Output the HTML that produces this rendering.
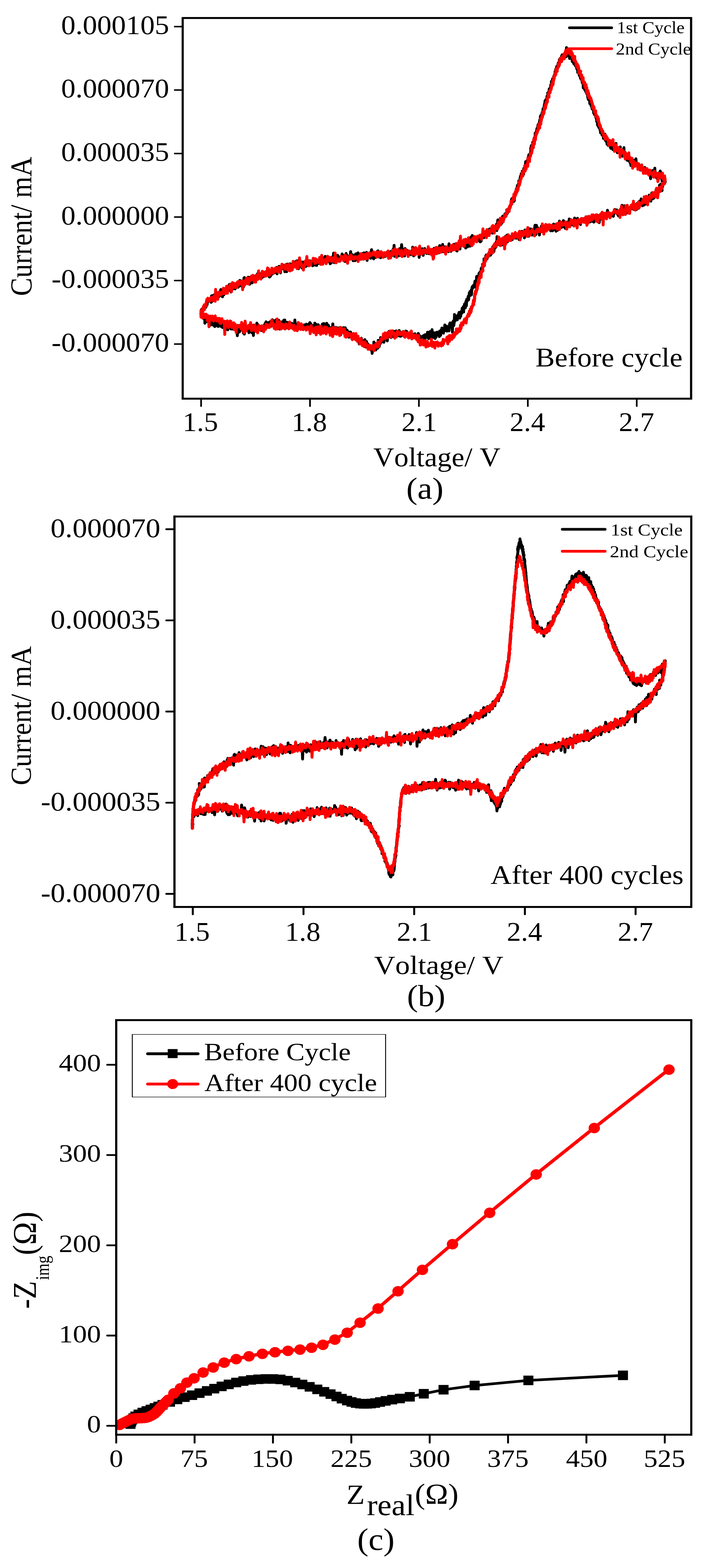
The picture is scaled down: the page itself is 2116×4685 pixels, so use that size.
<!DOCTYPE html>
<html><head><meta charset="utf-8"><title>Figure</title>
<style>
html,body{margin:0;padding:0;background:#fff;}
svg{display:block;}
text{font-family:"Liberation Serif","DejaVu Serif",serif;font-kerning:none;fill:#000;}
</style></head>
<body>
<svg width="2116" height="4685" viewBox="0 0 2116 4685">
<rect width="2116" height="4685" fill="#fff"/>
<polyline points="601.2,946.7 600.7,937.4 600.9,935.1 601.9,925.0 602.3,934.1 602.3,931.3 603.7,929.0 603.2,931.1 604.5,930.2 604.8,922.3 605.9,921.7 606.4,922.1 606.5,926.2 607.3,924.3 608.9,914.2 609.3,913.7 610.0,921.6 610.8,924.7 611.4,915.3 611.6,910.6 612.9,919.0 613.9,910.1 614.9,914.7 615.2,918.2 617.3,911.9 617.7,907.6 619.1,910.3 619.3,901.2 621.1,902.8 621.9,899.3 623.5,900.5 624.1,897.7 625.7,898.5 626.8,896.2 627.4,898.1 628.5,897.0 629.7,897.4 631.0,903.3 632.2,884.0 633.1,900.9 634.3,890.3 635.6,883.1 636.9,888.9 637.9,889.7 639.3,895.1 640.6,880.5 641.9,887.9 642.9,886.4 644.5,873.9 645.8,876.3 646.9,887.1 648.1,886.9 649.5,888.7 650.6,884.3 651.9,882.6 653.4,880.0 654.5,886.4 655.8,872.1 657.1,876.0 658.4,878.7 659.8,865.0 661.1,883.4 662.2,868.8 663.6,872.8 664.9,886.9 666.4,866.4 667.7,867.7 668.9,880.9 670.2,862.6 671.4,866.3 673.0,871.9 674.4,870.9 675.7,871.1 676.9,869.0 678.4,874.9 679.7,872.0 681.0,868.6 682.5,859.4 683.7,858.5 685.1,849.9 686.3,866.7 688.0,849.2 689.5,866.7 690.5,872.5 692.1,852.4 693.4,854.3 694.7,855.1 696.2,863.2 697.4,851.3 698.9,855.6 700.2,852.3 701.6,853.5 702.8,863.3 704.3,859.2 705.8,853.9 707.1,854.6 708.3,858.0 709.9,843.1 711.3,858.5 712.6,853.4 714.1,855.7 715.3,849.8 716.8,837.7 718.2,843.8 719.5,853.0 720.9,847.2 722.4,846.1 723.9,857.9 725.0,860.1 726.3,844.4 727.9,857.1 729.2,830.1 730.6,829.2 732.0,848.3 733.5,840.1 734.8,845.2 736.1,844.2 737.6,839.6 738.9,844.2 740.4,840.1 741.8,828.2 743.2,839.5 744.5,838.7 746.1,849.3 747.3,828.8 748.8,836.0 750.4,832.4 751.6,833.9 753.1,845.4 754.4,836.3 755.8,830.0 757.3,833.7 758.5,837.3 760.1,824.9 761.4,829.3 762.9,841.0 764.3,835.8 765.7,829.2 767.0,825.8 768.5,827.4 769.8,817.5 771.3,833.8 772.8,829.2 774.1,827.3 775.5,817.1 777.0,820.5 778.4,828.3 779.8,826.1 781.1,820.5 782.5,826.8 783.9,829.2 785.3,817.8 786.9,818.3 788.3,815.5 789.7,813.0 791.0,825.8 792.5,823.3 794.0,821.7 795.3,811.0 796.8,811.4 798.1,817.5 799.6,814.7 801.1,817.8 802.5,811.8 803.9,820.5 805.3,827.8 806.7,825.6 808.1,825.5 809.5,814.6 811.0,819.9 812.4,810.7 813.9,819.0 815.2,809.7 816.7,808.5 818.0,807.0 819.5,815.6 821.0,812.3 822.5,811.2 823.8,801.8 825.3,810.0 826.7,798.9 828.1,818.2 829.6,806.8 831.0,808.6 832.4,806.1 833.9,795.7 835.3,796.7 836.7,805.4 838.2,815.3 839.7,797.2 841.1,799.5 842.6,803.6 843.9,792.1 845.5,791.6 846.9,799.9 848.3,802.0 849.7,799.3 851.2,812.0 852.6,800.1 854.1,803.3 855.6,811.3 857.0,811.7 858.5,788.9 859.9,796.8 861.4,806.9 862.9,789.3 864.3,792.1 865.8,789.2 867.2,788.4 868.6,789.6 870.2,798.2 871.6,805.3 873.0,806.7 874.6,796.1 876.0,782.3 877.5,795.0 878.9,792.7 880.4,797.1 881.8,793.5 883.3,781.9 884.8,796.6 886.3,779.4 887.7,788.4 889.2,794.9 890.7,794.9 892.2,802.9 893.6,775.8 895.1,793.9 896.6,795.9 898.0,788.7 899.5,795.0 901.0,782.8 902.4,800.7 903.9,793.3 905.3,782.7 906.9,784.5 908.3,787.4 909.8,783.9 911.2,795.2 912.7,788.9 914.1,796.4 915.6,795.1 917.1,787.2 918.6,785.2 920.1,779.7 921.5,780.4 923.0,780.1 924.4,787.6 925.9,778.9 927.4,785.2 928.8,785.6 930.3,789.5 931.8,782.5 933.3,793.3 934.8,794.1 936.2,777.6 937.7,781.3 939.2,779.8 940.6,780.2 942.1,792.2 943.6,786.2 945.1,789.8 946.5,793.1 948.0,777.8 949.5,779.2 951.0,780.5 952.5,787.0 953.9,779.2 955.4,784.0 956.9,787.3 958.4,787.1 959.9,782.0 961.3,773.4 962.8,767.9 964.3,785.9 965.8,781.2 967.3,771.5 968.8,774.3 970.3,774.4 971.8,765.9 973.2,778.8 974.7,771.6 976.2,774.7 977.7,781.6 979.2,775.7 980.7,779.9 982.2,778.8 983.7,776.0 985.1,775.9 986.6,788.1 988.1,774.1 989.6,786.1 991.1,768.7 992.6,779.7 994.1,775.7 995.6,769.4 997.1,756.2 998.6,784.9 1000.1,766.0 1001.6,767.2 1003.0,774.4 1004.5,773.8 1006.0,775.1 1007.5,771.3 1009.0,762.7 1010.5,778.6 1012.0,766.4 1013.5,773.9 1015.0,776.1 1016.5,780.1 1018.0,770.4 1019.5,769.6 1020.9,770.0 1022.4,758.8 1023.9,766.1 1025.4,764.2 1026.9,763.1 1028.4,771.9 1029.9,768.5 1031.4,781.3 1032.9,780.4 1034.4,757.3 1035.9,770.8 1037.4,763.0 1038.9,773.4 1040.3,770.6 1041.8,775.7 1043.3,771.3 1044.8,774.2 1046.3,766.9 1047.8,751.7 1049.3,760.5 1050.8,762.6 1052.3,765.0 1053.8,761.3 1055.3,779.1 1056.8,766.7 1058.3,776.5 1059.8,765.3 1061.2,778.7 1062.7,759.1 1064.2,771.2 1065.7,757.9 1067.2,769.8 1068.7,777.5 1070.2,755.4 1071.7,760.5 1073.2,767.9 1074.7,764.8 1076.2,774.8 1077.7,773.7 1079.2,766.0 1080.7,774.3 1082.1,767.5 1083.7,757.4 1085.1,761.8 1086.6,774.3 1088.1,755.4 1089.6,761.5 1091.1,768.6 1092.6,771.2 1094.1,769.8 1095.6,754.0 1097.1,778.1 1098.6,762.6 1100.1,763.6 1101.6,763.4 1103.1,761.7 1104.6,756.5 1106.0,760.7 1107.5,771.8 1109.0,753.3 1110.5,745.9 1112.0,765.9 1113.5,764.4 1115.0,766.9 1116.5,773.5 1118.0,756.7 1119.5,762.7 1121.0,764.7 1122.5,769.5 1123.9,768.0 1125.4,755.1 1126.9,751.3 1128.4,758.7 1129.9,749.4 1131.4,767.8 1132.9,757.4 1134.4,757.5 1135.9,753.7 1137.4,770.0 1138.9,761.5 1140.4,756.6 1141.9,763.4 1143.4,758.5 1144.9,763.0 1146.3,767.8 1147.8,756.9 1149.3,762.0 1150.8,761.7 1152.3,766.0 1153.8,762.2 1155.3,758.3 1156.8,753.6 1158.3,759.9 1159.8,750.6 1161.3,762.1 1162.8,757.9 1164.3,761.2 1165.8,753.8 1167.3,751.8 1168.8,750.9 1170.3,764.6 1171.8,755.5 1173.3,755.3 1174.8,744.6 1176.3,756.3 1177.8,733.1 1179.3,765.8 1180.8,754.8 1182.3,756.5 1183.8,746.6 1185.3,748.8 1186.8,760.3 1188.3,754.7 1189.8,758.9 1191.3,764.6 1192.7,760.4 1194.2,742.9 1195.7,749.0 1197.2,747.9 1198.7,749.4 1200.2,731.1 1201.7,741.4 1203.2,750.3 1204.7,751.2 1206.2,758.7 1207.7,752.9 1209.2,764.7 1210.7,742.5 1212.2,745.4 1213.7,756.5 1215.2,752.8 1216.7,747.9 1218.2,759.8 1219.7,761.9 1221.2,763.3 1222.7,751.6 1224.2,754.2 1225.7,755.7 1227.2,754.4 1228.7,760.9 1230.2,750.5 1231.7,756.3 1233.2,738.6 1234.7,758.7 1236.2,764.7 1237.7,753.2 1239.2,760.4 1240.7,742.0 1242.2,750.9 1243.7,742.6 1245.2,755.2 1246.7,756.5 1248.2,743.5 1249.7,747.0 1251.2,748.7 1252.7,769.1 1254.2,752.0 1255.7,753.2 1257.2,754.8 1258.7,754.3 1260.2,750.5 1261.7,743.0 1263.2,747.4 1264.7,763.0 1266.2,753.5 1267.7,749.2 1269.2,742.4 1270.7,751.1 1272.2,751.6 1273.7,746.9 1275.2,757.3 1276.7,747.1 1278.2,749.9 1279.7,756.6 1281.2,752.3 1282.7,758.3 1284.2,749.0 1285.6,747.5 1287.1,753.5 1288.6,751.7 1290.1,758.1 1291.6,752.7 1293.1,749.6 1294.6,752.7 1296.1,754.0 1297.6,741.8 1299.1,748.3 1300.6,746.8 1302.1,757.1 1303.5,745.5 1305.0,755.8 1306.5,739.8 1308.0,747.9 1309.5,755.3 1311.0,746.1 1312.5,755.5 1314.0,733.7 1315.5,747.4 1317.0,748.1 1318.4,745.9 1320.0,736.3 1321.4,750.8 1322.9,730.2 1324.4,752.2 1325.9,747.5 1327.4,752.0 1328.8,743.3 1330.3,737.2 1331.8,740.9 1333.2,741.0 1334.7,747.9 1336.1,741.4 1337.6,746.0 1339.0,746.1 1340.5,752.1 1341.9,728.6 1343.3,738.9 1344.8,745.9 1346.2,745.5 1347.7,751.0 1349.1,738.2 1350.5,738.8 1351.9,739.9 1353.4,734.7 1354.8,733.7 1356.3,730.0 1357.6,734.5 1359.1,745.9 1360.5,729.6 1361.9,742.1 1363.4,748.2 1364.6,736.0 1366.1,750.0 1367.5,732.7 1369.1,744.4 1370.4,732.4 1371.9,724.0 1373.3,734.1 1374.7,744.0 1376.1,726.8 1377.6,733.6 1378.9,723.1 1380.4,723.4 1381.8,732.0 1383.2,727.2 1384.5,731.7 1386.0,736.0 1387.4,719.0 1389.0,721.8 1390.2,726.2 1391.7,741.1 1393.2,722.8 1394.5,721.2 1396.0,726.9 1397.3,737.7 1398.8,719.0 1400.2,720.4 1401.5,722.2 1403.0,726.5 1404.3,735.7 1405.8,712.0 1407.3,708.7 1408.6,720.5 1410.0,722.5 1411.4,703.4 1412.9,713.8 1414.3,723.9 1415.7,713.4 1417.1,719.7 1418.5,717.1 1420.0,719.8 1421.4,717.8 1422.9,716.1 1424.2,722.2 1425.6,709.5 1427.1,713.6 1428.2,719.8 1429.7,707.9 1431.2,708.6 1432.5,705.4 1433.8,703.6 1435.3,722.8 1436.7,711.8 1437.9,720.6 1439.5,712.3 1440.5,707.3 1441.9,704.2 1443.2,707.2 1444.6,704.4 1445.8,710.1 1447.3,697.6 1448.8,703.7 1450.0,705.0 1451.2,699.6 1452.6,698.9 1454.0,703.3 1455.1,702.6 1456.6,697.4 1458.2,697.2 1459.1,692.9 1460.4,699.4 1461.6,694.1 1463.2,683.9 1464.1,691.2 1465.5,696.3 1467.1,693.3 1467.9,685.0 1469.2,694.4 1470.4,692.7 1471.4,691.8 1472.4,696.7 1474.2,684.0 1475.2,688.9 1476.1,682.6 1477.8,689.3 1478.3,689.3 1479.4,684.2 1480.3,684.7 1481.8,674.2 1482.9,681.8 1483.8,669.9 1484.9,688.8 1485.8,681.6 1486.8,664.7 1487.9,657.0 1489.5,679.0 1490.2,665.4 1491.3,672.3 1492.7,660.6 1493.6,667.2 1494.4,662.0 1495.5,667.9 1496.0,661.5 1497.0,670.4 1498.7,656.8 1499.5,666.8 1500.2,658.6 1501.3,660.3 1501.7,647.8 1502.5,645.8 1503.3,659.3 1503.6,646.2 1504.5,649.6 1505.8,648.5 1506.2,644.2 1507.3,648.6 1508.9,639.2 1509.1,639.1 1509.6,648.2 1510.8,638.4 1511.4,644.7 1511.9,643.0 1512.3,645.8 1513.9,639.3 1514.3,627.0 1514.8,631.3 1515.2,631.2 1516.4,637.6 1516.9,632.1 1517.5,626.8 1518.8,629.8 1519.0,624.8 1520.2,627.7 1521.0,624.5 1521.1,627.6 1521.9,622.7 1522.6,624.3 1523.1,618.4 1524.1,620.3 1524.3,615.0 1524.9,617.3 1525.3,614.0 1526.5,611.1 1527.3,608.4 1528.1,607.7 1528.2,609.6 1528.7,596.0 1528.8,610.3 1530.2,593.0 1531.0,601.2 1531.5,599.2 1531.9,602.5 1533.3,598.9 1533.0,596.3 1533.2,595.5 1534.0,597.8 1535.0,602.4 1535.4,592.5 1537.0,580.7 1536.5,586.3 1537.3,588.5 1537.3,599.4 1537.6,580.7 1539.1,581.0 1539.6,583.5 1538.9,581.1 1540.5,572.8 1541.1,580.9 1542.1,570.0 1541.9,573.0 1542.1,578.2 1542.7,565.9 1543.7,568.5 1543.3,575.3 1544.5,566.0 1544.8,561.4 1545.0,561.9 1545.2,566.1 1546.1,555.1 1547.2,557.4 1547.4,552.7 1548.1,552.4 1547.2,560.7 1548.7,553.8 1548.7,551.0 1549.8,553.0 1549.9,547.0 1551.2,543.6 1550.4,551.6 1551.2,549.1 1550.2,540.8 1553.1,545.5 1552.0,547.1 1552.5,541.8 1553.6,540.4 1554.8,532.0 1554.1,535.0 1555.4,526.5 1554.8,537.2 1556.4,530.6 1556.5,535.3 1557.3,525.3 1557.6,530.7 1557.7,519.0 1558.2,522.5 1559.2,525.1 1559.8,523.0 1560.5,519.8 1560.8,511.5 1561.1,523.0 1561.8,518.8 1562.1,519.5 1562.8,518.1 1563.7,510.1 1564.4,512.1 1564.8,520.9 1565.2,503.9 1566.2,508.1 1566.0,502.4 1567.5,511.4 1568.1,502.9 1568.1,496.1 1568.9,496.7 1570.2,491.7 1570.8,486.4 1570.9,483.1 1571.8,490.7 1571.1,487.5 1573.2,491.9 1574.2,486.1 1573.7,489.4 1573.5,494.9 1575.2,480.5 1576.3,479.0 1576.1,487.1 1577.5,491.6 1577.7,476.4 1577.9,471.6 1578.8,476.1 1579.5,474.2 1579.5,477.9 1579.2,468.7 1579.5,470.6 1579.8,469.0 1580.5,462.5 1582.3,461.1 1582.5,467.7 1581.9,466.7 1583.5,459.9 1582.8,467.8 1583.9,463.8 1584.2,460.5 1584.2,459.7 1584.8,457.2 1584.9,457.2 1585.6,456.3 1586.5,451.7 1586.0,442.0 1587.1,447.9 1586.6,443.9 1588.4,441.0 1587.4,446.5 1587.7,435.8 1588.6,444.5 1588.9,437.3 1589.3,433.6 1590.0,433.5 1589.5,444.6 1591.4,439.8 1590.7,431.5 1591.3,435.3 1591.5,436.7 1592.2,424.8 1593.3,425.6 1593.1,429.0 1593.8,425.5 1595.4,421.0 1595.1,427.6 1595.2,421.7 1594.7,421.4 1596.2,426.4 1596.7,417.3 1596.7,424.6 1596.3,413.7 1597.5,410.4 1597.6,410.1 1599.1,411.7 1599.1,409.4 1599.5,406.8 1599.4,397.8 1599.9,398.0 1601.2,399.9 1601.6,402.6 1602.4,404.1 1602.3,396.8 1602.6,394.7 1603.4,392.0 1603.1,392.0 1603.9,391.9 1604.2,386.1 1605.4,382.7 1604.7,390.9 1605.5,388.4 1606.3,382.1 1607.0,381.9 1607.2,378.1 1607.9,373.8 1608.0,380.8 1608.1,374.0 1609.1,370.7 1610.2,371.4 1610.0,379.2 1610.5,372.8 1611.1,370.5 1611.6,368.5 1611.9,370.3 1611.6,368.3 1613.3,358.6 1614.2,361.5 1613.4,358.3 1613.9,360.5 1614.8,357.9 1615.0,348.5 1614.6,360.0 1617.1,354.9 1616.1,345.3 1617.7,355.6 1617.3,350.0 1617.6,350.0 1617.7,346.8 1618.7,345.9 1619.3,341.7 1620.4,335.6 1620.2,338.4 1620.5,340.2 1621.1,338.2 1621.1,339.2 1622.3,334.8 1623.0,324.6 1622.9,335.3 1623.5,327.6 1623.8,323.9 1623.9,326.7 1625.4,321.0 1624.6,326.5 1625.9,319.9 1626.4,330.1 1625.9,319.7 1627.3,317.1 1626.6,315.2 1628.2,307.7 1627.4,311.5 1629.3,310.5 1629.2,310.8 1628.7,301.7 1629.4,309.4 1630.0,313.1 1630.6,304.7 1631.0,297.9 1631.6,305.3 1632.3,298.9 1632.1,298.9 1633.0,303.2 1633.6,298.7 1635.5,291.5 1634.6,287.8 1634.5,302.9 1635.5,294.0 1636.6,284.3 1636.8,290.0 1636.6,290.7 1637.7,287.0 1636.9,277.5 1638.3,291.1 1639.0,284.7 1638.8,280.1 1640.3,282.2 1640.0,277.1 1640.5,275.2 1640.4,278.8 1641.4,265.7 1641.9,276.4 1642.5,272.5 1642.3,272.6 1643.2,271.7 1643.6,272.9 1644.3,271.0 1644.3,267.3 1644.7,260.8 1646.8,263.7 1646.6,257.5 1645.7,254.2 1647.3,258.4 1646.7,256.6 1647.6,258.4 1648.0,243.7 1648.3,253.2 1648.8,252.0 1649.1,248.4 1650.0,252.4 1650.7,241.5 1651.3,244.9 1649.6,240.6 1652.3,240.6 1651.6,235.3 1651.4,237.2 1652.6,239.0 1654.3,235.4 1654.4,234.8 1654.7,228.9 1654.1,237.0 1655.8,226.3 1656.3,227.8 1656.7,228.7 1656.9,224.1 1656.6,226.5 1656.9,222.8 1657.4,227.6 1658.2,221.4 1658.7,219.4 1659.1,212.9 1659.3,216.8 1659.3,217.7 1660.4,213.8 1660.7,206.7 1662.0,206.9 1662.8,206.9 1662.9,206.6 1663.6,199.1 1664.0,211.8 1664.4,201.9 1664.5,201.4 1665.1,197.6 1666.1,198.0 1666.1,205.4 1667.7,191.3 1667.8,191.8 1668.5,188.1 1669.0,188.9 1669.4,197.2 1670.2,185.9 1671.3,185.3 1672.0,177.5 1672.4,183.1 1673.0,184.6 1674.0,179.8 1674.2,178.9 1675.4,183.6 1675.8,180.9 1676.8,176.4 1678.2,171.7 1678.8,166.6 1679.1,182.0 1680.1,163.7 1681.3,174.1 1681.7,168.4 1683.0,164.2 1684.5,171.8 1684.9,161.8 1686.1,171.7 1686.7,170.6 1688.1,165.1 1688.7,168.0 1689.7,154.3 1691.2,170.0 1691.8,161.9 1693.0,142.2 1694.0,163.9 1695.2,167.3 1696.2,152.4 1697.4,153.2 1697.7,157.5 1699.1,146.1 1699.5,158.5 1700.7,163.7 1702.1,158.2 1702.1,167.7 1702.3,174.9 1704.3,155.2 1705.4,157.1 1705.7,164.1 1706.3,172.3 1707.2,172.2 1708.3,166.8 1708.8,167.0 1709.1,170.3 1710.3,183.9 1711.4,171.8 1712.1,175.0 1713.0,183.9 1714.0,179.2 1715.1,177.0 1714.6,190.0 1716.1,186.0 1716.5,182.5 1717.2,185.3 1717.2,192.7 1718.9,188.1 1718.3,192.3 1719.6,196.5 1721.4,198.3 1720.9,186.9 1722.1,194.4 1722.0,196.4 1722.5,199.8 1723.8,204.1 1724.4,207.2 1724.5,201.5 1724.9,200.0 1725.6,207.1 1726.4,205.1 1726.6,216.5 1728.1,212.0 1727.9,212.1 1728.5,217.5 1728.9,211.8 1729.2,214.6 1730.6,216.7 1730.6,221.6 1731.7,225.8 1732.0,225.0 1733.9,226.3 1733.5,223.5 1734.7,227.5 1733.3,226.3 1734.9,233.6 1735.7,227.4 1735.4,231.2 1736.6,233.9 1736.7,237.6 1738.3,232.5 1738.0,236.1 1738.6,234.9 1740.3,234.1 1739.7,245.9 1739.8,244.6 1741.1,237.6 1741.0,241.3 1741.3,249.2 1742.6,245.6 1743.3,262.5 1742.9,256.3 1744.6,250.3 1743.9,252.2 1745.1,257.6 1746.2,253.6 1746.5,258.1 1746.2,260.1 1747.1,263.9 1747.4,259.1 1747.4,268.1 1749.2,266.4 1750.6,273.9 1749.5,268.7 1749.7,266.9 1750.7,268.3 1751.7,267.2 1752.4,273.4 1752.3,274.5 1753.7,279.9 1753.3,277.9 1754.3,275.4 1755.9,284.7 1755.4,280.0 1755.9,284.3 1756.6,290.7 1756.7,291.3 1757.4,284.3 1757.4,288.3 1757.8,295.8 1758.3,295.7 1759.8,295.3 1759.3,298.1 1760.7,286.7 1762.2,295.9 1762.0,292.5 1761.8,297.3 1762.8,309.8 1763.9,304.7 1763.4,309.1 1764.8,308.8 1763.9,308.1 1764.7,306.8 1766.3,315.1 1765.7,312.2 1767.5,305.0 1767.1,313.6 1768.0,317.4 1768.3,312.6 1768.4,319.0 1769.8,325.8 1769.9,319.8 1770.9,322.0 1770.3,323.4 1770.3,320.9 1772.0,324.4 1772.5,323.6 1773.0,328.0 1773.9,327.2 1774.3,336.0 1773.8,332.9 1774.5,338.4 1775.3,330.9 1776.2,337.5 1776.6,341.4 1777.4,343.3 1776.6,339.2 1778.7,342.8 1778.7,345.1 1779.4,344.6 1780.5,345.7 1780.6,351.0 1780.6,345.4 1781.1,344.2 1782.5,351.1 1782.4,355.7 1783.2,346.6 1783.3,363.0 1784.7,359.3 1785.7,362.7 1784.6,358.3 1785.2,363.0 1785.6,372.1 1785.8,373.7 1787.8,370.1 1788.1,367.8 1787.0,370.0 1787.7,377.3 1789.1,370.3 1789.2,370.8 1790.2,375.5 1789.9,381.3 1791.5,374.4 1790.5,381.8 1791.9,383.3 1792.0,383.7 1792.8,383.8 1793.7,389.9 1793.7,389.7 1794.3,382.2 1794.8,397.0 1796.4,393.3 1795.5,394.1 1796.7,392.4 1797.8,394.0 1797.5,385.0 1798.0,396.8 1799.5,402.0 1799.2,403.4 1799.7,398.6 1801.5,391.9 1802.0,399.0 1803.2,404.3 1803.3,413.4 1804.7,400.5 1804.9,409.9 1805.5,414.1 1807.2,415.6 1808.1,413.3 1808.1,400.7 1809.1,419.5 1810.2,418.3 1811.2,421.8 1811.9,415.0 1812.7,418.7 1814.3,430.9 1814.8,423.2 1815.2,424.8 1816.3,421.8 1817.4,434.4 1818.9,418.2 1819.9,425.9 1820.4,432.7 1822.0,430.7 1822.9,437.5 1824.1,435.5 1825.2,443.0 1826.2,432.9 1827.5,434.3 1829.1,437.8 1830.1,424.9 1831.6,447.0 1833.0,432.2 1834.2,446.6 1835.7,449.4 1837.1,447.3 1838.6,442.6 1839.8,437.7 1841.1,428.4 1842.5,447.3 1843.6,442.7 1845.1,456.4 1846.3,443.9 1847.7,450.8 1849.0,444.9 1850.1,451.2 1851.1,447.0 1852.7,449.1 1853.7,439.1 1854.6,447.5 1855.9,452.0 1857.5,462.0 1858.2,456.7 1859.3,448.4 1860.6,466.8 1861.8,460.2 1862.6,465.9 1863.4,454.5 1864.7,441.0 1865.6,457.5 1867.4,456.9 1868.2,465.9 1869.1,455.9 1869.7,460.9 1871.2,459.0 1872.8,469.3 1873.6,463.8 1874.5,479.0 1874.9,476.5 1876.8,477.8 1877.8,472.3 1879.3,476.1 1880.1,481.1 1881.4,471.3 1882.7,485.5 1883.5,478.1 1884.5,487.6 1885.8,494.9 1887.2,491.4 1888.7,475.4 1889.7,491.0 1890.6,482.1 1892.3,482.3 1893.0,493.2 1894.4,479.2 1895.5,489.3 1896.9,484.0 1897.8,496.8 1899.2,492.5 1900.6,474.4 1901.6,485.9 1902.9,486.4 1904.1,489.3 1905.1,490.4 1906.6,496.9 1907.6,495.3 1909.0,490.0 1910.2,500.9 1911.5,504.9 1913.0,499.7 1914.0,508.3 1915.5,504.1 1916.7,498.3 1917.9,500.2 1919.2,503.6 1920.5,507.9 1921.8,506.2 1923.0,512.3 1924.4,514.3 1925.7,500.6 1927.0,500.3 1928.3,508.1 1929.6,512.6 1930.9,516.4 1932.5,515.3 1933.7,515.8 1934.9,506.2 1936.3,515.6 1937.6,509.5 1939.2,517.3 1940.2,521.2 1941.8,511.3 1943.0,514.8 1944.4,533.7 1945.7,512.6 1947.3,514.8 1948.7,511.4 1950.0,509.6 1951.3,526.7 1952.6,515.8 1954.1,516.7 1955.6,515.9 1957.0,502.6 1958.5,527.4 1960.0,518.8 1961.5,522.6 1963.0,532.6 1964.6,522.6 1966.1,524.8 1967.6,525.5 1969.1,533.4 1970.5,515.7 1971.9,521.5 1973.3,510.9 1974.8,526.5 1976.2,531.2 1977.2,524.5 1978.7,541.4 1979.8,535.4 1981.6,542.6 1982.9,532.0 1984.2,543.3 1985.2,530.1 1985.4,536.7 1987.2,536.3 1987.5,535.2 1988.0,543.8 1988.3,544.0 1987.8,538.0 1987.1,544.8 1987.0,543.7 1986.1,545.5 1985.1,549.0 1984.9,545.1 1983.6,550.0 1982.6,552.0 1982.4,548.7 1981.0,550.5 1980.2,559.0 1978.8,556.0 1978.7,569.4 1978.5,569.7 1977.0,555.4 1976.1,562.3 1974.7,550.3 1974.3,559.1 1972.5,558.7 1971.7,560.5 1971.0,553.5 1970.5,568.7 1969.1,569.1 1967.7,564.4 1966.3,569.9 1965.8,577.0 1964.1,582.2 1963.0,565.4 1962.4,584.2 1961.3,565.1 1959.8,571.5 1959.0,575.2 1958.1,588.1 1956.8,583.3 1955.9,584.2 1954.9,591.3 1953.9,584.0 1952.8,580.7 1951.4,593.7 1950.1,584.0 1948.8,578.3 1948.2,576.2 1946.5,589.2 1945.3,601.1 1943.9,594.8 1943.2,591.2 1941.8,599.6 1940.3,582.9 1938.9,596.3 1937.9,590.8 1936.7,604.2 1935.5,590.5 1934.1,602.1 1933.0,599.0 1931.9,598.6 1930.7,603.9 1929.4,599.3 1928.0,610.4 1927.0,600.4 1925.4,588.2 1924.2,612.9 1922.6,613.0 1921.4,608.3 1920.2,615.0 1918.8,611.1 1917.4,601.7 1916.2,594.3 1914.9,601.7 1913.5,607.5 1912.4,613.6 1910.9,601.3 1909.7,605.4 1908.3,622.4 1906.9,608.1 1905.6,608.5 1904.3,607.6 1902.8,625.7 1901.6,620.6 1900.2,621.9 1899.0,627.7 1897.6,623.5 1896.0,626.7 1894.8,620.6 1893.3,624.5 1891.9,623.4 1890.6,624.4 1889.0,612.1 1887.7,619.1 1886.3,618.6 1884.9,617.1 1883.4,621.7 1882.0,634.8 1880.6,629.3 1879.1,624.0 1877.7,626.1 1876.3,633.8 1874.8,616.3 1873.4,627.7 1871.9,636.8 1870.5,638.2 1869.0,632.5 1867.5,630.5 1866.1,614.8 1864.6,622.7 1863.2,627.7 1861.7,631.0 1860.4,631.6 1858.9,613.6 1857.4,626.0 1856.0,631.9 1854.5,625.2 1853.0,629.4 1851.5,634.8 1850.2,633.9 1848.7,645.2 1847.3,637.7 1845.9,640.8 1844.5,631.6 1843.0,626.9 1841.6,629.7 1840.2,631.6 1838.7,635.1 1837.2,625.6 1835.9,631.1 1834.5,635.1 1833.1,646.5 1831.5,641.3 1830.2,637.1 1828.7,644.6 1827.3,640.3 1825.8,641.1 1824.4,647.2 1822.9,642.7 1821.5,641.8 1820.1,646.1 1818.7,637.9 1817.2,642.4 1815.7,628.2 1814.3,640.0 1812.8,653.7 1811.4,641.2 1809.9,644.0 1808.5,641.4 1807.0,637.7 1805.6,648.3 1804.1,645.2 1802.6,653.1 1801.2,640.0 1799.7,646.6 1798.3,644.3 1796.8,642.9 1795.3,654.6 1793.9,642.6 1792.4,642.9 1790.9,665.3 1789.5,647.9 1788.0,647.3 1786.5,652.2 1785.0,642.4 1783.6,652.0 1782.1,641.8 1780.6,646.9 1779.2,646.5 1777.6,659.9 1776.2,655.3 1774.7,663.8 1773.2,662.9 1771.8,647.1 1770.3,655.6 1768.8,649.4 1767.3,648.3 1765.8,661.0 1764.4,662.9 1762.9,654.3 1761.4,656.0 1759.9,656.0 1758.5,656.5 1757.0,657.0 1755.5,648.0 1754.1,659.4 1752.6,650.8 1751.1,647.7 1749.6,655.2 1748.2,658.3 1746.7,662.5 1745.2,659.6 1743.7,659.4 1742.3,653.2 1740.9,660.7 1739.4,659.8 1737.9,660.7 1736.5,653.9 1735.0,670.9 1733.6,664.8 1732.1,664.6 1730.6,661.0 1729.2,658.7 1727.7,667.3 1726.2,652.3 1724.7,658.5 1723.3,660.0 1721.8,666.2 1720.3,660.6 1718.9,672.7 1717.4,651.4 1715.9,674.3 1714.5,666.2 1713.1,670.7 1711.6,661.2 1710.1,672.1 1708.7,663.1 1707.2,667.4 1705.8,655.9 1704.2,670.1 1702.8,667.5 1701.3,654.2 1699.9,666.7 1698.4,665.5 1697.0,673.6 1695.5,663.7 1694.0,670.0 1692.6,677.8 1691.1,663.4 1689.7,682.5 1688.3,671.7 1686.7,668.8 1685.2,661.4 1683.8,659.0 1682.3,677.9 1680.9,668.6 1679.4,667.8 1678.0,679.7 1676.5,677.4 1675.1,673.9 1673.6,663.4 1672.1,660.5 1670.6,680.6 1669.2,674.1 1667.7,673.0 1666.3,688.2 1664.8,672.6 1663.3,678.3 1661.9,690.9 1660.4,680.7 1659.0,673.1 1657.5,671.5 1656.0,685.9 1654.6,669.5 1653.1,684.0 1651.7,689.7 1650.2,678.3 1648.7,684.9 1647.3,680.2 1645.8,689.7 1644.4,682.2 1642.9,675.9 1641.4,683.5 1640.0,682.4 1638.5,677.5 1637.0,680.4 1635.5,674.1 1634.1,677.0 1632.7,687.4 1631.2,670.8 1629.7,685.6 1628.2,684.1 1626.8,680.3 1625.3,694.3 1623.9,689.8 1622.4,681.3 1620.9,687.1 1619.4,692.3 1618.0,675.7 1616.6,688.2 1615.1,685.4 1613.6,690.1 1612.2,702.2 1610.7,683.7 1609.3,686.2 1607.8,680.7 1606.3,690.7 1604.9,693.8 1603.4,673.2 1602.0,700.3 1600.5,701.6 1599.1,672.9 1597.7,681.1 1596.2,695.1 1594.7,692.9 1593.3,700.7 1591.9,691.2 1590.5,702.3 1588.9,684.6 1587.5,697.2 1586.0,691.8 1584.6,692.0 1583.2,683.5 1581.8,693.3 1580.3,705.8 1578.8,692.5 1577.4,695.7 1575.9,698.6 1574.5,691.6 1573.1,700.4 1571.7,702.8 1570.1,697.8 1568.8,687.2 1567.4,710.7 1565.8,701.1 1564.4,701.0 1563.0,700.1 1561.5,698.0 1560.2,691.1 1558.7,702.5 1557.2,704.3 1555.8,710.4 1554.4,715.2 1552.9,699.5 1551.4,715.9 1550.1,705.9 1548.6,709.7 1547.1,699.2 1545.7,708.9 1544.2,700.5 1542.7,711.9 1541.3,699.1 1539.8,708.3 1538.4,705.5 1536.9,711.1 1535.4,710.8 1534.0,710.5 1532.5,706.4 1531.0,716.1 1529.5,714.5 1528.1,705.6 1526.6,716.4 1525.2,707.3 1523.7,712.7 1522.2,711.9 1520.8,712.3 1519.4,718.8 1518.0,701.5 1516.6,722.9 1515.2,702.7 1513.7,723.6 1512.4,719.5 1510.9,706.1 1509.5,719.2 1508.2,715.1 1506.8,709.9 1505.5,726.7 1503.9,726.6 1502.6,722.3 1501.2,731.7 1499.6,722.1 1498.1,719.9 1497.0,731.3 1495.7,718.3 1494.3,729.3 1493.1,732.1 1491.9,727.0 1490.5,727.0 1489.6,730.3 1488.2,729.6 1487.0,724.3 1485.4,706.9 1484.7,727.4 1483.2,722.4 1482.3,738.5 1481.3,730.7 1480.9,736.0 1479.3,740.1 1477.9,742.8 1477.4,732.4 1476.1,751.5 1475.5,745.4 1474.2,744.9 1472.9,737.3 1471.9,755.0 1471.0,748.5 1470.4,752.2 1469.3,745.6 1468.6,758.9 1467.6,757.7 1466.6,750.3 1465.7,762.8 1464.6,747.6 1464.0,759.1 1463.6,759.1 1462.5,760.5 1461.7,754.4 1461.3,757.4 1459.5,765.5 1459.2,767.2 1458.4,762.8 1457.4,763.0 1456.2,763.0 1455.6,773.5 1455.2,767.5 1454.3,766.8 1453.3,761.6 1453.4,763.5 1452.2,768.0 1451.5,765.1 1451.7,774.0 1450.4,775.8 1449.7,774.0 1450.2,778.0 1448.9,780.8 1448.0,774.7 1446.6,787.1 1446.6,773.2 1446.4,795.2 1446.5,781.7 1445.0,789.6 1444.5,789.3 1444.3,793.9 1443.6,790.4 1443.0,797.4 1442.1,789.8 1442.2,801.1 1441.7,798.1 1440.9,802.3 1440.3,806.5 1440.5,798.4 1438.4,802.4 1437.8,803.1 1438.5,807.3 1437.2,809.8 1437.6,813.7 1435.9,812.9 1434.5,812.6 1435.1,817.1 1434.1,820.7 1434.9,821.8 1433.3,828.3 1432.8,817.3 1432.8,822.6 1431.7,816.7 1431.2,821.1 1429.7,828.5 1429.9,832.8 1429.1,826.0 1428.2,831.8 1427.4,831.4 1427.2,834.7 1425.7,834.7 1425.3,832.7 1424.7,825.7 1424.1,830.6 1423.9,840.8 1422.7,839.9 1422.3,851.5 1421.8,843.2 1420.4,848.7 1419.6,840.1 1419.4,840.4 1418.6,849.3 1418.8,857.6 1417.8,852.9 1416.4,850.8 1416.0,855.6 1414.5,857.9 1413.8,858.5 1414.1,857.8 1413.4,854.2 1412.6,855.1 1413.1,859.4 1411.8,862.5 1410.7,858.5 1409.6,873.0 1409.1,880.8 1408.7,866.2 1407.7,873.3 1407.0,882.0 1407.5,873.8 1406.4,875.0 1405.0,879.9 1404.7,871.0 1404.3,875.8 1404.1,876.3 1403.3,884.3 1402.5,875.2 1402.5,885.2 1400.5,883.2 1401.9,885.4 1401.2,885.6 1400.6,895.7 1399.2,887.1 1398.8,887.1 1398.5,894.9 1397.7,892.5 1397.2,898.6 1397.0,897.5 1395.8,899.3 1395.7,900.8 1394.6,894.5 1394.8,894.4 1394.0,913.6 1392.4,900.8 1392.2,909.7 1391.9,903.6 1391.0,909.7 1390.4,910.2 1391.1,919.5 1390.0,913.1 1388.5,908.2 1388.0,910.1 1387.1,919.5 1386.4,923.5 1385.3,930.3 1385.9,932.2 1384.7,916.6 1384.4,924.2 1383.0,920.1 1383.4,928.7 1382.2,932.6 1381.4,921.0 1379.3,935.5 1380.0,936.2 1378.2,932.6 1376.5,932.2 1377.3,944.9 1376.3,937.0 1375.0,946.4 1374.2,950.6 1373.5,946.9 1372.5,946.3 1371.9,933.5 1370.8,937.8 1370.3,944.1 1370.5,948.3 1368.0,949.5 1367.5,942.8 1366.6,956.1 1365.8,954.8 1364.7,944.2 1363.6,948.8 1362.7,954.8 1361.5,947.7 1360.1,957.8 1359.6,959.7 1358.4,939.6 1357.4,964.3 1356.3,972.8 1354.9,959.1 1354.2,967.0 1353.0,962.4 1352.2,992.3 1350.7,974.9 1349.2,968.2 1348.3,965.5 1347.5,975.1 1346.0,970.9 1345.3,964.7 1344.0,967.0 1342.9,973.2 1341.9,988.7 1340.5,982.9 1339.6,985.7 1338.7,984.0 1337.2,987.7 1335.8,989.5 1334.8,974.5 1334.0,986.1 1332.9,987.3 1331.2,987.5 1330.4,988.1 1329.4,971.0 1328.0,988.8 1326.8,980.2 1325.3,995.6 1324.3,987.3 1322.8,989.8 1322.2,992.1 1320.7,980.0 1319.4,993.0 1318.1,986.5 1316.9,1001.9 1315.5,992.7 1314.3,989.3 1313.0,1005.8 1311.6,995.9 1310.3,991.8 1308.9,998.0 1307.6,997.7 1306.2,1001.0 1304.8,992.8 1303.3,1007.2 1301.8,1002.4 1300.4,1011.5 1298.8,1004.5 1297.4,994.2 1295.8,1008.3 1294.3,999.5 1292.8,1002.2 1291.3,985.0 1289.7,993.4 1288.2,1011.5 1286.7,1009.9 1285.2,990.7 1283.7,1005.1 1282.2,1005.5 1280.7,1012.0 1279.2,996.4 1277.8,992.4 1276.3,1006.7 1274.9,1000.5 1273.3,1001.4 1271.9,999.8 1270.5,1014.7 1269.0,1000.8 1267.4,1013.7 1266.0,1011.7 1264.5,1003.4 1263.1,1014.8 1261.6,1017.1 1260.2,1011.1 1258.7,1007.3 1257.2,1014.2 1255.8,1004.0 1254.4,1012.5 1252.9,1019.4 1251.5,999.6 1250.1,996.1 1248.7,1012.8 1247.3,1001.4 1245.9,1003.6 1244.7,1007.0 1243.0,1001.2 1241.5,1005.4 1240.4,997.3 1238.8,999.5 1237.6,1001.8 1236.0,1005.4 1234.9,998.2 1233.5,1002.7 1231.9,1004.0 1230.5,1003.0 1229.1,998.5 1227.6,1008.0 1226.2,993.7 1224.7,1005.9 1223.2,1005.4 1221.8,1004.6 1220.3,994.9 1218.8,1004.9 1217.3,1001.5 1215.8,990.5 1214.3,995.9 1212.8,989.0 1211.3,1000.4 1209.8,1007.2 1208.3,1004.0 1206.7,990.8 1205.2,990.7 1203.7,996.2 1202.2,996.4 1200.7,1002.4 1199.2,995.1 1197.7,1004.9 1196.2,993.6 1194.7,1004.3 1193.2,987.4 1191.7,993.5 1190.2,997.5 1188.7,1002.9 1187.2,1000.9 1185.7,991.5 1184.1,988.6 1182.6,997.5 1181.0,997.2 1179.5,995.3 1178.0,998.1 1176.4,989.4 1174.9,1002.2 1173.3,1005.8 1171.8,993.3 1170.2,993.9 1168.8,1008.4 1167.3,1007.7 1165.8,995.4 1164.4,996.6 1162.9,989.8 1161.5,1005.4 1160.1,1003.8 1158.7,1003.1 1157.5,1018.6 1156.0,1002.6 1154.9,1003.5 1153.5,1006.5 1152.6,1004.2 1151.4,1013.3 1150.1,1006.0 1149.3,1008.7 1147.3,1022.6 1146.8,1006.5 1146.2,1004.0 1144.6,1013.1 1143.3,1009.8 1142.7,1010.9 1141.7,1017.0 1140.9,1021.7 1139.8,1009.5 1138.3,1018.2 1137.6,1008.6 1136.5,1027.0 1135.0,1016.8 1134.3,1027.8 1133.4,1035.8 1132.4,1034.0 1131.2,1029.6 1130.2,1017.1 1129.2,1040.3 1127.1,1028.6 1126.5,1036.8 1125.7,1030.6 1124.7,1033.3 1123.4,1045.6 1122.3,1026.4 1120.9,1029.7 1119.7,1036.4 1118.6,1046.0 1117.4,1022.0 1116.2,1047.6 1114.9,1036.0 1113.6,1043.2 1112.2,1055.9 1110.9,1041.0 1109.3,1044.3 1108.0,1045.4 1106.7,1033.5 1105.2,1035.7 1103.8,1032.8 1102.6,1034.5 1101.2,1030.3 1099.9,1028.1 1098.2,1026.7 1096.9,1035.1 1095.5,1020.5 1094.5,1029.3 1092.9,1037.0 1091.5,1018.0 1090.4,1014.8 1089.1,1030.1 1087.9,1019.6 1086.5,1019.3 1085.2,1027.5 1084.2,1024.5 1082.8,1017.3 1081.3,1018.8 1079.9,1010.5 1078.6,1015.5 1077.7,1018.1 1076.4,1021.5 1075.0,1021.0 1073.8,1027.8 1072.0,1015.1 1071.3,1021.4 1069.6,1015.9 1068.5,1006.8 1067.0,1014.7 1065.7,1014.1 1064.5,1015.5 1063.4,1013.5 1062.1,1010.4 1060.7,1002.9 1059.2,1006.0 1058.1,1009.1 1056.8,1010.8 1055.6,1011.1 1054.4,1007.4 1052.8,1008.5 1051.9,1013.0 1050.3,1004.1 1048.9,998.5 1047.7,991.9 1046.3,1000.7 1045.1,1003.7 1043.8,996.4 1042.6,1007.6 1041.4,991.5 1040.2,993.9 1038.8,995.2 1037.4,986.5 1036.3,1000.3 1034.8,988.0 1033.1,984.3 1031.9,979.3 1030.7,996.7 1029.6,998.4 1028.2,982.4 1026.7,979.0 1025.5,985.0 1024.1,987.5 1022.7,983.5 1021.3,990.0 1019.9,979.2 1018.5,1000.1 1017.0,988.3 1015.6,992.4 1014.2,982.6 1012.7,991.6 1011.3,996.1 1009.7,979.7 1008.3,985.3 1006.8,991.0 1005.3,986.9 1003.8,978.1 1002.2,980.5 1000.7,987.5 999.2,985.6 997.7,978.6 996.2,985.2 994.7,967.7 993.2,983.1 991.7,989.0 990.2,988.7 988.7,979.2 987.2,983.7 985.7,983.3 984.2,980.8 982.7,975.9 981.2,971.5 979.7,976.8 978.2,972.3 976.7,966.0 975.2,988.3 973.7,969.9 972.2,975.1 970.7,974.9 969.2,967.1 967.8,981.0 966.2,966.8 964.8,990.3 963.3,968.5 961.8,972.4 960.3,976.5 958.8,976.6 957.3,977.4 955.8,984.9 954.3,986.6 952.8,993.7 951.3,970.3 949.9,985.7 948.3,983.1 946.9,976.3 945.4,969.2 943.9,994.5 942.4,986.1 940.9,965.4 939.4,987.9 937.9,980.4 936.5,978.6 935.0,982.2 933.5,972.3 932.0,975.4 930.5,982.6 929.0,967.8 927.6,966.2 926.1,963.7 924.6,980.3 923.1,967.6 921.6,972.3 920.1,971.1 918.6,978.4 917.1,976.7 915.6,968.5 914.1,983.6 912.6,976.8 911.1,976.1 909.7,970.7 908.2,971.2 906.7,971.7 905.2,973.5 903.7,976.2 902.2,976.2 900.7,971.4 899.2,972.2 897.7,977.8 896.2,981.1 894.7,981.4 893.2,972.6 891.7,964.0 890.2,973.7 888.7,973.6 887.2,972.9 885.7,975.8 884.2,968.7 882.7,972.8 881.2,956.1 879.7,984.0 878.2,971.9 876.7,969.3 875.2,974.9 873.7,969.5 872.2,966.0 870.7,976.6 869.2,971.1 867.8,965.9 866.3,975.1 864.8,973.2 863.3,972.6 861.8,967.8 860.3,977.0 858.8,963.3 857.3,975.1 855.8,979.5 854.3,962.7 852.8,970.4 851.3,956.3 849.9,968.7 848.4,956.6 846.9,959.0 845.4,969.3 843.9,975.2 842.4,971.0 840.9,965.9 839.4,961.8 837.9,967.1 836.4,983.3 834.8,976.3 833.4,957.2 831.9,961.3 830.4,956.2 828.9,969.7 827.4,963.7 825.9,955.0 824.4,964.2 822.9,961.9 821.4,957.9 819.9,962.6 818.4,971.0 817.0,958.6 815.5,962.5 814.0,955.2 812.6,962.2 811.1,974.6 809.6,969.2 808.3,960.8 806.7,961.9 805.4,975.1 803.9,966.0 802.6,963.9 801.0,975.7 799.6,965.7 798.3,964.2 796.8,972.4 795.2,961.4 794.0,967.9 792.4,966.2 791.0,973.0 789.6,971.9 788.1,985.7 786.7,978.4 785.2,974.4 783.8,978.6 782.4,973.6 780.9,987.5 779.5,979.8 778.0,979.3 776.5,986.1 775.1,980.6 773.7,972.3 772.1,979.3 770.7,970.0 769.2,991.9 767.7,965.5 766.2,977.7 764.7,982.3 763.3,972.7 761.8,976.4 760.3,986.6 758.8,971.5 757.4,1002.4 755.9,978.7 754.4,978.0 752.9,994.2 751.4,986.2 749.9,983.7 748.4,979.5 746.9,982.6 745.5,980.3 744.0,994.1 742.5,983.1 741.0,976.9 739.5,978.6 738.0,984.9 736.5,974.8 734.9,977.2 733.4,971.5 731.9,966.9 730.4,998.3 728.9,981.4 727.4,995.2 725.9,987.1 724.4,985.3 722.9,975.8 721.4,983.2 719.8,984.7 718.3,977.5 716.8,988.6 715.4,992.2 713.9,987.1 712.4,985.4 710.9,972.3 709.4,1003.0 707.9,989.2 706.5,976.0 705.0,976.2 703.5,979.4 702.1,977.1 700.6,984.0 699.2,977.6 697.7,984.1 696.3,979.9 694.8,980.8 693.5,974.1 692.1,983.0 690.6,983.1 689.2,975.2 687.8,969.0 686.4,980.0 685.0,966.8 683.4,973.0 682.1,980.9 680.7,985.6 679.4,974.6 677.8,978.1 676.5,983.9 675.1,967.4 673.7,971.0 672.2,975.3 670.8,981.7 669.5,964.1 668.0,963.3 666.5,977.6 665.1,978.7 663.7,965.7 662.3,970.0 660.8,975.7 659.5,967.1 657.9,955.1 656.5,969.2 655.1,973.8 653.6,958.2 652.1,975.4 650.7,963.9 649.2,953.3 647.7,966.7 646.2,954.4 644.8,973.8 643.3,967.3 641.9,975.8 640.4,951.6 639.1,963.5 637.6,972.1 636.3,969.9 634.8,965.6 633.4,963.3 632.1,964.6 630.8,966.6 629.3,971.3 627.9,946.6 626.8,951.0 625.4,953.3 624.0,957.9 622.8,958.5 621.5,952.8 620.1,953.9 618.9,958.7 617.6,960.8 616.2,946.8 615.2,949.5 613.7,950.7 612.4,965.8 611.3,944.3 610.0,949.7 608.9,947.1 607.5,943.2 606.6,950.9 605.2,943.5 604.0,939.9 602.7,942.4 601.5,942.7 600.3,936.0" fill="none" stroke="#000" stroke-width="8.5" stroke-linejoin="round" stroke-linecap="round"/>
<polyline points="600.5,941.8 601.3,935.9 601.8,938.0 600.3,928.8 602.8,937.1 602.5,926.3 603.2,931.2 603.0,929.3 604.8,924.9 605.0,939.7 605.9,923.0 605.5,926.5 607.2,928.1 608.0,916.0 608.7,926.8 609.0,918.6 608.8,923.0 610.4,912.0 611.1,910.1 611.8,920.7 613.2,915.7 613.7,912.6 615.1,914.2 615.8,912.5 616.6,901.7 618.2,894.4 618.7,896.2 620.3,894.4 621.0,890.7 622.0,898.9 622.9,898.5 624.4,900.4 625.4,900.9 626.7,896.2 627.7,896.0 628.6,897.0 629.7,889.4 630.8,890.2 632.1,893.9 633.3,888.5 634.3,888.2 635.4,890.2 636.7,898.5 637.8,891.2 639.4,886.1 640.8,883.6 642.0,885.8 643.1,900.2 644.3,864.4 645.4,887.5 646.8,884.7 648.4,888.0 649.2,874.1 650.8,894.6 652.1,886.6 653.1,878.9 654.7,879.5 655.8,873.0 657.1,877.3 658.4,875.2 659.8,881.7 661.2,877.1 662.4,873.4 663.7,877.8 664.9,876.3 666.0,873.4 667.5,861.0 668.9,877.4 670.3,862.1 671.6,862.4 673.1,867.8 674.3,871.3 675.7,876.6 677.0,855.3 678.3,875.7 679.7,876.2 681.0,861.5 682.4,862.6 684.0,859.5 685.2,858.6 686.4,853.1 687.7,850.1 689.3,859.5 690.6,861.9 691.9,871.8 693.3,852.2 694.8,844.3 696.2,858.6 697.4,853.9 699.1,858.8 700.3,853.1 701.7,846.8 703.0,850.0 704.3,859.4 705.8,855.2 707.1,846.3 708.4,858.1 709.9,841.9 711.2,847.4 712.6,851.8 713.9,840.7 715.3,841.2 716.7,848.8 718.3,847.6 719.7,845.9 721.0,843.2 722.3,839.0 723.6,840.6 725.1,865.7 726.5,840.5 728.0,854.3 729.3,839.6 730.7,852.2 732.1,850.7 733.5,844.9 734.7,837.0 736.3,831.5 737.7,846.7 739.0,831.0 740.5,830.5 741.8,848.8 743.1,847.9 744.6,837.7 746.0,835.3 747.4,831.9 748.8,838.2 750.2,832.0 751.7,824.6 753.0,829.1 754.4,835.4 755.8,822.4 757.3,826.0 758.4,832.9 760.0,843.0 761.4,832.3 762.8,830.8 764.2,843.1 765.6,822.3 767.1,824.0 768.4,834.2 769.9,835.2 771.3,830.5 772.7,809.2 774.1,831.4 775.5,830.4 776.9,825.7 778.2,829.4 779.8,833.9 781.3,824.2 782.6,817.0 784.0,810.4 785.4,822.8 786.8,817.0 788.2,817.6 789.8,813.2 791.1,822.2 792.5,824.9 794.0,822.3 795.3,811.3 796.7,824.4 798.2,820.1 799.5,800.6 801.1,821.0 802.4,802.7 803.8,808.3 805.3,822.7 806.6,819.5 808.1,810.3 809.6,808.2 811.0,816.0 812.4,801.1 813.9,815.5 815.3,810.3 816.7,816.8 818.1,810.5 819.5,803.5 821.0,811.8 822.3,807.6 823.8,799.9 825.3,801.2 826.8,801.8 828.2,808.5 829.6,812.9 831.0,807.1 832.5,798.7 833.9,803.8 835.3,809.8 836.7,812.9 838.2,798.8 839.5,806.6 841.1,801.7 842.5,789.3 844.0,794.7 845.5,799.3 847.0,799.2 848.3,799.6 849.7,797.8 851.2,804.0 852.6,794.7 854.1,790.0 855.6,803.9 857.0,795.9 858.5,805.1 859.9,793.7 861.4,807.9 862.9,790.3 864.3,790.2 865.8,802.7 867.2,809.7 868.7,791.9 870.1,807.6 871.6,807.0 873.1,801.7 874.6,794.5 876.0,780.8 877.5,784.7 878.9,789.5 880.4,798.1 881.8,793.1 883.3,789.6 884.8,794.3 886.3,782.2 887.7,802.8 889.2,786.3 890.7,801.1 892.1,793.2 893.6,786.7 895.1,770.2 896.5,780.3 898.0,792.1 899.5,783.7 901.0,789.5 902.4,797.7 903.9,792.0 905.4,792.6 906.8,807.0 908.3,793.4 909.8,795.9 911.3,786.3 912.7,779.6 914.2,789.0 915.6,779.2 917.1,766.3 918.6,790.5 920.0,788.4 921.5,778.6 923.0,794.3 924.5,784.7 926.0,781.7 927.4,787.4 928.9,792.2 930.3,781.0 931.8,780.3 933.2,780.2 934.7,777.8 936.2,771.4 937.7,777.6 939.2,776.3 940.7,786.8 942.1,772.8 943.6,786.2 945.1,777.7 946.5,775.4 948.0,779.5 949.5,780.7 951.0,781.0 952.5,784.0 954.0,781.2 955.4,769.0 956.9,774.6 958.4,790.2 959.9,778.1 961.4,762.7 962.9,779.6 964.3,789.9 965.8,786.0 967.3,778.3 968.8,779.2 970.2,781.9 971.8,776.2 973.2,773.8 974.7,788.0 976.2,774.0 977.7,783.4 979.2,765.6 980.7,770.8 982.2,768.1 983.7,778.6 985.2,771.3 986.7,771.0 988.2,769.0 989.6,776.1 991.1,781.5 992.6,770.7 994.1,778.7 995.6,774.3 997.1,770.0 998.6,776.4 1000.1,783.0 1001.6,756.0 1003.1,778.3 1004.6,785.4 1006.0,772.0 1007.5,778.2 1009.0,779.5 1010.5,776.2 1012.0,774.2 1013.5,781.3 1015.0,779.8 1016.5,773.3 1018.0,776.4 1019.5,765.6 1021.0,770.5 1022.5,772.3 1023.9,770.9 1025.4,766.5 1026.9,779.5 1028.4,773.1 1029.9,775.6 1031.4,761.6 1032.9,766.8 1034.4,765.4 1035.9,768.7 1037.4,781.2 1038.9,786.9 1040.3,770.9 1041.9,771.9 1043.3,767.9 1044.8,765.4 1046.3,774.9 1047.8,766.0 1049.3,761.5 1050.8,772.8 1052.3,767.2 1053.8,770.4 1055.3,770.2 1056.8,774.5 1058.3,772.0 1059.8,773.9 1061.3,766.9 1062.8,766.7 1064.2,769.9 1065.7,768.8 1067.2,770.4 1068.7,769.4 1070.2,781.5 1071.7,765.3 1073.2,769.7 1074.7,767.2 1076.2,775.3 1077.7,760.9 1079.2,757.5 1080.7,773.9 1082.2,770.7 1083.7,766.7 1085.2,760.1 1086.6,773.7 1088.1,767.9 1089.6,760.8 1091.1,761.3 1092.6,760.0 1094.1,773.8 1095.6,762.9 1097.1,757.0 1098.6,759.8 1100.1,771.2 1101.6,767.6 1103.1,758.5 1104.6,755.2 1106.1,759.0 1107.6,764.7 1109.0,759.8 1110.5,758.6 1112.0,762.4 1113.5,758.2 1115.0,754.5 1116.5,752.2 1118.0,755.3 1119.5,756.6 1121.0,763.0 1122.5,761.7 1124.0,755.3 1125.4,768.3 1126.9,752.4 1128.5,767.1 1129.9,752.4 1131.4,758.0 1132.9,765.7 1134.4,765.8 1135.9,754.0 1137.4,760.1 1138.9,751.8 1140.4,758.0 1141.9,762.1 1143.4,755.3 1144.9,769.0 1146.4,762.2 1147.8,763.3 1149.4,754.7 1150.9,757.5 1152.3,760.3 1153.8,764.1 1155.3,762.9 1156.8,755.2 1158.3,752.1 1159.8,749.7 1161.3,772.2 1162.8,765.3 1164.3,767.3 1165.8,756.3 1167.3,771.0 1168.8,760.7 1170.3,758.7 1171.8,753.4 1173.3,747.3 1174.8,761.4 1176.3,757.2 1177.8,756.6 1179.3,747.4 1180.8,742.8 1182.3,748.8 1183.8,762.3 1185.3,769.2 1186.8,751.7 1188.3,753.8 1189.8,745.3 1191.3,749.0 1192.8,758.0 1194.3,750.5 1195.8,756.4 1197.3,764.0 1198.8,754.3 1200.3,747.6 1201.8,766.7 1203.3,759.4 1204.8,756.6 1206.3,757.3 1207.8,753.6 1209.3,759.7 1210.8,745.5 1212.3,754.7 1213.8,746.7 1215.2,754.2 1216.7,759.0 1218.2,753.4 1219.7,766.4 1221.2,754.2 1222.7,749.6 1224.2,756.4 1225.7,755.8 1227.2,756.4 1228.7,754.3 1230.2,753.3 1231.7,760.2 1233.2,742.7 1234.7,758.8 1236.2,749.7 1237.7,752.7 1239.2,747.4 1240.7,761.9 1242.2,739.2 1243.7,744.8 1245.2,750.2 1246.7,757.6 1248.2,743.9 1249.7,756.3 1251.2,760.1 1252.7,746.5 1254.2,735.1 1255.7,757.6 1257.2,751.2 1258.7,751.6 1260.2,759.5 1261.7,757.2 1263.2,748.1 1264.7,752.9 1266.2,745.8 1267.7,754.8 1269.2,751.1 1270.7,755.0 1272.2,747.1 1273.7,752.8 1275.2,753.5 1276.7,755.0 1278.2,751.6 1279.7,737.1 1281.2,754.2 1282.7,742.6 1284.2,757.5 1285.7,750.3 1287.2,750.3 1288.7,745.8 1290.1,762.0 1291.6,744.7 1293.1,759.3 1294.6,774.2 1296.1,771.1 1297.6,758.8 1299.1,748.7 1300.6,742.9 1302.1,744.1 1303.6,738.9 1305.1,758.2 1306.6,751.0 1308.1,741.0 1309.5,753.5 1311.1,748.8 1312.5,755.0 1314.0,750.3 1315.5,740.2 1317.0,748.5 1318.5,753.4 1320.0,747.7 1321.5,747.4 1322.9,738.0 1324.4,741.9 1325.9,746.3 1327.4,751.1 1328.9,741.4 1330.3,742.6 1331.8,759.4 1333.2,738.0 1334.7,742.6 1336.2,737.3 1337.6,743.5 1339.0,748.7 1340.5,748.4 1341.9,745.1 1343.4,750.5 1344.8,741.5 1346.2,745.5 1347.6,733.8 1349.2,747.1 1350.5,735.4 1352.0,747.9 1353.4,731.6 1354.8,740.3 1356.2,739.7 1357.7,739.1 1359.1,735.6 1360.4,746.7 1362.0,738.3 1363.3,727.3 1364.8,731.1 1366.2,742.5 1367.6,727.6 1369.1,745.6 1370.5,730.2 1372.0,719.8 1373.2,737.8 1374.7,725.1 1376.1,705.5 1377.6,730.3 1378.9,720.9 1380.3,730.4 1381.8,733.3 1383.4,733.6 1384.6,726.1 1386.0,716.3 1387.5,735.4 1389.0,726.7 1390.3,725.9 1391.6,714.6 1393.2,719.8 1394.6,725.0 1396.0,722.1 1397.3,724.1 1398.8,715.7 1400.1,710.3 1401.6,723.6 1402.8,719.8 1404.4,727.7 1405.8,729.0 1407.1,718.3 1408.6,716.4 1410.1,734.3 1411.5,724.0 1412.9,711.3 1414.3,729.5 1415.7,718.2 1417.2,714.8 1418.4,706.4 1419.9,712.3 1421.3,718.1 1422.8,716.3 1424.2,722.8 1425.7,719.3 1427.0,705.5 1428.3,710.1 1429.8,708.6 1431.1,705.5 1432.4,704.9 1433.9,702.9 1435.3,702.2 1436.5,707.3 1438.0,709.6 1439.2,714.8 1440.6,700.3 1442.0,701.7 1443.4,683.7 1444.6,702.7 1445.9,704.5 1447.4,698.9 1448.7,702.1 1450.1,695.6 1451.4,695.2 1452.6,690.1 1453.6,710.5 1455.4,685.8 1456.4,705.0 1457.6,701.9 1459.3,696.1 1460.3,694.0 1461.8,703.9 1462.9,696.8 1464.1,688.0 1465.4,692.1 1467.1,693.0 1468.0,691.9 1469.9,691.2 1470.0,677.6 1471.7,682.4 1472.7,673.8 1474.0,687.6 1474.8,682.1 1476.0,675.7 1477.2,696.4 1478.3,689.7 1479.4,677.8 1480.7,684.8 1481.6,675.0 1482.4,683.5 1483.7,681.5 1485.3,672.6 1485.7,678.1 1487.2,684.2 1488.4,678.4 1488.8,664.6 1490.1,672.8 1491.5,673.8 1491.9,669.6 1493.0,673.5 1494.4,662.2 1495.0,651.8 1495.7,672.4 1497.4,656.4 1498.3,660.8 1498.4,651.8 1499.3,663.7 1501.0,652.3 1502.1,657.5 1502.6,655.6 1503.3,662.1 1503.9,663.1 1505.1,655.9 1505.9,655.9 1506.5,650.7 1507.3,649.2 1508.0,642.4 1508.8,648.2 1509.7,646.7 1511.3,647.0 1511.0,641.9 1512.1,639.9 1512.6,644.3 1514.4,628.3 1514.7,631.4 1514.2,637.3 1515.9,631.7 1516.8,634.8 1516.2,629.5 1518.4,623.8 1517.8,630.0 1519.1,627.5 1520.1,627.8 1520.4,626.4 1521.7,632.0 1522.6,616.8 1522.5,617.2 1522.6,625.1 1524.7,613.3 1524.4,621.5 1525.0,619.5 1526.4,614.9 1525.9,613.9 1527.0,610.1 1527.1,601.0 1528.0,610.8 1529.7,610.0 1529.0,606.8 1530.6,601.6 1530.6,603.1 1531.2,603.9 1532.0,597.7 1533.0,595.8 1533.3,591.8 1533.6,597.1 1534.3,588.4 1534.9,590.3 1536.0,596.8 1535.8,580.7 1535.6,584.8 1536.4,590.7 1537.5,584.2 1538.5,589.0 1538.5,577.5 1539.3,577.2 1540.2,584.6 1539.9,574.0 1540.5,577.1 1541.1,574.4 1542.5,580.0 1542.3,568.1 1543.3,571.8 1543.4,573.7 1544.7,574.1 1544.9,567.9 1545.1,569.3 1546.1,561.8 1546.4,571.3 1546.9,563.9 1547.0,563.8 1548.5,566.7 1548.7,558.9 1548.8,556.5 1549.6,558.0 1549.7,559.2 1550.7,546.3 1550.6,543.6 1551.5,551.9 1550.6,547.0 1553.4,546.5 1552.7,553.4 1553.0,542.7 1553.4,541.7 1554.6,545.9 1555.7,535.8 1555.3,538.5 1555.9,535.6 1557.2,535.7 1557.3,534.5 1558.1,527.1 1558.2,528.7 1558.4,526.7 1559.5,522.1 1559.5,528.1 1560.4,522.1 1560.7,518.5 1561.0,515.2 1562.0,518.5 1562.6,525.8 1563.3,519.5 1562.9,520.6 1564.5,512.9 1564.6,510.4 1565.5,510.3 1566.2,514.0 1566.4,506.3 1566.8,510.7 1567.9,503.9 1568.4,494.7 1569.5,511.4 1570.3,506.5 1570.2,500.4 1571.2,500.7 1572.1,499.5 1572.6,504.8 1572.6,494.5 1574.3,495.9 1574.3,492.1 1575.5,489.2 1575.9,492.6 1575.2,491.3 1576.9,485.6 1577.5,496.9 1577.7,472.8 1577.8,490.1 1578.7,477.4 1579.3,477.7 1579.8,482.3 1579.7,482.2 1580.8,482.5 1582.1,469.6 1582.8,482.6 1583.2,468.6 1581.4,472.7 1583.1,475.2 1583.6,468.8 1584.7,466.8 1584.2,469.1 1585.0,464.3 1584.7,458.4 1586.1,465.8 1586.1,464.4 1586.1,461.0 1586.7,458.8 1587.2,460.3 1587.8,458.3 1589.2,457.7 1589.6,453.1 1588.4,442.6 1589.9,451.4 1589.5,449.8 1589.7,449.2 1590.7,450.1 1590.7,437.5 1591.8,429.9 1591.7,443.7 1592.3,441.1 1592.0,437.1 1592.6,430.7 1594.2,440.9 1593.6,431.2 1594.5,439.4 1593.9,431.0 1594.7,432.6 1595.0,416.4 1595.7,427.5 1596.7,420.8 1597.2,430.1 1597.1,419.5 1597.3,430.7 1597.9,415.5 1598.3,409.3 1598.8,419.7 1598.8,410.0 1599.1,411.8 1600.3,417.4 1600.7,413.6 1600.2,410.7 1600.7,411.0 1601.7,404.8 1601.7,398.5 1603.0,401.6 1603.0,398.8 1603.5,399.2 1605.3,397.4 1605.0,398.3 1604.1,398.8 1606.0,391.1 1605.3,390.8 1606.4,391.8 1606.4,394.0 1608.1,386.3 1608.4,378.1 1608.9,388.8 1608.4,378.0 1610.1,380.3 1610.1,378.5 1610.0,381.6 1610.7,370.3 1611.1,381.8 1612.4,373.2 1611.9,378.4 1612.9,370.9 1613.0,382.6 1613.6,370.0 1614.6,366.7 1615.6,363.7 1615.7,355.1 1616.5,370.6 1615.6,356.4 1616.2,361.7 1617.3,362.9 1617.8,361.0 1618.0,356.4 1617.8,352.2 1618.8,356.2 1618.4,351.9 1620.9,344.3 1620.1,345.3 1619.8,350.5 1621.3,350.2 1622.2,335.0 1621.0,344.8 1622.1,341.1 1622.4,344.4 1624.9,339.6 1624.0,336.9 1625.0,340.2 1624.7,339.5 1624.7,338.3 1625.5,332.2 1625.5,332.8 1626.0,336.6 1626.7,327.5 1626.4,323.5 1627.1,327.0 1627.8,319.9 1628.6,326.1 1628.5,317.5 1629.4,318.1 1630.8,322.7 1630.1,312.9 1630.6,313.8 1631.8,315.4 1631.5,313.8 1632.4,305.1 1632.6,313.2 1633.0,307.3 1633.4,307.1 1633.9,308.0 1635.0,307.0 1635.3,303.3 1636.0,304.4 1636.3,300.3 1636.1,292.7 1637.4,291.1 1637.0,291.3 1638.1,289.4 1637.6,290.5 1638.8,281.2 1639.7,289.3 1640.0,290.5 1638.9,289.2 1639.5,284.7 1640.1,278.7 1640.9,290.5 1640.7,277.3 1642.5,277.0 1642.6,277.7 1643.3,269.9 1644.0,269.1 1643.4,273.3 1644.6,276.2 1644.1,268.7 1644.0,270.7 1645.3,269.7 1647.1,267.1 1646.7,261.0 1647.3,267.4 1648.0,260.9 1648.5,256.3 1648.9,254.5 1648.3,261.4 1649.4,256.4 1648.9,251.8 1649.9,257.1 1650.4,254.7 1650.7,250.2 1651.4,243.9 1651.5,246.8 1652.3,247.0 1652.3,240.5 1653.0,253.0 1654.0,241.0 1655.0,235.8 1654.6,232.2 1654.4,241.4 1655.8,235.2 1656.1,234.1 1655.5,229.9 1656.7,234.1 1656.6,231.2 1656.6,224.0 1658.6,225.1 1658.7,220.2 1658.9,225.8 1659.3,222.5 1660.0,224.9 1660.2,222.1 1661.6,221.7 1661.0,209.5 1661.9,212.5 1662.5,209.3 1661.8,206.6 1663.3,207.7 1663.6,214.1 1663.6,211.8 1665.5,213.3 1665.0,208.0 1666.0,206.5 1666.1,201.4 1667.1,200.1 1667.8,198.5 1669.0,195.0 1668.3,191.5 1668.3,196.5 1669.4,200.5 1671.0,188.6 1671.5,186.4 1671.9,195.2 1672.8,188.6 1672.9,180.1 1673.6,185.6 1674.2,173.8 1675.4,185.1 1675.3,180.5 1676.5,175.0 1676.8,180.7 1677.6,176.1 1678.2,184.3 1679.6,172.5 1680.3,177.1 1681.3,168.4 1681.8,174.2 1682.8,174.7 1683.5,174.2 1684.3,173.7 1685.4,160.7 1686.1,176.1 1686.7,174.2 1687.8,163.4 1688.5,164.0 1689.8,166.8 1690.5,151.0 1691.7,157.7 1692.7,159.9 1694.2,159.0 1695.4,157.7 1696.3,146.5 1697.1,159.0 1698.3,158.6 1699.3,155.2 1700.2,148.4 1700.4,147.0 1702.5,153.4 1702.8,157.6 1704.3,151.8 1704.8,156.6 1704.6,162.8 1706.2,163.9 1706.5,158.6 1707.7,153.8 1708.6,164.0 1709.2,157.5 1710.8,160.0 1711.1,172.8 1712.2,172.0 1712.4,165.7 1713.4,171.7 1714.7,174.1 1714.3,177.7 1716.1,182.4 1716.8,180.3 1717.6,168.4 1718.2,182.6 1719.3,180.7 1719.7,182.8 1721.3,184.6 1721.0,185.1 1721.7,185.6 1721.4,193.5 1723.2,195.1 1723.1,198.2 1723.3,197.2 1724.6,198.1 1725.7,197.7 1725.6,191.8 1726.2,203.3 1727.3,198.7 1727.6,200.9 1728.0,196.2 1729.5,201.9 1729.7,218.9 1730.0,205.4 1730.8,211.9 1732.0,214.8 1731.6,213.4 1731.9,210.4 1733.0,213.4 1733.7,217.4 1733.8,215.2 1735.8,212.7 1734.9,215.2 1735.8,227.8 1736.1,225.6 1737.0,226.9 1737.1,229.3 1736.9,227.9 1738.8,224.0 1739.4,239.2 1739.9,229.5 1739.6,233.6 1739.8,234.5 1740.5,240.7 1741.7,235.8 1742.7,231.7 1742.5,232.9 1743.3,236.6 1742.7,245.9 1744.1,249.2 1745.1,244.2 1746.3,244.7 1746.2,250.8 1746.8,249.8 1747.4,247.8 1748.2,247.6 1747.8,254.0 1748.0,259.3 1749.1,260.9 1749.5,260.9 1749.2,256.8 1751.2,265.5 1751.8,253.2 1751.6,264.0 1752.7,267.7 1752.4,262.2 1753.8,261.7 1753.1,275.3 1756.0,269.1 1754.6,270.7 1755.7,279.2 1755.9,276.9 1757.2,271.2 1757.9,278.2 1757.1,278.6 1757.3,284.7 1758.7,287.6 1758.5,276.1 1760.0,281.4 1760.3,292.5 1760.0,287.5 1762.0,288.7 1762.3,287.3 1762.8,293.6 1762.7,290.3 1763.5,294.5 1765.7,295.7 1765.2,294.3 1765.5,292.6 1766.0,293.3 1766.3,298.1 1768.1,299.9 1767.9,305.6 1768.2,305.4 1768.9,307.2 1768.4,303.9 1769.2,307.3 1770.3,307.9 1769.7,307.3 1770.3,308.0 1771.3,322.8 1771.9,316.8 1772.5,321.9 1772.7,319.7 1773.6,316.6 1774.8,327.6 1774.7,325.4 1774.8,324.4 1775.9,321.3 1775.3,327.6 1776.9,332.2 1776.9,335.1 1777.4,332.6 1778.2,332.2 1779.3,332.9 1779.2,337.7 1779.2,333.6 1779.5,338.7 1780.3,331.1 1780.7,347.6 1781.9,346.6 1782.4,343.3 1782.1,343.2 1783.6,349.6 1783.7,347.7 1784.9,347.4 1784.4,349.4 1785.0,351.1 1786.0,349.5 1786.0,359.3 1786.8,349.4 1787.7,358.6 1788.0,359.0 1788.5,354.1 1789.2,364.8 1788.9,355.9 1789.3,362.6 1789.8,363.3 1789.7,366.9 1791.2,367.9 1791.4,375.3 1791.5,372.3 1793.3,373.4 1793.0,375.3 1793.2,377.9 1794.5,375.5 1795.4,382.5 1794.8,381.9 1795.1,384.2 1796.3,383.8 1797.5,385.2 1798.5,386.7 1797.1,385.1 1798.1,390.3 1799.5,394.8 1799.4,389.8 1800.4,393.4 1801.3,397.9 1801.5,395.1 1802.6,395.8 1802.9,399.5 1803.7,401.1 1804.9,408.7 1805.5,403.4 1806.0,408.6 1806.8,405.2 1807.4,411.9 1808.4,414.4 1808.5,416.0 1809.7,403.9 1811.1,411.8 1812.3,407.3 1812.7,414.8 1813.1,415.6 1814.7,411.3 1814.8,411.7 1815.8,415.2 1817.1,419.8 1818.1,423.4 1818.8,430.0 1819.6,434.4 1820.9,419.3 1821.6,427.2 1823.0,425.7 1823.6,427.0 1824.8,420.4 1825.9,433.0 1826.4,432.9 1828.2,427.3 1829.1,433.5 1830.6,427.6 1831.9,416.9 1832.8,429.7 1834.1,433.5 1835.3,429.6 1836.7,452.5 1837.4,451.0 1839.3,440.0 1840.4,439.0 1841.5,432.9 1842.6,441.4 1844.2,442.4 1845.3,451.0 1846.9,441.4 1847.5,440.8 1848.8,442.4 1850.2,457.3 1851.3,456.5 1852.3,446.7 1853.2,469.9 1855.1,445.9 1855.9,447.7 1856.7,458.3 1857.9,452.3 1858.6,449.8 1860.3,449.1 1861.3,457.0 1862.5,457.5 1863.9,458.6 1864.9,453.5 1866.0,467.9 1867.3,457.1 1867.9,467.7 1868.7,475.3 1870.0,457.7 1871.3,463.6 1872.1,467.4 1873.5,471.0 1874.7,468.7 1875.3,463.4 1876.7,474.2 1877.7,471.0 1879.3,456.5 1880.1,471.0 1881.3,468.6 1882.7,470.6 1883.6,473.7 1884.8,480.3 1885.9,484.1 1887.1,472.2 1888.3,483.2 1889.3,473.2 1890.6,502.7 1891.8,485.3 1892.9,484.8 1894.2,482.3 1895.4,492.6 1896.9,497.3 1898.1,486.7 1899.2,490.5 1900.8,491.0 1901.6,495.0 1902.8,487.4 1903.8,495.8 1905.4,492.9 1906.5,506.3 1907.6,488.5 1908.9,496.5 1910.4,500.4 1911.9,505.6 1912.9,503.4 1914.2,498.6 1915.6,502.3 1916.6,507.9 1917.9,492.6 1919.2,509.6 1920.5,500.0 1922.0,511.7 1923.0,518.2 1924.2,502.7 1925.8,504.9 1926.9,509.2 1928.2,507.2 1929.6,517.9 1931.0,518.0 1932.3,503.8 1933.7,503.7 1935.0,511.6 1936.1,508.8 1937.6,518.8 1939.0,523.2 1940.4,513.7 1941.9,508.1 1943.0,512.0 1944.5,519.0 1945.9,518.2 1947.3,516.9 1948.6,515.7 1950.0,524.9 1951.3,519.4 1952.8,523.3 1954.2,529.8 1955.5,511.4 1957.0,523.3 1958.6,519.6 1960.0,518.8 1961.5,524.7 1963.1,517.6 1964.6,517.7 1966.1,542.8 1967.6,536.6 1969.1,531.3 1970.6,518.0 1972.0,521.3 1973.4,519.3 1974.9,523.9 1976.2,527.5 1977.2,531.1 1978.7,518.6 1980.1,517.1 1981.3,530.6 1982.9,536.7 1984.1,530.9 1985.7,536.9 1986.3,525.6 1987.6,538.1 1987.6,533.4 1988.1,535.3 1987.4,538.9 1988.1,539.1 1986.8,530.6 1986.7,548.7 1986.4,541.3 1985.2,544.6 1984.3,545.8 1984.5,545.2 1982.8,548.5 1982.3,551.5 1981.0,550.5 1980.1,547.1 1979.0,551.4 1978.8,562.4 1977.8,558.0 1976.9,556.8 1975.9,566.9 1975.1,557.4 1973.7,572.1 1972.9,566.0 1972.3,563.4 1970.7,560.2 1969.9,562.0 1968.9,562.8 1967.8,575.9 1966.7,581.4 1965.5,591.2 1964.0,570.1 1963.2,574.8 1962.5,562.3 1960.7,568.6 1960.1,573.9 1958.8,588.6 1958.2,580.3 1957.3,585.7 1955.6,584.3 1955.2,576.0 1953.3,582.5 1952.4,578.6 1951.0,575.2 1949.9,586.3 1948.8,587.2 1948.2,589.7 1946.7,591.6 1945.4,583.1 1944.0,582.6 1942.7,588.5 1941.5,589.7 1940.4,599.7 1938.9,593.9 1937.9,589.0 1936.8,597.6 1935.6,612.2 1934.3,591.1 1933.1,605.3 1931.5,586.2 1930.3,598.1 1929.4,605.1 1928.4,598.9 1926.7,602.4 1925.5,588.8 1924.2,602.4 1922.9,605.9 1921.6,598.0 1920.1,605.9 1918.9,603.7 1917.6,606.0 1916.6,609.7 1915.0,607.1 1913.4,612.3 1912.2,607.3 1910.8,620.2 1909.6,613.6 1908.2,603.4 1907.2,607.0 1905.6,617.5 1904.1,623.4 1902.8,610.8 1901.5,615.8 1900.2,610.5 1898.9,626.7 1897.5,618.9 1896.0,615.5 1894.7,626.6 1893.2,601.1 1891.7,621.4 1890.5,610.2 1889.0,621.4 1887.6,616.3 1886.3,613.1 1884.7,620.1 1883.4,618.6 1882.0,637.7 1880.5,620.6 1879.1,636.9 1877.6,630.1 1876.2,622.3 1874.8,613.3 1873.3,629.5 1871.8,627.7 1870.5,615.1 1869.0,641.1 1867.5,628.8 1866.1,626.5 1864.6,636.0 1863.2,634.6 1861.7,642.0 1860.3,640.0 1858.8,632.3 1857.4,616.3 1855.9,626.3 1854.4,628.1 1853.0,649.9 1851.5,635.1 1850.2,631.1 1848.8,634.2 1847.2,629.5 1845.9,637.6 1844.5,631.2 1843.1,637.1 1841.6,637.3 1840.2,634.1 1838.8,633.0 1837.2,630.4 1835.9,626.8 1834.5,634.8 1833.0,634.1 1831.6,635.2 1830.1,637.2 1828.7,640.1 1827.2,639.0 1825.8,638.2 1824.4,648.2 1823.0,650.9 1821.5,635.8 1820.1,642.6 1818.6,643.3 1817.2,635.4 1815.8,645.9 1814.3,639.8 1812.8,653.5 1811.4,636.9 1810.0,646.5 1808.5,636.9 1807.0,651.1 1805.6,648.9 1804.0,645.3 1802.7,672.3 1801.1,651.2 1799.7,634.0 1798.2,654.9 1796.8,638.1 1795.3,644.3 1793.8,641.0 1792.4,649.8 1790.9,648.9 1789.4,647.8 1787.9,663.7 1786.5,644.5 1785.0,645.6 1783.5,641.7 1782.1,661.2 1780.6,643.1 1779.1,649.7 1777.6,647.4 1776.2,648.9 1774.7,652.0 1773.2,641.7 1771.7,648.1 1770.2,656.2 1768.8,642.2 1767.3,656.9 1765.8,647.7 1764.4,658.9 1762.8,651.9 1761.3,648.0 1759.9,646.3 1758.4,666.5 1756.9,659.8 1755.5,649.2 1754.0,673.3 1752.6,650.0 1751.1,648.1 1749.6,664.2 1748.1,653.8 1746.7,664.6 1745.2,652.6 1743.7,663.5 1742.3,659.1 1740.8,659.8 1739.4,663.1 1737.9,652.7 1736.4,666.3 1734.9,658.5 1733.5,657.3 1732.0,659.8 1730.6,664.0 1729.1,657.1 1727.7,656.1 1726.2,667.5 1724.8,681.4 1723.3,666.9 1721.8,667.7 1720.4,659.6 1718.9,657.6 1717.4,668.3 1715.9,675.5 1714.5,663.9 1713.0,669.5 1711.6,662.5 1710.1,657.8 1708.6,661.1 1707.2,656.8 1705.7,667.3 1704.3,662.8 1702.8,677.9 1701.4,676.5 1699.9,666.2 1698.4,670.3 1696.9,666.3 1695.5,677.5 1694.0,684.7 1692.6,670.7 1691.1,663.8 1689.6,663.4 1688.2,668.5 1686.7,671.9 1685.3,670.0 1683.8,669.0 1682.3,671.8 1680.8,673.0 1679.4,670.5 1678.0,664.2 1676.5,670.3 1675.0,663.1 1673.6,671.7 1672.1,685.9 1670.7,677.8 1669.2,674.2 1667.7,667.1 1666.3,668.5 1664.8,684.7 1663.3,668.6 1661.9,679.2 1660.4,676.1 1658.9,676.5 1657.5,681.4 1656.0,674.1 1654.6,680.2 1653.1,676.1 1651.7,682.4 1650.2,677.2 1648.8,673.2 1647.2,680.3 1645.8,680.0 1644.3,678.1 1642.9,671.6 1641.4,685.2 1640.0,671.4 1638.5,680.5 1637.0,678.5 1635.5,687.9 1634.0,686.2 1632.6,690.7 1631.2,670.6 1629.7,682.9 1628.3,674.3 1626.8,687.8 1625.3,699.6 1623.9,680.4 1622.4,690.6 1620.9,669.0 1619.5,683.8 1618.0,692.3 1616.5,682.6 1615.1,684.9 1613.7,685.5 1612.1,692.6 1610.7,685.6 1609.3,685.3 1607.8,683.7 1606.3,690.9 1605.0,693.8 1603.4,686.3 1601.9,693.4 1600.6,691.4 1599.0,696.4 1597.6,705.1 1596.1,695.3 1594.7,694.0 1593.3,690.5 1591.8,687.8 1590.4,685.4 1588.9,692.7 1587.5,690.6 1586.0,699.2 1584.5,693.5 1583.1,703.3 1581.7,697.5 1580.4,692.2 1578.9,693.4 1577.4,679.8 1575.9,706.4 1574.5,695.5 1573.1,686.6 1571.7,699.4 1570.2,690.9 1568.8,691.8 1567.4,696.7 1565.8,692.4 1564.4,704.5 1563.1,696.6 1561.5,693.3 1560.1,703.1 1558.7,695.0 1557.1,698.5 1555.7,709.1 1554.3,716.9 1552.9,690.7 1551.4,693.4 1550.0,698.5 1548.6,709.3 1547.1,700.3 1545.7,708.9 1544.1,698.4 1542.8,706.7 1541.3,699.6 1539.8,694.3 1538.3,700.7 1536.8,710.2 1535.4,707.2 1533.9,712.0 1532.4,708.2 1531.0,698.3 1529.5,708.6 1528.0,710.9 1526.6,718.8 1525.2,717.1 1523.7,712.6 1522.2,708.2 1520.8,719.1 1519.4,701.8 1517.9,705.8 1516.6,704.5 1515.1,712.0 1513.7,720.2 1512.3,707.3 1511.0,730.0 1509.5,709.6 1508.2,744.0 1506.8,712.7 1505.3,721.3 1504.0,710.4 1502.5,717.9 1501.2,714.8 1499.8,728.1 1498.6,713.6 1497.0,726.4 1495.7,734.2 1494.3,722.1 1493.0,720.7 1491.9,727.8 1490.6,708.1 1489.2,725.7 1488.2,729.2 1487.0,727.2 1485.9,720.7 1484.8,730.6 1483.6,734.8 1482.5,736.3 1481.4,729.5 1480.0,732.0 1479.3,731.9 1478.4,727.8 1477.0,732.1 1475.9,731.9 1475.6,738.1 1473.5,740.7 1473.5,754.8 1472.3,747.1 1471.1,746.5 1470.6,741.9 1469.7,755.6 1468.3,755.9 1467.4,748.1 1466.9,746.9 1465.7,750.1 1465.1,751.4 1464.1,745.1 1463.1,753.7 1462.1,753.8 1461.4,761.8 1460.3,759.5 1459.6,758.2 1459.4,766.7 1458.2,765.4 1456.9,763.7 1457.0,761.9 1455.6,761.6 1454.4,770.7 1454.7,770.6 1453.4,769.2 1453.1,773.1 1452.5,766.9 1451.9,779.4 1451.5,777.5 1449.8,783.1 1449.5,774.1 1449.6,780.8 1448.9,778.6 1448.3,787.6 1448.1,794.1 1447.6,785.3 1446.4,788.3 1446.6,793.8 1445.5,785.4 1445.4,791.3 1445.4,790.8 1444.0,794.2 1445.2,790.8 1443.5,791.1 1442.4,793.2 1442.8,800.5 1443.3,810.1 1442.4,805.6 1442.1,806.1 1441.4,808.9 1440.8,808.5 1440.1,809.1 1439.4,812.1 1439.8,810.3 1439.3,814.0 1438.5,814.7 1438.1,828.9 1437.0,812.4 1437.9,822.5 1436.4,823.1 1436.6,823.0 1435.8,823.3 1436.5,822.8 1435.3,820.5 1434.6,826.3 1434.3,828.4 1433.8,826.0 1432.8,833.6 1433.0,827.3 1431.8,838.5 1432.2,844.1 1432.1,835.7 1431.8,838.7 1430.3,847.9 1430.0,833.5 1429.5,840.3 1430.7,839.5 1428.8,843.3 1429.0,852.0 1428.9,852.8 1428.1,848.5 1427.4,856.1 1426.9,847.3 1426.4,852.3 1426.7,861.2 1425.9,865.8 1424.9,863.9 1425.3,864.1 1425.8,861.8 1424.2,868.1 1423.7,864.2 1423.9,871.7 1423.1,868.2 1423.6,871.8 1422.0,873.5 1422.2,871.2 1422.4,875.8 1420.9,869.8 1421.6,877.4 1421.3,879.8 1421.1,878.1 1419.8,878.1 1418.8,880.6 1419.4,875.6 1418.8,882.0 1418.7,893.8 1419.0,883.7 1418.9,888.9 1418.0,885.0 1418.1,900.4 1418.1,891.8 1418.0,895.4 1417.1,899.0 1415.6,897.3 1416.2,910.3 1415.5,903.9 1415.5,902.5 1414.8,897.0 1414.1,907.2 1414.0,904.1 1414.2,912.0 1413.6,908.9 1413.1,907.4 1412.4,916.0 1412.1,914.7 1410.9,914.8 1410.7,915.1 1410.6,917.3 1411.3,916.9 1409.3,924.0 1408.7,916.5 1408.9,923.8 1408.6,921.8 1408.4,930.4 1406.6,928.6 1406.9,934.1 1405.6,925.8 1405.9,922.9 1404.5,936.8 1404.0,933.7 1402.8,929.6 1402.9,939.4 1401.5,943.9 1401.5,937.6 1400.4,941.8 1399.7,937.5 1398.4,940.5 1397.7,946.3 1397.6,946.2 1396.1,946.8 1395.7,945.9 1394.9,954.9 1394.3,954.0 1393.2,965.2 1392.3,951.5 1391.6,952.2 1390.2,956.9 1389.8,953.4 1388.8,953.0 1387.7,955.1 1386.9,959.0 1387.2,961.2 1385.5,960.6 1384.2,968.5 1383.8,970.9 1382.6,970.9 1381.7,970.0 1380.8,966.3 1380.0,969.0 1379.3,964.8 1378.4,979.2 1377.9,981.3 1376.5,984.0 1376.0,971.7 1374.8,988.8 1373.9,981.4 1372.9,983.6 1372.6,990.6 1371.6,985.5 1370.2,982.3 1369.2,987.8 1368.6,984.2 1368.0,986.6 1366.7,995.5 1366.2,982.9 1364.1,982.6 1363.7,996.6 1362.4,995.5 1361.6,995.7 1360.9,1000.2 1359.8,993.5 1358.3,1004.4 1357.5,995.5 1356.6,996.8 1356.1,1008.6 1354.6,1003.2 1354.2,1004.2 1352.6,1000.7 1351.0,1013.5 1350.1,1014.0 1349.5,1003.4 1348.3,1011.7 1346.8,1012.1 1345.7,1010.7 1344.8,1002.1 1343.4,1020.0 1342.4,1017.7 1341.0,1003.7 1339.7,1008.9 1338.4,1027.8 1337.1,1021.4 1335.8,1007.5 1334.2,1014.7 1332.8,1017.6 1331.5,1016.1 1330.2,1016.5 1328.9,1015.9 1327.3,1018.7 1325.8,1027.2 1324.5,1013.7 1323.0,1031.6 1321.5,1026.0 1320.1,1022.7 1318.8,1033.9 1317.4,1031.5 1315.8,1027.6 1314.4,1029.6 1313.0,1025.6 1311.6,1029.6 1310.0,1034.6 1308.5,1033.0 1307.1,1021.5 1305.6,1024.4 1304.1,1029.5 1302.7,1024.5 1301.2,1022.8 1299.7,1040.0 1298.2,1023.4 1296.7,1030.3 1295.2,1022.6 1293.7,1031.4 1292.2,1035.3 1290.7,1027.1 1289.2,1013.2 1287.7,1032.1 1286.2,1029.2 1284.7,1027.0 1283.2,1032.6 1281.8,1032.4 1280.3,1026.4 1278.8,1035.0 1277.4,1020.2 1275.9,1022.5 1274.4,1034.4 1273.0,1037.1 1271.6,1026.3 1270.0,1017.3 1268.5,1022.9 1267.1,1029.9 1265.8,1031.0 1264.4,1028.7 1262.9,1029.5 1261.3,1014.8 1260.0,1019.0 1258.6,1018.4 1257.4,1019.6 1256.0,1031.3 1255.1,1024.7 1253.3,1014.3 1252.3,1017.3 1251.4,1002.5 1249.8,1021.4 1248.5,1012.3 1247.8,1016.3 1246.1,1015.5 1244.9,1002.2 1244.6,1013.8 1243.1,1007.0 1241.9,1006.6 1240.8,1000.9 1239.8,1005.6 1238.8,1009.4 1237.6,1009.7 1236.2,1005.3 1235.4,1003.0 1234.0,1010.0 1233.0,999.3 1231.9,1001.8 1230.6,1012.9 1229.4,989.1 1228.1,990.6 1226.8,992.4 1225.4,996.3 1224.0,996.0 1222.6,999.3 1221.2,1010.1 1219.8,1006.9 1218.3,994.1 1216.8,1003.3 1215.3,1000.0 1213.8,995.8 1212.3,1004.6 1210.7,1007.7 1209.2,990.9 1207.6,1005.0 1206.1,991.7 1204.5,994.7 1202.9,999.2 1201.4,992.1 1199.8,995.3 1198.3,996.9 1196.7,999.9 1195.2,994.9 1193.6,994.9 1192.1,991.2 1190.6,999.0 1189.1,1000.2 1187.6,989.7 1186.1,999.4 1184.6,1007.1 1183.1,1000.2 1181.5,1003.7 1180.0,1010.6 1178.4,996.4 1176.9,993.9 1175.3,995.1 1173.8,996.2 1172.3,988.2 1170.8,990.5 1169.2,1007.2 1167.7,988.8 1166.3,990.8 1164.7,990.3 1163.3,1000.7 1161.9,997.9 1160.6,1003.4 1159.3,993.1 1157.8,1008.9 1156.5,998.8 1155.2,996.0 1154.0,1009.5 1152.8,1010.1 1151.7,1011.5 1150.8,994.5 1149.5,1004.5 1147.8,1007.4 1147.3,1005.4 1145.8,997.7 1145.1,1013.3 1144.1,1013.3 1142.9,1012.8 1142.2,1008.1 1141.1,1010.3 1139.0,1019.8 1138.5,1014.2 1137.7,1018.6 1137.0,1020.2 1135.8,1020.1 1134.5,1027.2 1133.3,1022.3 1132.5,1030.6 1131.2,1036.0 1130.3,1028.9 1129.3,1021.6 1128.3,1027.2 1127.3,1035.2 1125.8,1037.7 1124.3,1028.0 1123.9,1034.1 1121.9,1034.2 1121.5,1029.8 1120.0,1038.5 1119.0,1037.1 1117.8,1048.0 1116.6,1032.3 1115.3,1043.6 1114.0,1037.8 1112.6,1041.5 1111.3,1034.6 1110.1,1033.0 1108.3,1042.7 1107.4,1043.4 1105.8,1032.0 1104.1,1039.3 1102.9,1030.9 1101.5,1032.8 1100.1,1043.9 1098.4,1037.3 1097.3,1032.6 1096.1,1034.1 1094.7,1026.7 1093.4,1028.3 1092.1,1031.2 1090.8,1021.2 1089.7,1024.3 1088.3,1035.9 1086.9,1023.0 1085.7,1023.4 1084.1,1030.9 1083.0,1032.9 1081.7,1020.5 1080.5,1027.2 1079.4,1013.0 1078.0,1011.5 1076.7,1017.3 1075.5,1027.8 1074.1,1012.8 1072.5,1017.9 1071.4,1018.2 1070.1,1004.6 1068.9,1009.6 1067.7,1019.5 1066.3,1017.2 1065.1,1011.2 1063.9,996.5 1062.5,1011.5 1061.2,1013.8 1060.1,997.8 1058.9,1009.7 1057.4,1003.0 1056.1,996.3 1054.7,1012.0 1053.2,1014.9 1051.8,999.2 1050.7,1009.0 1049.5,1001.1 1048.1,1000.8 1046.6,997.1 1045.3,997.4 1044.0,996.0 1042.5,1003.3 1041.1,995.7 1039.8,1004.5 1038.2,996.2 1036.8,992.4 1035.4,998.1 1034.0,1007.7 1032.6,1000.9 1031.1,1005.6 1029.6,983.0 1028.2,989.6 1026.7,987.6 1025.2,993.6 1023.8,993.5 1022.4,981.8 1020.9,989.1 1019.5,993.6 1018.0,998.1 1016.5,978.1 1015.1,1002.8 1013.5,988.6 1012.1,996.7 1010.6,982.7 1009.1,991.8 1007.6,998.0 1006.1,998.7 1004.7,990.1 1003.2,979.5 1001.7,996.9 1000.2,988.0 998.7,989.7 997.2,998.4 995.7,978.1 994.2,1005.8 992.7,980.1 991.2,995.9 989.7,1001.1 988.2,988.8 986.7,1001.7 985.3,981.2 983.8,994.3 982.3,990.5 980.8,983.8 979.3,991.8 977.8,980.2 976.3,977.9 974.8,997.9 973.3,994.2 971.8,980.6 970.3,976.5 968.8,983.5 967.3,982.2 965.8,995.7 964.3,983.9 962.8,991.8 961.3,983.0 959.8,974.8 958.3,999.1 956.8,986.9 955.4,977.0 953.9,985.2 952.4,992.9 950.9,978.2 949.4,976.1 947.9,977.4 946.4,991.8 944.9,1000.6 943.5,977.8 942.0,980.7 940.5,982.0 939.0,984.0 937.5,993.7 936.0,986.8 934.6,981.8 933.1,989.4 931.6,983.8 930.1,972.7 928.6,980.2 927.1,997.1 925.6,984.2 924.1,979.5 922.7,984.6 921.2,976.6 919.7,979.3 918.2,976.6 916.7,978.4 915.2,986.6 913.7,980.4 912.2,980.6 910.7,982.0 909.2,978.4 907.7,982.2 906.2,985.2 904.7,978.9 903.2,971.0 901.7,983.3 900.2,967.2 898.7,984.6 897.2,981.0 895.7,971.9 894.2,974.4 892.7,976.5 891.2,963.4 889.7,985.4 888.2,988.3 886.7,977.4 885.2,980.1 883.7,976.0 882.3,981.3 880.8,987.2 879.3,984.7 877.8,971.5 876.3,975.3 874.8,982.2 873.3,972.0 871.8,970.8 870.3,974.0 868.8,979.2 867.3,980.1 865.8,961.9 864.3,973.1 862.9,982.8 861.4,971.1 859.9,975.9 858.4,976.9 856.9,977.0 855.4,975.7 853.9,967.4 852.4,983.3 850.9,979.1 849.4,974.8 847.9,981.2 846.4,972.6 844.9,968.8 843.4,968.8 841.9,976.3 840.4,983.1 838.9,979.8 837.4,970.9 835.9,961.5 834.4,967.6 832.9,965.8 831.4,978.2 829.9,983.1 828.4,953.0 826.9,966.2 825.4,972.7 824.0,983.9 822.5,973.2 821.0,972.9 819.5,981.3 818.0,968.6 816.5,968.3 815.1,963.7 813.6,972.5 812.2,956.5 810.7,969.1 809.2,967.0 807.8,970.1 806.3,973.0 805.1,978.6 803.5,976.6 802.0,970.9 800.6,978.6 799.2,971.7 797.6,970.1 796.3,974.6 795.0,968.5 793.6,984.3 792.1,981.1 790.6,979.3 789.3,987.6 787.8,991.7 786.3,974.3 784.9,978.3 783.4,984.4 782.0,974.3 780.5,983.3 779.0,975.7 777.6,980.4 776.1,986.2 774.6,985.2 773.1,972.4 771.6,982.2 770.1,994.7 768.6,980.5 767.1,979.3 765.6,983.1 764.1,990.0 762.6,971.4 761.0,987.7 759.5,982.9 758.0,982.3 756.5,974.3 755.0,978.3 753.5,971.6 752.0,988.1 750.5,981.6 749.0,963.7 747.5,972.2 746.0,976.6 744.5,979.3 743.0,971.9 741.5,981.8 740.0,980.9 738.5,982.0 737.0,977.6 735.5,989.2 734.1,970.9 732.6,959.5 731.1,974.7 729.6,993.8 728.1,993.1 726.6,971.9 725.1,967.8 723.6,984.5 722.2,963.3 720.7,983.2 719.2,972.2 717.7,974.0 716.2,971.9 714.8,974.0 713.3,976.7 711.8,974.4 710.4,973.1 708.9,975.1 707.4,973.7 705.9,993.1 704.5,985.2 703.1,968.8 701.6,975.8 700.2,984.7 698.7,964.6 697.3,974.0 695.8,967.9 694.5,967.7 693.0,978.5 691.7,974.3 690.2,960.0 688.8,974.2 687.4,959.0 685.9,970.3 684.5,976.1 683.0,965.0 681.7,978.5 680.3,963.8 678.9,958.5 677.5,963.6 676.0,963.4 674.7,972.7 673.2,960.5 671.8,999.5 670.3,963.2 668.9,959.2 667.5,961.2 666.1,962.6 664.7,959.9 663.3,952.1 661.9,959.8 660.4,966.7 659.0,958.2 657.5,966.0 656.2,951.2 654.7,959.4 653.2,957.7 651.8,959.4 650.3,951.1 648.9,959.2 647.6,956.2 646.0,956.3 644.6,951.4 643.1,943.6 641.7,949.5 640.3,948.6 638.8,959.4 637.5,952.1 635.9,956.1 634.6,944.2 633.1,955.9 631.7,951.6 630.3,954.2 628.8,944.4 627.4,956.8 626.1,953.7 624.6,976.4 623.1,956.5 621.6,942.9 620.3,945.5 618.9,957.2 617.5,945.7 616.1,938.5 614.7,946.3 613.3,946.2 611.7,947.4 610.4,948.9 609.0,937.6 607.6,939.9 606.1,942.0 604.7,949.8 603.5,945.9 601.8,938.7 600.5,947.5" fill="none" stroke="#ff0000" stroke-width="8.5" stroke-linejoin="round" stroke-linecap="round"/>
<rect x="546.00" y="53.80" width="1519.50" height="1137.40" fill="none" stroke="#000" stroke-width="5.80"/>
<line x1="546.00" y1="50.90" x2="546.00" y2="1194.10" stroke="#000" stroke-width="6.40" stroke-linecap="butt"/>
<line x1="2065.50" y1="50.90" x2="2065.50" y2="1194.10" stroke="#000" stroke-width="6.40" stroke-linecap="butt"/>
<line x1="601.00" y1="1191.20" x2="601.00" y2="1213.20" stroke="#000" stroke-width="5.00" stroke-linecap="round"/>
<text transform="translate(546.06,1288.30) scale(1.0500,1)" font-size="80.50">1.5</text>
<line x1="926.50" y1="1191.20" x2="926.50" y2="1213.20" stroke="#000" stroke-width="5.00" stroke-linecap="round"/>
<text transform="translate(871.56,1288.30) scale(1.0500,1)" font-size="80.50">1.8</text>
<line x1="1252.00" y1="1191.20" x2="1252.00" y2="1213.20" stroke="#000" stroke-width="5.00" stroke-linecap="round"/>
<text transform="translate(1200.02,1288.30) scale(1.0500,1)" font-size="80.50">2.1</text>
<line x1="1577.50" y1="1191.20" x2="1577.50" y2="1213.20" stroke="#000" stroke-width="5.00" stroke-linecap="round"/>
<text transform="translate(1523.62,1288.30) scale(1.0500,1)" font-size="80.50">2.4</text>
<line x1="1903.00" y1="1191.20" x2="1903.00" y2="1213.20" stroke="#000" stroke-width="5.00" stroke-linecap="round"/>
<text transform="translate(1849.54,1288.30) scale(1.0500,1)" font-size="80.50">2.7</text>
<line x1="522.00" y1="79.40" x2="546.00" y2="79.40" stroke="#000" stroke-width="4.50" stroke-linecap="round"/>
<text transform="translate(182.74,101.60) scale(1.0600,1)" font-size="81.20">0.000105</text>
<line x1="522.00" y1="269.10" x2="546.00" y2="269.10" stroke="#000" stroke-width="4.50" stroke-linecap="round"/>
<text transform="translate(182.74,291.30) scale(1.0600,1)" font-size="81.20">0.000070</text>
<line x1="522.00" y1="458.80" x2="546.00" y2="458.80" stroke="#000" stroke-width="4.50" stroke-linecap="round"/>
<text transform="translate(182.74,481.00) scale(1.0600,1)" font-size="81.20">0.000035</text>
<line x1="522.00" y1="648.50" x2="546.00" y2="648.50" stroke="#000" stroke-width="4.50" stroke-linecap="round"/>
<text transform="translate(182.74,670.70) scale(1.0600,1)" font-size="81.20">0.000000</text>
<line x1="522.00" y1="838.20" x2="546.00" y2="838.20" stroke="#000" stroke-width="4.50" stroke-linecap="round"/>
<text transform="translate(154.08,860.40) scale(1.0600,1)" font-size="81.20">-0.000035</text>
<line x1="522.00" y1="1027.90" x2="546.00" y2="1027.90" stroke="#000" stroke-width="4.50" stroke-linecap="round"/>
<text transform="translate(154.08,1050.10) scale(1.0600,1)" font-size="81.20">-0.000070</text>
<text transform="translate(93.70,884.22) scale(1.1000,1) rotate(-90)" font-size="81.80">Current/ mA</text>
<text transform="translate(1115.81,1392.80) scale(1.0670,1)" font-size="80.60">Voltage/ V</text>
<text transform="translate(1214.18,1490.40) scale(1.1000,1)" font-size="91.20">(a)</text>
<text transform="translate(1600.36,1095.20) scale(1.0800,1)" font-size="80.10">Before cycle</text>
<line x1="1702.00" y1="83.00" x2="1828.00" y2="83.00" stroke="#000" stroke-width="8.20" stroke-linecap="round"/>
<line x1="1702.00" y1="145.50" x2="1828.00" y2="145.50" stroke="#ff0000" stroke-width="8.20" stroke-linecap="round"/>
<text transform="translate(1843.40,99.30) scale(1.0600,1)" font-size="51.00">1st Cycle</text>
<text transform="translate(1840.60,163.20) scale(1.0800,1)" font-size="51.00">2nd Cycle</text>
<polyline points="574.5,2474.3 574.9,2472.6 574.9,2475.0 574.7,2465.7 574.3,2471.0 575.6,2461.1 575.7,2464.7 574.7,2463.1 575.0,2466.3 575.2,2460.9 574.6,2457.3 576.8,2462.6 574.0,2461.9 575.4,2452.6 574.9,2455.8 575.8,2450.4 574.7,2451.0 574.6,2449.8 576.5,2443.1 575.5,2446.1 576.1,2440.8 575.8,2439.6 576.7,2439.9 575.5,2433.2 575.3,2433.4 575.9,2437.7 576.0,2437.6 575.8,2436.9 576.2,2430.9 575.9,2433.4 576.2,2434.8 575.9,2432.0 576.9,2421.8 576.7,2419.0 576.4,2424.9 577.3,2426.3 577.1,2420.4 577.5,2422.4 577.3,2418.4 576.3,2416.8 578.2,2415.6 577.3,2413.8 578.0,2410.1 578.4,2416.7 577.9,2411.9 579.4,2405.1 579.1,2404.6 579.1,2400.3 579.7,2404.4 580.6,2395.9 579.9,2398.5 581.3,2401.0 580.7,2398.9 581.4,2397.5 582.0,2389.5 581.5,2395.3 581.4,2390.5 582.5,2394.6 583.9,2387.1 583.8,2393.3 584.9,2386.9 584.5,2386.8 584.9,2380.8 585.6,2379.3 586.1,2377.9 585.9,2382.3 587.3,2374.8 587.0,2374.8 588.1,2378.9 588.7,2374.7 589.3,2369.9 590.1,2370.9 590.2,2362.0 590.5,2360.1 591.8,2367.5 592.2,2376.8 592.7,2372.1 593.9,2373.2 594.3,2362.8 595.1,2356.4 596.2,2362.6 596.4,2350.5 595.4,2341.0 597.8,2355.8 598.3,2357.7 599.8,2354.8 599.9,2358.0 601.6,2352.7 601.9,2349.3 602.9,2340.6 603.7,2344.3 605.2,2337.4 605.5,2340.6 607.0,2351.9 607.7,2341.4 608.2,2341.1 609.3,2334.0 610.7,2351.3 611.5,2324.4 612.7,2329.1 612.8,2338.6 614.6,2327.8 615.0,2326.4 616.2,2332.7 617.2,2332.9 617.6,2331.5 619.9,2321.5 620.0,2329.7 620.4,2317.2 621.8,2317.8 623.0,2316.2 623.9,2322.8 625.0,2317.7 626.4,2313.1 626.5,2317.8 628.5,2310.5 629.7,2312.5 630.8,2312.6 631.5,2310.0 633.0,2306.3 634.2,2303.8 634.7,2317.0 636.2,2296.7 636.9,2310.1 638.2,2302.3 639.6,2301.9 640.5,2294.3 641.8,2304.1 642.7,2299.9 644.3,2309.0 644.9,2297.9 645.9,2293.7 647.4,2292.0 648.5,2304.6 649.8,2301.3 650.7,2294.6 651.9,2306.4 653.6,2296.6 654.7,2292.2 655.6,2296.4 657.0,2285.2 658.3,2292.0 659.4,2283.2 660.7,2293.3 661.7,2292.8 663.1,2287.2 664.3,2294.0 665.7,2281.7 666.9,2288.9 668.1,2283.7 669.4,2276.2 670.7,2287.4 672.0,2293.2 672.9,2301.5 674.0,2281.1 675.9,2282.9 677.1,2290.2 678.5,2271.3 679.5,2287.4 680.9,2265.8 682.2,2268.3 683.3,2273.7 684.9,2271.9 686.3,2280.1 687.4,2265.9 688.7,2271.4 689.9,2269.2 691.4,2271.9 692.7,2274.2 694.2,2275.6 695.3,2270.8 696.7,2270.6 698.1,2286.2 699.4,2256.2 700.8,2253.8 702.2,2267.8 703.6,2255.5 704.9,2258.8 706.4,2265.0 707.6,2260.6 709.0,2257.0 710.4,2255.7 711.9,2261.6 713.1,2270.7 714.4,2248.8 715.9,2258.1 717.4,2265.8 718.9,2260.6 720.3,2254.2 721.6,2258.0 723.1,2260.1 724.5,2263.8 725.9,2245.6 727.4,2250.1 728.7,2257.4 730.2,2258.1 731.8,2256.4 733.2,2257.1 734.7,2259.9 736.1,2256.6 737.6,2270.6 739.0,2248.2 740.5,2250.0 742.0,2242.2 743.4,2255.8 744.9,2253.1 746.3,2250.1 747.8,2243.1 749.3,2263.9 750.7,2253.1 752.2,2255.6 753.7,2240.6 755.1,2251.8 756.6,2252.6 758.1,2260.7 759.6,2252.7 761.1,2255.8 762.5,2237.7 764.0,2246.6 765.5,2248.4 767.0,2247.0 768.5,2245.5 770.0,2245.1 771.5,2255.8 772.9,2243.9 774.4,2251.6 775.9,2251.1 777.4,2243.8 778.9,2246.9 780.4,2229.6 781.9,2241.5 783.4,2252.9 784.9,2240.9 786.4,2231.1 787.9,2251.5 789.4,2235.9 790.9,2253.7 792.3,2244.1 793.8,2235.3 795.3,2239.3 796.8,2254.4 798.3,2244.9 799.8,2242.8 801.3,2244.3 802.8,2241.9 804.3,2238.5 805.8,2247.0 807.2,2252.6 808.7,2243.0 810.2,2253.1 811.7,2249.7 813.2,2231.6 814.7,2246.6 816.2,2250.7 817.7,2227.8 819.2,2237.5 820.7,2244.3 822.2,2235.0 823.7,2240.8 825.2,2253.1 826.6,2233.9 828.2,2239.1 829.6,2254.5 831.1,2239.2 832.6,2239.1 834.1,2234.5 835.6,2233.5 837.1,2234.6 838.6,2241.9 840.1,2231.5 841.6,2247.5 843.1,2232.1 844.6,2250.9 846.1,2236.3 847.6,2234.6 849.1,2234.0 850.6,2240.7 852.1,2238.5 853.5,2231.1 855.0,2238.4 856.5,2240.3 858.0,2238.3 859.5,2245.7 861.0,2219.8 862.5,2235.1 864.0,2232.2 865.5,2239.5 867.0,2249.4 868.5,2226.7 870.0,2230.3 871.5,2234.3 872.9,2242.2 874.5,2242.8 875.9,2230.7 877.4,2241.3 878.9,2235.0 880.4,2242.2 881.9,2235.7 883.4,2238.7 884.9,2235.0 886.4,2228.8 887.9,2228.2 889.4,2237.8 890.9,2229.4 892.3,2227.4 893.8,2232.5 895.3,2237.0 896.8,2238.1 898.3,2228.8 899.8,2232.3 901.3,2237.0 902.8,2228.7 904.3,2267.9 905.8,2233.8 907.3,2225.8 908.8,2236.7 910.3,2230.3 911.8,2242.9 913.3,2230.9 914.8,2242.2 916.2,2247.3 917.7,2235.6 919.2,2235.1 920.7,2228.9 922.2,2232.1 923.7,2236.6 925.2,2244.6 926.7,2239.3 928.2,2225.2 929.7,2239.3 931.2,2234.1 932.7,2242.7 934.1,2238.4 935.6,2233.4 937.1,2221.5 938.6,2233.9 940.1,2224.9 941.6,2224.2 943.1,2228.3 944.6,2217.9 946.1,2229.2 947.6,2231.1 949.1,2234.4 950.6,2224.1 952.1,2224.7 953.6,2237.0 955.1,2236.2 956.5,2216.1 958.0,2231.2 959.5,2234.0 961.0,2222.3 962.5,2233.6 964.0,2225.0 965.5,2224.0 967.0,2218.1 968.5,2235.4 970.0,2219.3 971.5,2203.6 973.0,2215.7 974.5,2220.1 976.0,2215.9 977.4,2234.6 978.9,2217.9 980.4,2221.0 981.9,2224.4 983.4,2228.3 984.9,2214.2 986.4,2211.3 987.9,2216.8 989.4,2227.1 990.9,2221.2 992.4,2227.2 993.9,2217.8 995.4,2229.6 996.9,2224.9 998.4,2223.3 999.9,2226.4 1001.4,2225.1 1002.9,2224.4 1004.4,2212.5 1005.9,2224.7 1007.4,2221.7 1008.9,2225.7 1010.4,2224.3 1011.8,2219.8 1013.3,2225.7 1014.8,2233.0 1016.3,2226.3 1017.8,2222.8 1019.3,2223.4 1020.8,2253.7 1022.3,2217.9 1023.8,2222.5 1025.3,2219.8 1026.8,2212.3 1028.3,2227.3 1029.8,2228.4 1031.3,2220.0 1032.8,2221.0 1034.3,2226.1 1035.8,2234.0 1037.3,2221.4 1038.8,2235.1 1040.3,2231.2 1041.8,2209.2 1043.3,2221.0 1044.8,2225.1 1046.3,2219.9 1047.8,2228.7 1049.3,2223.9 1050.8,2225.0 1052.3,2219.8 1053.8,2209.3 1055.3,2223.6 1056.8,2213.8 1058.3,2226.4 1059.8,2222.4 1061.3,2240.3 1062.8,2223.2 1064.3,2208.4 1065.8,2235.8 1067.3,2223.9 1068.8,2228.4 1070.3,2229.9 1071.8,2213.9 1073.3,2213.3 1074.8,2225.5 1076.3,2212.7 1077.8,2207.3 1079.3,2214.9 1080.8,2218.0 1082.3,2223.6 1083.8,2215.9 1085.3,2214.2 1086.7,2221.6 1088.2,2219.5 1089.7,2223.7 1091.2,2209.9 1092.7,2232.1 1094.2,2210.2 1095.7,2225.3 1097.2,2224.1 1098.7,2212.4 1100.2,2216.9 1101.7,2213.8 1103.2,2221.6 1104.6,2223.4 1106.2,2216.9 1107.6,2218.2 1109.1,2211.9 1110.6,2221.3 1112.1,2220.8 1113.6,2214.6 1115.1,2209.3 1116.6,2222.8 1118.1,2209.4 1119.6,2211.9 1121.1,2210.1 1122.6,2217.1 1124.1,2214.7 1125.5,2206.0 1127.0,2211.3 1128.5,2210.4 1130.0,2220.5 1131.5,2230.1 1133.0,2225.5 1134.5,2225.6 1136.0,2224.4 1137.5,2210.5 1139.0,2211.1 1140.5,2205.5 1142.0,2220.3 1143.4,2214.9 1144.9,2206.9 1146.4,2216.4 1147.9,2212.6 1149.4,2219.1 1150.9,2211.0 1152.4,2208.3 1153.9,2212.2 1155.4,2211.4 1156.9,2217.8 1158.4,2209.7 1159.9,2208.6 1161.4,2212.3 1162.9,2202.9 1164.4,2207.5 1165.9,2215.7 1167.3,2204.4 1168.9,2217.6 1170.3,2206.2 1171.8,2208.4 1173.3,2213.4 1174.8,2210.5 1176.3,2201.1 1177.8,2198.5 1179.3,2210.6 1180.8,2202.4 1182.3,2206.7 1183.8,2212.8 1185.3,2207.0 1186.8,2204.5 1188.3,2200.6 1189.8,2208.8 1191.3,2223.6 1192.7,2201.3 1194.2,2197.7 1195.7,2204.7 1197.2,2215.4 1198.7,2205.1 1200.2,2206.1 1201.7,2206.2 1203.2,2207.7 1204.7,2200.0 1206.2,2197.7 1207.6,2205.8 1209.1,2218.5 1210.6,2194.3 1212.1,2203.7 1213.6,2203.4 1215.1,2202.1 1216.6,2205.8 1218.1,2200.2 1219.6,2210.0 1221.0,2198.9 1222.5,2194.5 1224.0,2202.6 1225.5,2207.7 1227.0,2223.0 1228.5,2202.0 1229.9,2214.5 1231.4,2192.4 1232.9,2208.9 1234.4,2212.2 1235.9,2201.9 1237.4,2208.4 1238.8,2199.9 1240.3,2198.4 1241.8,2200.3 1243.3,2206.0 1244.8,2188.5 1246.3,2229.8 1247.8,2199.1 1249.3,2196.5 1250.7,2208.1 1252.2,2201.5 1253.7,2217.3 1255.2,2192.0 1256.7,2197.9 1258.2,2195.9 1259.6,2208.0 1261.1,2193.4 1262.6,2188.5 1264.1,2180.9 1265.6,2187.2 1267.0,2197.6 1268.6,2191.6 1270.0,2205.1 1271.5,2186.0 1273.0,2195.4 1274.5,2186.1 1276.0,2194.3 1277.4,2190.1 1278.9,2191.6 1280.4,2181.7 1281.9,2200.6 1283.4,2189.4 1284.9,2190.4 1286.4,2189.7 1287.9,2189.9 1289.3,2201.7 1290.9,2200.3 1292.3,2194.1 1293.8,2185.3 1295.3,2193.3 1296.8,2189.0 1298.3,2176.0 1299.8,2187.0 1301.3,2192.3 1302.7,2186.0 1304.2,2188.3 1305.7,2197.0 1307.2,2197.4 1308.7,2177.3 1310.2,2192.5 1311.6,2190.6 1313.1,2192.1 1314.6,2185.5 1316.0,2181.5 1317.5,2174.0 1318.9,2185.7 1320.4,2192.7 1321.8,2178.7 1323.3,2183.6 1324.7,2181.6 1326.1,2187.6 1327.6,2193.6 1329.1,2182.4 1330.5,2198.6 1331.9,2180.9 1333.4,2190.0 1334.7,2187.5 1336.2,2175.4 1337.6,2176.5 1339.0,2182.7 1340.4,2174.4 1341.9,2171.5 1343.3,2178.8 1344.7,2169.9 1346.1,2178.7 1347.6,2175.9 1349.1,2182.1 1350.4,2185.1 1351.7,2165.7 1353.1,2174.3 1354.6,2181.4 1356.0,2193.4 1357.5,2175.4 1358.7,2175.9 1360.1,2169.8 1361.6,2189.5 1362.9,2170.2 1364.2,2175.7 1365.7,2177.5 1366.9,2162.1 1368.3,2160.9 1369.8,2161.0 1371.2,2169.0 1372.5,2173.5 1373.7,2162.5 1375.3,2179.7 1376.6,2161.7 1377.9,2167.8 1379.3,2163.7 1380.6,2157.1 1382.0,2161.0 1383.4,2162.1 1384.5,2152.8 1385.9,2160.8 1387.3,2154.0 1388.9,2166.5 1389.7,2151.8 1391.2,2151.0 1392.3,2151.6 1394.0,2159.7 1395.3,2165.3 1396.5,2147.7 1397.8,2159.3 1398.9,2159.4 1400.4,2151.2 1401.9,2157.6 1403.0,2156.1 1404.2,2148.2 1405.6,2137.3 1406.9,2150.9 1408.5,2146.8 1409.7,2149.7 1411.1,2151.7 1412.2,2160.9 1413.6,2144.5 1414.9,2152.7 1416.3,2147.0 1417.7,2141.3 1418.7,2137.7 1420.3,2134.1 1421.7,2129.1 1422.7,2144.7 1424.3,2144.6 1425.6,2135.2 1426.8,2144.9 1428.1,2139.6 1429.4,2137.7 1430.5,2131.8 1431.6,2131.7 1433.4,2140.4 1435.0,2138.0 1435.7,2132.7 1436.9,2139.1 1438.1,2135.6 1439.1,2123.3 1440.8,2140.2 1441.7,2129.7 1442.9,2142.6 1444.0,2123.5 1445.5,2114.1 1446.5,2131.1 1447.8,2137.5 1449.2,2123.7 1450.4,2125.7 1451.4,2137.3 1452.5,2129.2 1453.8,2126.7 1455.5,2117.8 1456.6,2115.8 1457.3,2110.9 1458.8,2111.4 1459.5,2116.5 1461.1,2119.3 1462.6,2126.9 1463.0,2123.9 1464.8,2115.0 1465.2,2113.6 1466.9,2114.1 1467.7,2109.6 1468.6,2118.8 1470.3,2104.4 1471.0,2105.5 1471.6,2117.7 1472.9,2097.1 1474.1,2106.5 1475.0,2108.8 1476.2,2107.0 1476.4,2106.1 1478.1,2094.1 1479.1,2108.9 1480.0,2100.3 1480.5,2094.1 1481.3,2094.9 1482.9,2089.0 1483.6,2088.5 1484.5,2092.6 1485.6,2088.0 1487.0,2089.7 1487.6,2088.5 1488.2,2078.0 1489.5,2091.6 1489.5,2094.1 1490.2,2086.4 1491.3,2083.5 1492.4,2084.7 1492.3,2078.7 1492.8,2078.3 1493.4,2072.9 1494.5,2072.5 1496.0,2074.7 1496.7,2077.9 1496.5,2071.4 1498.2,2073.8 1497.9,2069.4 1499.0,2066.1 1499.2,2068.8 1499.1,2066.1 1499.8,2067.5 1501.6,2067.4 1501.7,2061.7 1501.5,2060.3 1502.2,2061.0 1502.9,2053.6 1502.9,2053.0 1503.5,2056.1 1505.0,2046.5 1504.8,2043.0 1504.9,2044.6 1505.4,2049.1 1506.0,2046.2 1506.8,2043.5 1505.9,2042.3 1506.1,2037.2 1507.1,2039.4 1508.1,2035.6 1508.1,2040.0 1508.9,2035.0 1509.1,2036.1 1510.1,2033.9 1508.8,2030.3 1509.7,2027.7 1509.2,2025.6 1510.7,2028.4 1511.7,2027.0 1511.3,2019.9 1511.4,2020.6 1510.8,2021.3 1512.1,2019.0 1512.1,2020.7 1512.4,2016.5 1513.3,2019.1 1512.7,2010.5 1512.6,2013.3 1513.4,2008.9 1513.1,2005.2 1514.3,1996.4 1514.4,2004.3 1514.1,2004.0 1513.9,2003.9 1514.1,2005.0 1515.8,2000.6 1515.6,1996.9 1515.3,1993.2 1515.9,1993.2 1516.8,1994.6 1516.0,1986.0 1516.7,1985.9 1517.1,1988.7 1517.2,1992.6 1516.6,1986.4 1517.5,1987.3 1517.5,1982.1 1517.4,1977.6 1518.0,1978.2 1519.0,1980.5 1518.0,1975.2 1518.6,1975.6 1519.1,1975.0 1518.9,1979.5 1520.8,1976.0 1519.6,1963.4 1521.1,1963.8 1520.0,1969.2 1520.2,1965.0 1521.5,1965.4 1520.4,1964.6 1519.7,1964.7 1521.2,1951.6 1522.1,1954.2 1522.1,1948.4 1522.2,1959.7 1521.6,1953.5 1521.9,1950.4 1521.5,1958.7 1522.2,1951.6 1522.3,1947.9 1522.4,1940.6 1522.3,1946.1 1522.0,1946.8 1522.7,1939.9 1523.0,1940.7 1523.5,1934.9 1523.4,1942.5 1523.5,1931.5 1522.6,1932.3 1522.5,1932.7 1523.9,1931.5 1523.7,1930.9 1524.8,1923.6 1523.7,1927.9 1525.1,1922.6 1523.6,1923.2 1525.1,1923.0 1524.7,1917.7 1524.4,1909.3 1524.0,1922.2 1525.2,1915.2 1525.1,1911.6 1525.2,1917.6 1525.3,1916.2 1525.7,1910.5 1525.4,1913.6 1526.4,1908.4 1526.2,1903.9 1525.3,1902.5 1526.1,1905.9 1526.9,1900.9 1526.4,1896.6 1526.3,1898.7 1526.9,1898.2 1526.2,1894.1 1526.2,1894.9 1525.3,1896.6 1526.4,1890.7 1526.2,1893.3 1527.3,1888.1 1526.7,1888.8 1527.6,1884.3 1528.3,1883.1 1527.4,1877.0 1527.8,1881.0 1528.2,1865.4 1528.3,1874.1 1527.6,1872.8 1527.6,1871.3 1529.4,1876.3 1528.9,1866.9 1528.5,1869.5 1528.4,1869.1 1528.9,1869.2 1529.1,1866.7 1528.2,1864.7 1529.5,1863.6 1529.2,1866.6 1529.5,1854.4 1528.9,1852.2 1530.2,1856.2 1529.3,1854.9 1530.1,1856.0 1529.4,1851.6 1530.0,1853.7 1530.0,1841.8 1530.0,1844.9 1531.8,1847.3 1531.6,1842.8 1530.2,1844.9 1529.9,1839.7 1531.0,1838.0 1531.2,1840.8 1531.2,1839.1 1531.3,1834.4 1531.7,1838.6 1531.4,1830.7 1531.5,1831.8 1531.8,1820.6 1531.9,1830.3 1531.2,1831.1 1532.7,1826.7 1533.4,1820.7 1532.8,1825.1 1532.8,1820.9 1532.6,1816.0 1532.9,1814.1 1532.2,1817.3 1533.3,1811.4 1533.4,1810.3 1532.9,1814.9 1534.0,1812.4 1533.0,1812.2 1533.4,1805.0 1533.5,1806.9 1534.6,1810.8 1534.3,1801.5 1533.9,1798.8 1533.3,1801.8 1533.4,1799.9 1535.4,1791.8 1534.8,1796.6 1534.4,1796.4 1535.2,1787.3 1535.3,1784.4 1534.8,1786.6 1536.3,1787.7 1536.3,1786.1 1536.0,1786.3 1534.9,1779.4 1536.0,1786.7 1536.2,1786.2 1536.5,1780.2 1536.9,1775.6 1537.8,1773.8 1535.8,1775.2 1536.7,1772.9 1536.3,1771.6 1536.5,1767.3 1537.3,1768.1 1537.3,1764.4 1538.1,1761.4 1537.8,1759.7 1537.4,1757.0 1538.3,1763.2 1538.8,1754.0 1536.8,1756.3 1539.4,1756.3 1539.2,1756.2 1538.8,1751.6 1538.7,1754.1 1538.9,1748.7 1538.6,1747.3 1538.9,1745.0 1539.5,1741.6 1539.7,1742.1 1539.2,1741.8 1539.6,1741.3 1539.0,1745.3 1540.1,1732.4 1540.4,1734.6 1541.0,1731.9 1540.2,1735.8 1541.0,1735.1 1539.5,1729.2 1541.1,1726.3 1540.0,1730.5 1540.9,1726.2 1542.0,1718.8 1540.9,1720.6 1540.2,1721.9 1541.3,1716.9 1542.3,1727.5 1542.6,1713.8 1541.7,1714.9 1543.4,1714.5 1542.1,1713.2 1542.7,1707.8 1543.2,1707.8 1541.6,1709.0 1543.1,1708.7 1543.2,1707.3 1543.1,1703.8 1542.2,1701.2 1543.3,1712.1 1542.9,1697.8 1543.8,1693.0 1542.8,1692.3 1543.5,1696.5 1545.0,1691.3 1544.3,1690.4 1544.6,1692.5 1544.0,1687.2 1545.0,1685.1 1544.2,1689.5 1543.9,1682.2 1544.8,1677.1 1544.6,1679.0 1544.8,1679.9 1545.2,1683.6 1545.2,1677.1 1545.1,1677.7 1546.0,1669.5 1545.5,1669.8 1545.9,1663.9 1546.6,1672.5 1545.9,1669.9 1546.4,1673.7 1544.6,1665.5 1545.9,1665.5 1545.9,1661.1 1546.9,1657.8 1546.5,1659.5 1546.4,1660.9 1547.6,1651.5 1547.1,1656.3 1547.0,1658.7 1548.0,1646.6 1547.2,1643.6 1548.2,1644.6 1546.8,1639.8 1548.1,1648.8 1548.5,1642.7 1549.5,1638.7 1547.9,1634.0 1549.7,1641.0 1550.5,1634.6 1549.4,1634.4 1548.9,1633.2 1549.9,1636.5 1550.5,1626.6 1551.0,1631.1 1550.4,1629.5 1550.9,1624.6 1551.2,1633.8 1551.9,1622.4 1551.2,1621.6 1551.8,1626.5 1552.8,1629.3 1553.0,1625.6 1553.4,1626.1 1554.0,1610.2 1555.3,1621.3 1555.0,1622.4 1556.0,1620.5 1556.1,1617.9 1556.8,1622.8 1557.1,1633.7 1558.2,1627.2 1558.9,1627.5 1559.4,1639.4 1559.4,1637.3 1560.9,1635.5 1560.9,1639.9 1562.0,1633.2 1561.1,1638.2 1562.1,1648.1 1563.4,1641.2 1562.4,1645.3 1563.0,1652.6 1563.5,1651.3 1563.8,1648.6 1564.7,1649.2 1564.3,1651.9 1563.7,1657.4 1564.5,1652.3 1564.3,1658.6 1565.4,1661.8 1565.2,1662.2 1565.2,1662.2 1566.1,1657.8 1565.2,1667.3 1566.5,1671.4 1566.3,1671.5 1566.8,1669.3 1565.5,1668.6 1566.8,1669.8 1565.7,1672.9 1566.9,1671.8 1566.9,1670.7 1567.6,1670.9 1568.6,1676.6 1568.2,1681.4 1568.4,1685.9 1569.0,1691.1 1567.8,1688.2 1569.4,1689.6 1567.6,1696.0 1569.3,1689.0 1569.9,1698.0 1569.0,1698.0 1569.0,1694.6 1570.3,1698.2 1569.3,1698.6 1569.7,1699.3 1570.2,1704.1 1570.8,1703.0 1569.1,1706.0 1570.2,1706.3 1571.2,1706.9 1570.7,1705.4 1570.7,1713.9 1570.9,1713.4 1571.8,1715.3 1571.9,1711.2 1570.6,1718.9 1572.5,1720.1 1571.3,1726.3 1570.2,1721.7 1571.4,1718.1 1572.7,1725.8 1572.2,1719.9 1572.7,1728.4 1571.6,1734.0 1572.7,1730.7 1572.0,1726.9 1572.5,1734.5 1572.0,1731.2 1573.3,1733.6 1573.3,1731.5 1573.6,1737.4 1573.4,1740.7 1574.1,1744.6 1574.8,1745.5 1574.1,1744.4 1574.9,1747.7 1574.2,1750.8 1574.7,1748.5 1575.3,1748.9 1575.5,1751.4 1575.1,1749.2 1575.4,1757.0 1575.7,1762.8 1576.2,1755.2 1576.3,1760.2 1576.3,1761.2 1576.0,1757.3 1575.4,1767.4 1577.0,1764.5 1576.3,1768.3 1576.1,1767.0 1577.2,1768.7 1578.0,1769.4 1578.3,1777.7 1577.5,1774.4 1578.6,1773.5 1578.8,1777.7 1578.9,1779.6 1579.5,1781.9 1578.9,1781.1 1578.9,1782.5 1580.6,1779.3 1580.9,1782.8 1580.6,1781.2 1580.6,1788.6 1581.2,1792.8 1581.1,1797.5 1581.3,1789.1 1582.5,1792.6 1582.7,1801.8 1581.9,1796.4 1582.6,1800.2 1582.2,1801.0 1583.8,1797.6 1583.9,1802.3 1584.1,1805.1 1584.1,1809.0 1583.7,1814.6 1584.2,1810.5 1585.1,1807.7 1585.4,1813.8 1585.8,1812.9 1585.1,1816.0 1585.7,1821.2 1587.2,1826.6 1586.6,1820.8 1587.5,1819.2 1588.2,1824.7 1587.6,1825.2 1588.1,1825.3 1588.8,1825.4 1588.9,1827.1 1589.2,1828.6 1590.3,1826.9 1590.4,1835.4 1590.2,1827.2 1591.5,1836.5 1590.0,1829.2 1591.1,1837.8 1592.3,1844.7 1593.0,1843.9 1592.3,1839.7 1592.5,1843.6 1593.4,1848.5 1594.9,1845.9 1593.9,1851.3 1595.5,1843.9 1595.6,1852.4 1597.0,1856.0 1596.7,1847.0 1596.9,1858.5 1598.2,1853.9 1598.6,1855.9 1599.6,1857.1 1599.4,1860.0 1600.2,1871.0 1600.8,1861.6 1602.1,1861.1 1602.7,1866.7 1603.5,1867.9 1604.8,1869.0 1605.2,1857.3 1605.8,1876.1 1606.7,1875.1 1607.3,1871.6 1607.9,1876.1 1609.4,1885.8 1610.8,1873.5 1611.5,1877.7 1612.1,1883.6 1612.7,1877.0 1614.4,1885.4 1615.1,1877.7 1617.1,1887.3 1617.9,1880.7 1618.7,1876.3 1619.9,1884.0 1620.8,1885.5 1621.9,1882.6 1623.1,1891.5 1624.3,1886.3 1625.5,1900.5 1626.8,1886.5 1628.1,1889.9 1629.5,1889.2 1631.1,1880.1 1631.9,1889.2 1633.3,1890.0 1634.3,1883.2 1635.7,1886.5 1636.5,1882.5 1637.3,1869.8 1638.1,1882.6 1638.9,1862.2 1640.5,1876.3 1640.8,1868.9 1642.5,1861.9 1641.9,1868.4 1643.4,1864.2 1644.3,1871.1 1644.6,1867.0 1646.0,1859.4 1645.8,1857.9 1646.9,1860.3 1647.9,1869.6 1647.8,1860.3 1649.2,1863.6 1650.0,1863.9 1650.1,1858.7 1651.4,1855.0 1651.4,1857.1 1652.2,1857.8 1653.4,1856.1 1653.2,1843.8 1654.7,1845.3 1654.9,1845.6 1655.8,1853.8 1656.7,1847.8 1657.4,1839.2 1657.6,1843.1 1658.3,1844.6 1658.5,1841.6 1660.1,1841.2 1660.1,1838.4 1661.2,1837.6 1661.6,1829.5 1662.2,1837.1 1663.0,1833.0 1663.4,1832.8 1665.3,1832.0 1665.7,1832.0 1665.7,1831.7 1666.6,1814.1 1666.1,1832.7 1667.6,1812.8 1668.8,1816.9 1669.0,1826.2 1669.7,1820.6 1669.6,1822.0 1671.6,1822.0 1671.4,1812.4 1672.4,1820.0 1672.1,1809.9 1673.7,1807.9 1674.4,1807.6 1674.6,1803.6 1675.3,1803.7 1676.1,1800.0 1676.1,1802.4 1676.8,1797.9 1677.2,1796.0 1677.8,1802.5 1679.1,1798.7 1679.0,1791.8 1680.1,1805.0 1679.8,1791.7 1680.7,1794.0 1681.4,1797.2 1682.5,1787.3 1682.9,1777.5 1684.0,1792.4 1684.3,1797.0 1683.8,1787.2 1683.9,1776.0 1685.2,1785.7 1685.4,1780.2 1686.4,1780.1 1687.3,1773.4 1687.7,1768.6 1687.9,1770.6 1688.2,1770.3 1688.7,1772.2 1689.0,1762.8 1689.5,1761.9 1690.4,1765.8 1690.7,1767.6 1692.0,1765.8 1693.0,1759.8 1693.0,1760.9 1692.9,1761.2 1694.3,1757.2 1695.1,1748.4 1695.2,1756.4 1696.0,1754.9 1696.9,1752.5 1697.8,1753.8 1697.8,1751.9 1698.7,1749.8 1700.1,1754.4 1700.8,1742.7 1701.1,1747.0 1702.3,1741.0 1703.5,1736.9 1703.7,1746.9 1705.2,1741.7 1705.0,1741.3 1706.4,1743.3 1707.7,1742.2 1708.4,1731.9 1709.5,1721.3 1710.1,1732.2 1711.0,1727.2 1711.8,1726.7 1712.5,1739.4 1714.5,1725.8 1715.3,1725.1 1716.3,1731.0 1717.4,1725.2 1718.7,1719.7 1719.8,1736.5 1720.8,1715.6 1722.2,1725.3 1723.4,1723.6 1724.9,1729.8 1726.0,1712.7 1727.5,1719.3 1729.3,1716.0 1730.3,1707.3 1732.0,1716.0 1733.3,1713.9 1734.7,1718.3 1735.9,1713.1 1737.2,1714.0 1738.4,1724.7 1739.8,1729.6 1740.9,1722.9 1742.2,1720.6 1743.6,1709.7 1744.6,1714.5 1746.3,1725.9 1747.5,1726.0 1748.7,1721.9 1750.4,1730.0 1751.2,1718.7 1752.1,1719.4 1753.2,1720.2 1754.2,1731.6 1756.3,1728.8 1756.2,1731.1 1757.6,1735.1 1758.5,1736.5 1759.7,1725.8 1760.5,1736.8 1761.0,1743.4 1762.0,1739.0 1762.5,1740.0 1763.3,1752.0 1765.5,1737.7 1765.8,1742.7 1765.6,1742.7 1766.2,1747.1 1766.4,1762.8 1767.6,1748.2 1767.9,1748.0 1768.9,1755.3 1769.3,1755.2 1769.4,1759.8 1770.6,1757.4 1771.8,1753.9 1770.9,1758.3 1772.1,1759.7 1772.4,1758.9 1772.1,1767.6 1773.2,1761.0 1774.0,1764.7 1774.1,1766.4 1774.2,1759.8 1775.4,1770.0 1775.9,1778.7 1775.9,1776.0 1776.7,1773.3 1777.4,1769.6 1777.4,1775.6 1778.0,1785.4 1778.6,1778.5 1778.7,1778.5 1779.9,1777.1 1780.7,1783.9 1780.4,1784.3 1781.5,1791.2 1781.7,1787.5 1781.9,1793.4 1782.4,1788.3 1782.9,1799.8 1783.5,1801.5 1785.0,1792.3 1786.7,1796.6 1786.5,1804.7 1786.4,1801.4 1787.5,1805.4 1788.0,1803.3 1789.0,1799.2 1788.6,1805.3 1789.8,1811.8 1790.3,1818.3 1790.8,1816.1 1791.4,1812.7 1792.8,1815.8 1792.1,1817.1 1793.9,1820.9 1794.0,1818.2 1794.8,1825.2 1795.6,1819.1 1795.5,1822.8 1796.8,1824.5 1797.0,1822.0 1797.2,1825.3 1797.6,1827.3 1798.8,1830.3 1799.0,1826.9 1800.0,1831.2 1800.1,1830.0 1800.6,1829.2 1801.6,1841.6 1801.1,1832.9 1802.0,1840.9 1802.9,1836.3 1803.6,1839.8 1803.4,1838.3 1804.3,1839.7 1805.1,1842.2 1804.7,1846.5 1805.2,1840.6 1805.8,1850.1 1807.2,1848.2 1806.7,1846.3 1807.1,1847.3 1808.3,1850.1 1809.0,1855.8 1809.2,1858.8 1809.8,1857.1 1810.8,1854.4 1809.9,1858.5 1810.0,1866.6 1811.7,1861.4 1812.7,1861.9 1811.3,1862.9 1812.8,1877.0 1813.0,1871.6 1813.9,1868.3 1814.9,1875.7 1814.6,1868.4 1815.0,1876.4 1815.4,1873.1 1816.8,1867.3 1816.7,1879.1 1816.7,1873.1 1816.4,1887.7 1818.6,1885.4 1817.9,1885.1 1819.9,1883.8 1819.5,1886.8 1820.0,1888.6 1820.6,1890.6 1821.4,1895.4 1821.3,1896.5 1821.8,1895.2 1821.8,1893.0 1822.8,1891.0 1823.4,1893.0 1825.1,1908.2 1825.5,1903.8 1825.6,1907.6 1826.6,1900.9 1826.9,1906.2 1828.0,1907.8 1828.3,1911.0 1827.9,1905.8 1828.9,1911.9 1828.7,1904.7 1830.6,1912.4 1830.8,1918.2 1831.2,1915.6 1832.2,1917.7 1832.3,1917.8 1833.6,1926.4 1833.4,1924.0 1835.4,1919.2 1834.9,1925.7 1836.0,1931.2 1836.3,1929.5 1837.1,1928.0 1838.3,1926.7 1837.7,1933.8 1838.6,1932.6 1839.4,1936.4 1840.4,1944.1 1840.8,1935.2 1841.7,1934.5 1841.6,1940.7 1843.2,1951.5 1844.0,1943.0 1844.3,1941.7 1845.0,1948.2 1845.0,1951.8 1845.2,1946.2 1846.5,1956.8 1847.5,1959.2 1848.5,1950.4 1848.7,1960.5 1849.5,1954.8 1849.8,1953.8 1851.2,1963.7 1851.5,1969.6 1851.7,1963.6 1852.5,1958.3 1853.6,1968.6 1853.7,1966.1 1854.9,1960.2 1856.1,1970.4 1855.7,1960.9 1856.6,1971.2 1857.6,1970.7 1859.1,1966.7 1858.4,1967.0 1858.8,1964.8 1860.0,1985.4 1861.3,1973.9 1860.7,1976.6 1861.8,1985.6 1863.2,1978.1 1863.2,1983.7 1864.4,1980.7 1865.0,1983.4 1865.8,1983.5 1866.4,1990.9 1865.6,1994.7 1867.8,1993.5 1868.4,1997.3 1868.7,1990.6 1869.1,1998.3 1870.5,1999.1 1871.3,1990.1 1871.6,1999.5 1871.8,2006.8 1872.9,2011.8 1874.3,2002.0 1874.6,1998.0 1875.1,2010.0 1875.8,2007.6 1876.7,2009.7 1877.0,2008.3 1878.5,2018.7 1879.0,2013.7 1879.5,2022.3 1881.1,2009.9 1881.5,2013.7 1881.8,2020.9 1883.4,2021.7 1883.1,2020.7 1883.8,2019.4 1884.5,2032.1 1885.2,2028.6 1886.4,2031.0 1886.8,2026.6 1887.8,2025.7 1888.7,2021.8 1889.9,2035.6 1890.1,2033.2 1891.5,2035.8 1892.2,2041.9 1893.6,2034.7 1894.2,2035.9 1895.6,2037.6 1896.7,2045.3 1898.0,2032.1 1899.3,2036.9 1900.7,2039.4 1902.4,2048.4 1903.8,2026.4 1905.3,2039.5 1906.9,2039.3 1908.4,2043.9 1910.0,2037.9 1911.6,2046.0 1913.0,2040.1 1914.4,2036.6 1915.8,2046.6 1917.1,2049.1 1918.3,2042.8 1919.6,2041.4 1921.0,2033.0 1922.0,2034.1 1923.5,2036.3 1924.6,2029.5 1926.1,2036.3 1926.8,2030.3 1928.1,2033.0 1929.5,2028.7 1930.0,2036.3 1931.2,2035.1 1932.6,2033.5 1934.0,2026.7 1935.3,2030.9 1936.6,2027.3 1937.0,2022.6 1938.4,2031.1 1940.0,2027.1 1940.5,2024.7 1941.9,2020.8 1943.4,2016.5 1944.3,2015.0 1945.5,2017.9 1946.6,2017.7 1948.2,2023.2 1949.2,2016.6 1950.1,2022.4 1951.5,2017.9 1952.6,2016.3 1953.3,2007.3 1954.5,2009.0 1956.2,2004.0 1957.3,2008.1 1958.2,2001.7 1959.4,2018.1 1960.6,2008.4 1961.4,2012.3 1962.9,1996.5 1964.1,1995.9 1965.3,2011.1 1966.5,2005.6 1967.0,2009.9 1968.9,1998.6 1969.9,2003.9 1971.0,2006.4 1971.8,1994.6 1973.3,1992.0 1974.8,2007.6 1975.5,1992.5 1976.4,2010.1 1977.9,1988.5 1979.5,1984.2 1979.8,1994.5 1981.2,1989.6 1982.3,1984.4 1983.7,1989.6 1985.5,1974.6 1986.2,1994.1 1987.0,1979.6 1988.2,1974.5 1988.4,1976.8 1987.3,1982.8 1987.7,1989.1 1988.3,1982.4 1987.3,1985.3 1987.7,1989.9 1987.9,1984.6 1987.9,1991.3 1987.0,1985.0 1987.2,1989.2 1986.4,1990.2 1985.6,1988.3 1985.3,2003.7 1985.1,1996.7 1985.8,1999.2 1985.7,1999.8 1985.1,2004.1 1984.7,2008.4 1985.0,2010.6 1983.8,2011.8 1983.6,2013.3 1983.4,2017.4 1983.9,2009.6 1981.3,2017.0 1981.6,2021.3 1981.7,2015.6 1981.5,2019.0 1979.7,2013.5 1980.5,2027.9 1980.7,2023.7 1980.1,2026.5 1979.1,2031.4 1979.6,2024.8 1978.1,2033.5 1977.9,2033.3 1976.5,2034.9 1976.4,2040.4 1975.2,2037.2 1975.0,2046.9 1974.4,2041.9 1972.9,2045.3 1972.9,2045.0 1971.4,2032.3 1971.1,2056.7 1969.2,2043.9 1969.1,2044.9 1968.9,2047.9 1967.5,2050.6 1967.3,2058.4 1965.5,2051.6 1965.4,2059.7 1964.6,2046.0 1964.0,2057.1 1963.0,2059.4 1961.5,2067.7 1961.3,2075.3 1960.4,2061.2 1959.8,2056.4 1958.3,2068.5 1957.1,2063.5 1956.7,2059.5 1955.7,2059.5 1955.3,2062.9 1953.8,2071.2 1953.3,2074.0 1952.4,2075.4 1951.0,2074.8 1950.3,2076.1 1949.5,2072.8 1948.2,2089.1 1947.6,2083.0 1946.3,2084.2 1945.5,2090.0 1944.0,2083.8 1943.4,2077.8 1942.5,2084.7 1941.2,2086.0 1940.4,2086.0 1939.4,2081.2 1938.3,2074.1 1936.9,2087.5 1936.2,2088.9 1935.2,2085.7 1934.3,2095.9 1933.1,2084.0 1932.3,2108.4 1931.1,2105.6 1929.7,2098.8 1928.9,2089.0 1927.9,2098.5 1926.5,2100.5 1925.3,2097.8 1924.3,2097.0 1923.0,2110.6 1922.2,2102.3 1920.9,2116.0 1919.3,2107.9 1918.8,2100.7 1917.8,2100.6 1916.5,2102.0 1915.5,2105.9 1914.7,2108.7 1913.3,2120.3 1912.1,2105.7 1910.6,2118.8 1909.7,2105.7 1908.6,2111.5 1907.6,2126.6 1906.4,2115.7 1905.2,2119.5 1904.2,2112.9 1902.7,2128.4 1902.1,2123.2 1900.5,2120.6 1899.1,2157.3 1898.0,2124.1 1897.2,2129.7 1895.6,2122.8 1894.7,2138.7 1893.6,2120.2 1892.2,2123.1 1891.1,2133.8 1889.7,2138.5 1889.0,2135.0 1887.9,2136.4 1886.1,2131.7 1885.4,2138.4 1884.3,2131.4 1883.1,2129.8 1882.0,2130.8 1880.5,2143.7 1879.7,2149.2 1878.1,2139.6 1876.6,2126.4 1876.3,2140.4 1874.5,2156.9 1873.5,2151.5 1872.6,2143.4 1871.2,2146.7 1870.1,2146.6 1869.0,2155.0 1867.8,2149.9 1866.7,2166.0 1865.3,2149.7 1863.9,2147.8 1863.0,2157.0 1861.2,2156.0 1860.1,2156.7 1858.8,2160.1 1857.9,2157.6 1856.7,2152.1 1855.6,2150.0 1854.2,2147.7 1852.9,2155.8 1851.7,2157.1 1850.3,2156.1 1849.0,2157.4 1847.7,2165.1 1846.4,2173.2 1844.9,2162.1 1843.6,2169.8 1842.3,2170.3 1840.7,2167.0 1839.5,2154.9 1838.1,2166.8 1836.9,2159.4 1835.3,2157.6 1833.9,2167.5 1832.5,2165.4 1831.1,2166.3 1829.6,2161.0 1828.4,2167.0 1826.9,2170.6 1825.4,2176.1 1824.0,2172.1 1822.6,2165.6 1821.2,2166.0 1819.8,2186.3 1818.3,2175.4 1817.0,2168.5 1815.7,2182.1 1814.1,2175.4 1812.9,2174.1 1811.5,2171.3 1810.0,2157.9 1808.5,2175.8 1807.2,2172.1 1805.9,2174.2 1804.6,2184.6 1803.1,2182.3 1801.7,2176.3 1800.2,2175.8 1798.9,2174.7 1797.7,2186.5 1796.2,2195.3 1794.8,2174.3 1793.4,2183.6 1791.8,2190.7 1790.5,2174.0 1789.0,2183.3 1787.7,2193.1 1786.3,2197.0 1784.8,2192.4 1783.5,2187.0 1782.2,2193.3 1780.8,2190.4 1779.4,2194.8 1777.9,2181.4 1776.6,2181.4 1775.2,2202.3 1773.8,2193.6 1772.4,2203.7 1770.9,2191.3 1769.6,2199.5 1768.3,2198.9 1766.8,2190.7 1765.5,2207.6 1764.0,2192.1 1762.8,2194.1 1761.3,2209.2 1759.9,2212.6 1758.5,2193.2 1757.1,2197.2 1755.9,2183.6 1754.2,2190.7 1753.0,2208.7 1751.6,2205.0 1750.1,2197.2 1748.7,2203.1 1747.3,2203.1 1746.0,2198.6 1744.4,2213.7 1743.1,2205.1 1741.6,2196.7 1740.2,2211.3 1738.7,2207.3 1737.3,2199.6 1735.9,2199.3 1734.5,2203.7 1733.0,2208.3 1731.5,2203.6 1730.2,2214.2 1728.6,2215.4 1727.2,2206.5 1725.9,2196.6 1724.4,2206.3 1722.9,2205.7 1721.5,2220.0 1720.1,2213.2 1718.6,2217.9 1717.1,2210.0 1715.7,2218.6 1714.2,2213.1 1712.9,2211.4 1711.4,2217.5 1709.9,2208.6 1708.6,2222.0 1707.0,2207.4 1705.5,2216.3 1704.2,2205.1 1702.8,2213.7 1701.3,2214.0 1699.9,2209.7 1698.4,2234.1 1697.0,2214.5 1695.5,2224.6 1694.1,2208.5 1692.7,2220.4 1691.3,2212.8 1689.8,2226.4 1688.4,2247.4 1687.0,2224.5 1685.5,2227.2 1684.1,2213.2 1682.7,2223.3 1681.1,2224.1 1679.8,2224.8 1678.3,2230.1 1676.9,2242.2 1675.4,2220.2 1674.0,2228.5 1672.5,2228.7 1671.2,2228.0 1669.7,2218.0 1668.3,2232.1 1666.9,2234.2 1665.5,2228.8 1664.0,2232.6 1662.5,2228.2 1661.1,2231.1 1659.6,2220.2 1658.3,2227.7 1656.7,2238.0 1655.3,2230.8 1653.8,2244.9 1652.4,2241.7 1651.0,2236.8 1649.6,2226.5 1648.1,2227.5 1646.7,2235.7 1645.2,2232.2 1643.8,2233.4 1642.3,2242.5 1640.9,2227.2 1639.5,2243.3 1638.1,2232.6 1636.6,2230.1 1635.1,2241.0 1633.7,2233.1 1632.2,2225.8 1630.9,2250.2 1629.3,2239.8 1627.9,2237.1 1626.4,2240.2 1625.0,2249.8 1623.6,2245.6 1622.1,2233.9 1620.7,2225.1 1619.3,2249.2 1617.7,2242.6 1616.4,2224.5 1615.0,2231.0 1613.6,2243.5 1612.2,2237.7 1610.8,2245.7 1609.5,2240.9 1608.0,2247.6 1606.7,2245.5 1605.2,2246.0 1603.8,2245.7 1602.5,2258.9 1601.1,2250.2 1599.7,2239.9 1598.3,2255.6 1596.7,2248.8 1595.6,2244.0 1594.3,2245.8 1593.0,2260.6 1591.8,2257.2 1590.5,2250.7 1589.3,2258.1 1588.2,2250.5 1586.9,2247.3 1585.8,2260.7 1584.2,2261.1 1583.3,2249.0 1582.1,2268.5 1581.6,2260.3 1580.0,2270.5 1579.0,2258.5 1578.5,2263.5 1577.1,2257.7 1575.9,2274.3 1575.4,2264.5 1574.2,2270.4 1573.0,2269.5 1571.8,2273.2 1570.3,2276.5 1569.6,2265.7 1568.8,2264.2 1567.7,2279.9 1566.6,2268.5 1565.7,2283.9 1564.9,2284.8 1563.6,2269.7 1562.9,2293.3 1561.7,2289.5 1560.9,2278.6 1559.4,2288.1 1558.8,2290.0 1557.8,2279.9 1556.5,2292.7 1555.7,2293.0 1554.9,2289.5 1553.8,2287.3 1553.1,2285.8 1551.7,2291.4 1551.1,2301.2 1550.4,2297.2 1548.9,2296.9 1549.1,2290.9 1547.8,2294.4 1546.2,2301.2 1545.7,2292.0 1545.0,2300.9 1544.2,2308.1 1543.4,2304.1 1542.4,2298.3 1540.8,2311.5 1541.6,2313.8 1539.7,2302.4 1539.8,2307.6 1538.7,2311.4 1536.7,2322.6 1536.9,2317.5 1537.1,2316.3 1535.8,2316.1 1534.6,2314.4 1534.4,2331.7 1532.8,2321.1 1532.4,2322.4 1531.7,2331.0 1531.3,2331.4 1530.4,2327.9 1529.3,2331.6 1528.8,2326.7 1528.7,2337.3 1527.4,2332.3 1526.7,2331.4 1526.0,2343.5 1525.9,2336.4 1524.5,2339.9 1523.8,2331.7 1522.3,2347.4 1521.6,2345.4 1521.0,2341.4 1520.5,2335.1 1519.6,2344.1 1519.5,2352.8 1517.5,2352.0 1517.2,2351.1 1516.5,2361.2 1516.5,2353.9 1514.6,2359.0 1514.3,2356.7 1513.0,2358.4 1512.1,2357.5 1511.6,2356.7 1510.8,2357.2 1509.4,2366.0 1509.4,2366.2 1508.3,2363.7 1507.8,2368.1 1507.5,2355.3 1506.7,2363.5 1505.5,2367.4 1504.8,2369.9 1504.2,2371.1 1503.9,2378.8 1503.5,2372.6 1503.0,2371.1 1501.6,2383.2 1500.6,2378.8 1500.2,2374.4 1499.6,2383.2 1499.5,2394.4 1498.3,2388.6 1498.2,2395.1 1497.0,2392.0 1498.0,2393.5 1496.6,2391.2 1495.8,2402.4 1495.0,2400.8 1494.4,2398.2 1494.3,2403.5 1493.4,2410.6 1492.7,2405.3 1492.0,2405.4 1491.3,2403.7 1491.3,2403.8 1490.7,2404.3 1490.1,2396.2 1489.6,2406.2 1488.9,2411.6 1488.4,2401.3 1487.5,2407.5 1487.0,2416.7 1486.4,2411.0 1486.0,2402.0 1485.2,2422.7 1485.1,2423.0 1484.6,2414.9 1483.5,2405.2 1482.4,2406.8 1482.3,2406.9 1482.3,2405.4 1481.1,2401.6 1481.6,2400.9 1479.5,2393.6 1479.3,2393.6 1478.9,2401.1 1478.4,2389.7 1477.1,2392.5 1477.2,2381.6 1476.0,2396.5 1476.0,2388.5 1474.6,2380.1 1474.5,2383.7 1473.1,2378.7 1472.2,2377.3 1471.9,2372.7 1471.4,2376.3 1470.3,2368.4 1469.7,2375.2 1468.5,2375.9 1468.3,2392.3 1467.6,2362.6 1466.3,2381.7 1465.0,2365.2 1464.0,2371.6 1463.5,2365.4 1462.5,2365.0 1461.2,2369.1 1460.2,2344.7 1459.0,2361.0 1457.7,2352.5 1457.0,2362.0 1455.8,2362.2 1454.4,2367.6 1453.2,2359.6 1452.1,2360.0 1450.5,2349.9 1449.3,2360.5 1448.0,2353.0 1446.3,2348.0 1445.0,2348.1 1443.6,2351.6 1442.1,2353.8 1440.7,2355.1 1439.3,2354.5 1437.9,2357.6 1436.5,2351.8 1435.1,2344.4 1433.6,2351.9 1432.2,2354.3 1430.7,2363.2 1429.2,2348.4 1427.8,2351.5 1426.3,2348.0 1424.8,2347.9 1423.3,2342.4 1421.8,2344.5 1420.3,2355.1 1418.7,2346.2 1417.2,2337.8 1415.7,2353.5 1414.2,2350.1 1412.6,2346.3 1411.1,2343.0 1409.6,2353.5 1408.1,2347.5 1406.6,2356.9 1405.1,2356.5 1403.6,2357.9 1402.1,2343.8 1400.6,2353.4 1399.1,2343.6 1397.6,2354.8 1396.1,2354.6 1394.6,2357.4 1393.1,2350.2 1391.6,2345.8 1390.1,2352.0 1388.6,2346.8 1387.1,2346.5 1385.6,2346.3 1384.1,2338.5 1382.6,2351.3 1381.1,2335.7 1379.6,2357.0 1378.1,2346.0 1376.6,2342.4 1375.1,2347.0 1373.6,2352.8 1372.1,2350.0 1370.6,2331.0 1369.1,2339.2 1367.6,2340.0 1366.1,2349.0 1364.6,2348.7 1363.1,2347.2 1361.6,2361.1 1360.1,2348.3 1358.6,2351.3 1357.1,2343.1 1355.6,2353.7 1354.1,2346.7 1352.6,2352.6 1351.2,2339.6 1349.6,2341.7 1348.2,2346.5 1346.7,2339.8 1345.2,2337.4 1343.7,2357.9 1342.2,2348.8 1340.7,2337.1 1339.2,2339.2 1337.7,2346.5 1336.2,2341.1 1334.7,2347.2 1333.2,2348.9 1331.7,2332.5 1330.2,2331.1 1328.8,2345.2 1327.3,2344.4 1325.8,2339.8 1324.3,2338.9 1322.8,2342.0 1321.3,2331.6 1319.8,2353.0 1318.3,2346.9 1316.8,2347.9 1315.3,2339.8 1313.8,2354.4 1312.3,2342.2 1310.8,2348.1 1309.3,2342.8 1307.8,2351.3 1306.4,2360.6 1304.9,2338.3 1303.4,2343.7 1301.9,2328.4 1300.4,2351.6 1298.9,2349.0 1297.4,2337.1 1295.9,2344.7 1294.4,2347.8 1293.0,2354.2 1291.5,2346.9 1290.0,2338.8 1288.5,2344.4 1287.1,2351.3 1285.5,2352.0 1284.1,2337.5 1282.6,2348.6 1281.1,2354.5 1279.7,2337.9 1278.1,2354.2 1276.6,2349.6 1275.2,2345.7 1273.7,2356.2 1272.2,2353.8 1270.7,2351.5 1269.2,2352.1 1267.7,2346.1 1266.2,2352.9 1264.7,2358.0 1263.3,2338.0 1261.8,2345.1 1260.3,2360.4 1258.8,2348.7 1257.3,2348.6 1255.8,2345.2 1254.3,2349.3 1252.8,2357.8 1251.3,2351.2 1249.8,2356.1 1248.3,2348.6 1246.8,2346.8 1245.3,2357.3 1243.8,2354.6 1242.3,2352.3 1240.8,2360.0 1239.3,2350.5 1237.7,2345.4 1236.1,2355.4 1234.4,2348.2 1232.8,2354.5 1231.1,2346.8 1229.4,2364.6 1227.7,2359.5 1226.1,2359.2 1224.4,2357.5 1222.8,2355.0 1221.2,2349.2 1219.6,2358.5 1218.1,2361.4 1216.6,2367.9 1215.1,2353.0 1213.8,2370.4 1212.4,2346.9 1211.2,2349.9 1210.0,2364.6 1208.9,2354.7 1207.9,2360.1 1207.2,2352.8 1205.9,2358.1 1205.1,2361.2 1204.2,2361.8 1203.9,2358.4 1202.8,2368.1 1203.7,2365.3 1202.1,2366.4 1201.8,2370.9 1200.9,2370.7 1201.0,2368.2 1200.9,2372.2 1199.7,2372.6 1200.4,2375.1 1200.1,2378.3 1200.2,2380.8 1198.8,2382.9 1199.4,2383.7 1199.2,2385.4 1198.8,2382.6 1198.9,2389.7 1198.3,2385.8 1198.3,2392.7 1197.5,2391.8 1198.4,2387.8 1198.5,2398.7 1198.7,2395.8 1197.6,2393.5 1196.7,2398.6 1197.7,2397.0 1197.7,2407.6 1197.1,2405.8 1196.8,2405.7 1196.8,2405.0 1197.7,2409.5 1196.8,2411.6 1196.1,2409.7 1196.5,2409.1 1195.3,2414.5 1196.2,2409.3 1194.8,2412.0 1194.9,2417.4 1195.9,2421.0 1194.7,2427.0 1195.5,2415.0 1195.3,2421.9 1194.7,2421.1 1193.8,2430.2 1194.6,2426.8 1193.9,2430.8 1194.5,2433.6 1193.5,2430.2 1193.9,2438.7 1193.8,2442.2 1193.6,2437.7 1193.1,2442.9 1194.2,2444.4 1194.1,2445.0 1193.5,2443.4 1194.2,2447.8 1192.8,2448.5 1192.1,2446.7 1192.9,2454.2 1192.1,2450.1 1192.2,2462.4 1193.5,2454.8 1192.2,2448.7 1191.7,2455.2 1191.8,2460.8 1192.3,2463.2 1192.7,2466.4 1191.6,2463.5 1191.7,2463.8 1191.1,2465.6 1193.5,2467.4 1190.7,2475.9 1191.5,2476.6 1191.0,2472.2 1189.9,2477.3 1190.3,2474.8 1190.0,2478.0 1190.0,2484.4 1191.3,2486.2 1189.5,2479.7 1190.4,2481.1 1189.6,2485.3 1189.3,2487.1 1188.3,2488.8 1189.3,2493.2 1189.8,2487.4 1189.1,2490.6 1189.1,2489.4 1188.3,2498.3 1187.8,2490.0 1188.8,2498.6 1187.7,2495.0 1187.8,2499.7 1188.4,2502.3 1187.4,2500.5 1186.8,2502.7 1187.0,2512.8 1187.6,2508.4 1185.7,2510.9 1186.4,2514.6 1186.9,2511.1 1185.9,2516.1 1186.7,2517.0 1185.2,2521.2 1186.3,2521.8 1185.7,2520.8 1185.2,2521.4 1185.2,2525.2 1185.2,2526.3 1184.4,2527.6 1185.1,2527.4 1184.6,2527.0 1184.4,2536.6 1183.9,2534.3 1184.7,2533.2 1184.4,2543.0 1183.4,2535.5 1183.7,2543.2 1184.3,2544.6 1183.1,2533.6 1183.1,2544.3 1183.3,2537.7 1182.2,2555.3 1182.5,2545.6 1182.4,2551.2 1182.2,2549.1 1182.0,2557.8 1183.5,2554.6 1182.2,2561.2 1181.7,2555.7 1182.4,2555.5 1181.3,2564.6 1181.1,2560.5 1181.2,2558.8 1180.1,2565.2 1181.1,2568.9 1180.0,2566.9 1180.7,2567.4 1180.5,2570.6 1180.2,2570.5 1180.1,2573.2 1180.7,2574.5 1179.1,2575.6 1179.6,2578.4 1179.3,2579.4 1178.9,2581.3 1178.5,2581.5 1178.5,2582.2 1178.6,2589.3 1178.9,2588.5 1177.1,2587.4 1178.2,2588.7 1178.2,2597.3 1177.9,2593.4 1177.4,2590.9 1177.1,2596.1 1177.6,2600.5 1177.0,2592.3 1175.9,2603.4 1174.9,2604.0 1175.5,2601.2 1175.7,2603.6 1174.9,2606.0 1175.4,2600.4 1174.1,2608.5 1174.3,2613.8 1172.8,2612.1 1171.9,2612.3 1171.3,2615.2 1170.5,2610.8 1169.7,2608.1 1168.5,2620.4 1167.5,2616.5 1166.6,2619.6 1165.6,2608.9 1164.4,2603.1 1164.4,2604.1 1163.2,2602.4 1163.1,2612.8 1161.8,2607.7 1162.1,2596.3 1162.3,2601.6 1161.7,2603.5 1160.8,2594.1 1160.6,2595.0 1160.4,2596.0 1160.5,2594.8 1160.0,2590.3 1159.5,2591.5 1158.9,2587.0 1157.9,2586.7 1157.4,2586.0 1157.8,2586.7 1157.3,2586.5 1157.4,2579.3 1155.5,2575.6 1154.8,2576.5 1154.4,2579.9 1155.1,2579.9 1154.1,2569.3 1152.8,2576.9 1153.4,2569.0 1153.2,2566.4 1151.2,2571.1 1152.0,2569.7 1151.9,2570.1 1150.1,2573.0 1151.2,2559.7 1150.2,2567.3 1149.5,2558.5 1148.5,2558.6 1148.5,2561.6 1146.8,2562.6 1147.4,2560.1 1146.5,2557.3 1145.6,2551.9 1145.2,2549.7 1144.3,2543.4 1143.4,2549.7 1143.7,2540.2 1142.9,2544.5 1141.8,2550.6 1141.7,2542.9 1140.0,2540.2 1140.5,2541.0 1139.8,2538.0 1138.6,2529.0 1138.7,2534.3 1138.5,2527.4 1137.8,2533.8 1136.9,2529.7 1137.1,2524.7 1135.9,2525.9 1134.5,2517.7 1135.2,2524.9 1134.3,2522.8 1134.2,2524.1 1133.0,2516.5 1132.8,2520.3 1131.5,2527.0 1131.9,2515.7 1130.8,2513.6 1130.9,2515.1 1129.8,2516.0 1128.7,2511.1 1128.5,2519.9 1127.8,2512.5 1127.6,2506.0 1126.9,2509.3 1126.9,2507.8 1125.7,2502.5 1125.5,2504.7 1124.5,2497.9 1123.2,2503.4 1122.9,2488.6 1122.9,2497.4 1121.1,2496.3 1120.9,2487.7 1120.3,2486.7 1119.7,2485.8 1119.3,2496.6 1118.1,2493.9 1117.6,2483.5 1116.4,2489.8 1116.3,2485.4 1114.9,2481.9 1114.7,2478.0 1113.3,2479.3 1112.7,2479.9 1111.4,2475.2 1111.1,2485.7 1110.8,2478.1 1109.2,2470.6 1108.8,2481.7 1108.1,2466.2 1107.7,2466.0 1106.6,2459.5 1104.6,2468.1 1104.6,2473.2 1103.6,2459.8 1103.1,2463.0 1101.7,2459.8 1101.1,2462.3 1099.9,2458.0 1098.8,2453.7 1098.2,2454.6 1097.0,2452.0 1097.3,2461.7 1095.1,2458.3 1094.6,2448.8 1093.3,2457.3 1092.0,2445.1 1090.8,2447.6 1090.0,2443.6 1088.8,2449.9 1088.3,2448.7 1087.4,2441.3 1086.1,2445.2 1084.8,2444.6 1083.6,2452.0 1082.8,2436.0 1081.3,2442.6 1080.0,2452.4 1079.1,2450.6 1077.7,2431.2 1076.5,2430.6 1075.7,2440.4 1074.3,2426.7 1073.0,2428.0 1071.8,2430.7 1070.4,2437.3 1069.1,2423.2 1067.7,2432.3 1066.3,2428.8 1065.2,2446.2 1063.8,2433.9 1062.4,2424.9 1060.9,2438.6 1059.7,2420.9 1058.2,2424.0 1056.8,2435.2 1055.3,2431.0 1053.9,2431.0 1052.5,2419.9 1050.9,2414.3 1049.6,2428.7 1048.0,2421.5 1046.6,2429.8 1045.1,2422.0 1043.6,2426.4 1042.1,2422.0 1040.6,2420.6 1039.1,2431.6 1037.6,2419.3 1036.1,2435.4 1034.6,2429.7 1033.1,2413.1 1031.7,2413.6 1030.2,2415.8 1028.7,2417.8 1027.2,2411.2 1025.7,2436.8 1024.2,2414.1 1022.7,2435.8 1021.2,2437.7 1019.7,2428.9 1018.2,2423.9 1016.6,2420.1 1015.1,2430.8 1013.6,2433.0 1012.1,2433.9 1010.6,2434.4 1009.1,2426.5 1007.6,2428.2 1006.1,2418.5 1004.6,2418.1 1003.1,2411.5 1001.6,2425.1 1000.1,2406.7 998.6,2422.3 997.1,2426.1 995.6,2423.7 994.1,2426.4 992.6,2418.5 991.1,2422.2 989.6,2424.1 988.1,2417.6 986.6,2438.8 985.1,2414.4 983.6,2421.9 982.1,2421.6 980.7,2429.3 979.2,2421.4 977.7,2421.0 976.2,2427.7 974.7,2413.8 973.2,2440.0 971.7,2428.2 970.2,2416.2 968.7,2424.4 967.2,2422.1 965.7,2425.6 964.2,2429.9 962.7,2431.2 961.2,2411.8 959.8,2430.5 958.3,2424.5 956.8,2416.8 955.3,2432.5 953.8,2428.0 952.3,2421.1 950.8,2430.6 949.3,2430.6 947.8,2412.9 946.3,2432.1 944.8,2421.9 943.3,2431.5 941.9,2428.9 940.4,2431.2 938.9,2440.0 937.4,2428.3 935.9,2427.0 934.4,2421.7 932.9,2434.0 931.4,2435.0 929.9,2430.0 928.4,2416.6 926.9,2436.3 925.4,2430.0 923.9,2425.1 922.4,2426.9 920.9,2430.7 919.4,2431.0 917.9,2435.4 916.4,2435.3 914.9,2429.2 913.4,2433.6 911.9,2442.6 910.4,2430.5 908.9,2422.1 907.4,2445.3 905.9,2423.2 904.4,2422.6 903.0,2421.8 901.5,2433.2 900.0,2445.2 898.5,2437.4 897.1,2435.4 895.6,2432.9 894.2,2434.0 892.7,2431.4 891.3,2451.3 889.9,2442.2 888.4,2436.0 887.1,2436.5 885.5,2436.4 884.1,2435.0 882.7,2434.6 881.4,2444.6 879.9,2435.9 878.6,2438.5 877.0,2445.0 875.6,2457.0 874.2,2436.5 872.7,2433.2 871.4,2443.7 869.9,2437.7 868.5,2448.8 867.0,2445.5 865.6,2451.6 864.1,2439.7 862.6,2437.0 861.2,2444.7 859.7,2445.2 858.2,2445.8 856.7,2445.8 855.2,2459.8 853.7,2441.4 852.2,2447.2 850.7,2442.9 849.2,2445.4 847.7,2446.2 846.2,2440.5 844.7,2440.1 843.2,2452.4 841.7,2443.1 840.1,2437.6 838.6,2430.1 837.1,2437.3 835.6,2429.8 834.1,2448.3 832.6,2443.0 831.1,2451.0 829.6,2442.6 828.1,2448.7 826.6,2444.5 825.1,2441.4 823.6,2436.2 822.1,2439.5 820.6,2441.9 819.1,2443.4 817.6,2440.6 816.2,2451.3 814.7,2442.7 813.2,2439.8 811.7,2438.5 810.2,2449.7 808.7,2447.8 807.2,2442.2 805.7,2434.8 804.2,2435.5 802.7,2442.1 801.2,2443.0 799.8,2438.3 798.3,2444.3 796.8,2443.0 795.3,2437.6 793.8,2434.6 792.3,2436.1 790.8,2446.0 789.3,2453.0 787.8,2434.1 786.3,2432.2 784.8,2433.3 783.3,2448.2 781.8,2442.9 780.3,2452.9 778.8,2424.2 777.3,2431.3 775.8,2445.7 774.3,2428.0 772.8,2441.5 771.3,2440.5 769.8,2433.0 768.3,2440.1 766.8,2434.2 765.3,2436.4 763.9,2437.5 762.4,2435.5 760.9,2453.5 759.4,2440.1 758.0,2443.3 756.5,2433.4 755.1,2439.9 753.7,2433.7 752.2,2431.5 750.9,2430.2 749.4,2439.5 747.9,2437.3 746.7,2424.4 745.1,2428.3 743.7,2428.1 742.4,2429.7 740.9,2441.4 739.5,2435.5 738.0,2427.7 736.6,2425.0 735.2,2423.4 733.7,2434.5 732.2,2417.9 730.9,2413.6 729.4,2449.3 728.0,2437.3 726.5,2429.1 725.0,2431.1 723.6,2414.8 722.1,2405.2 720.6,2422.6 719.1,2428.3 717.6,2428.2 716.2,2429.5 714.7,2422.0 713.2,2423.9 711.7,2430.3 710.2,2437.5 708.7,2428.7 707.2,2429.3 705.7,2428.7 704.2,2414.1 702.7,2423.7 701.2,2413.9 699.7,2413.2 698.2,2411.7 696.7,2428.2 695.2,2419.9 693.7,2430.3 692.2,2425.2 690.7,2416.0 689.2,2411.5 687.8,2424.3 686.3,2434.2 684.8,2415.7 683.3,2409.1 681.8,2434.4 680.3,2425.7 678.8,2430.5 677.3,2426.3 675.8,2402.5 674.3,2420.2 672.8,2409.5 671.3,2416.5 669.8,2403.3 668.3,2412.8 666.8,2419.7 665.4,2407.9 663.9,2423.6 662.4,2418.2 660.9,2412.2 659.4,2416.7 657.9,2413.2 656.4,2410.6 654.9,2415.8 653.4,2416.0 651.9,2417.9 650.4,2424.4 648.9,2421.0 647.4,2423.5 645.9,2423.3 644.4,2419.9 642.9,2420.4 641.4,2434.7 639.9,2419.5 638.4,2425.3 637.0,2424.2 635.5,2412.3 634.0,2427.9 632.5,2416.5 631.0,2418.9 629.5,2417.8 628.0,2415.8 626.5,2422.4 625.0,2423.9 623.6,2417.1 622.1,2417.9 620.6,2421.0 619.1,2413.0 617.6,2422.7 616.1,2420.5 614.7,2418.3 613.2,2433.6 611.7,2432.5 610.2,2434.0 608.7,2422.9 607.2,2432.7 605.7,2423.6 604.3,2431.6 602.8,2429.3 601.4,2424.1 599.9,2431.3 598.4,2423.6 597.0,2424.4 595.5,2427.1 594.0,2425.9 592.6,2422.0 591.1,2436.9 589.8,2424.1 588.2,2424.6 586.9,2434.1 585.4,2427.7 584.0,2421.8 582.6,2431.2 581.4,2428.7 579.8,2439.8 578.4,2430.8" fill="none" stroke="#000" stroke-width="8.5" stroke-linejoin="round" stroke-linecap="round"/>
<polyline points="575.9,2474.2 575.4,2468.0 574.8,2475.2 574.9,2469.2 575.1,2466.8 575.5,2463.5 576.1,2468.6 575.3,2460.2 575.4,2464.6 575.4,2459.0 574.3,2459.5 574.7,2457.1 575.6,2458.4 575.4,2457.5 574.8,2449.8 575.8,2455.5 574.9,2453.0 574.4,2452.6 575.0,2452.6 575.8,2440.9 576.1,2450.8 575.5,2437.5 576.7,2439.2 575.1,2441.1 576.2,2442.0 576.5,2439.1 576.9,2436.7 575.4,2435.9 576.3,2428.8 576.6,2431.1 577.0,2438.0 576.6,2419.5 577.3,2425.7 576.0,2424.7 576.6,2420.5 577.4,2421.6 577.3,2420.9 577.2,2418.2 576.4,2424.6 577.3,2412.2 577.3,2416.7 578.8,2410.8 577.6,2407.6 578.3,2417.6 578.8,2406.6 578.4,2405.4 578.5,2398.6 580.1,2405.6 579.6,2398.8 580.0,2398.6 580.8,2402.5 581.1,2400.3 580.4,2394.1 581.0,2397.4 580.7,2395.5 582.5,2391.9 581.8,2387.5 582.1,2391.4 582.4,2382.2 582.9,2388.3 583.5,2385.3 583.8,2378.9 584.7,2378.1 585.4,2391.3 585.9,2371.1 585.5,2378.5 586.9,2375.4 588.5,2377.4 587.9,2375.4 588.9,2376.6 589.0,2380.3 589.7,2369.7 590.6,2362.1 590.8,2365.7 592.0,2368.0 592.6,2366.6 593.1,2368.2 594.0,2360.8 594.2,2354.7 595.5,2356.3 595.7,2358.9 596.1,2361.0 597.9,2359.9 597.8,2357.6 598.2,2346.2 599.9,2349.1 600.3,2352.8 600.8,2350.5 602.1,2352.1 603.0,2339.7 603.4,2348.4 604.6,2328.8 605.2,2339.9 606.9,2341.8 607.8,2338.3 608.5,2343.9 609.6,2336.7 610.1,2336.8 611.5,2339.4 612.0,2329.4 612.9,2341.7 614.2,2328.4 615.2,2334.4 616.3,2331.1 617.1,2326.3 618.0,2328.2 619.4,2328.3 620.1,2322.7 620.8,2337.0 621.5,2317.2 623.3,2322.0 624.4,2327.6 624.9,2322.8 626.1,2325.1 627.7,2308.6 628.4,2315.2 629.5,2315.8 630.3,2322.0 631.6,2308.5 632.3,2312.1 633.7,2322.7 634.5,2312.7 636.2,2312.0 637.4,2307.9 638.3,2314.6 639.1,2294.8 640.4,2300.3 641.8,2300.8 642.8,2304.2 643.8,2302.4 644.6,2288.2 646.0,2301.2 647.2,2294.2 648.5,2316.5 649.6,2296.0 650.7,2303.5 652.0,2292.4 653.3,2293.4 654.6,2288.7 655.9,2298.6 656.9,2300.8 657.8,2283.3 659.3,2293.8 660.4,2294.7 661.7,2297.7 663.0,2284.9 663.8,2297.3 665.6,2279.2 667.0,2287.7 668.1,2282.4 669.4,2282.9 670.6,2291.1 671.9,2286.7 673.0,2301.5 674.5,2281.1 675.5,2276.0 677.0,2287.9 678.4,2281.0 679.5,2275.7 681.1,2286.5 682.2,2286.7 683.2,2266.6 684.7,2273.1 686.2,2282.8 687.7,2269.1 688.9,2284.7 689.8,2271.9 691.2,2274.8 692.8,2272.5 694.1,2263.3 695.1,2268.8 696.6,2264.5 698.1,2265.7 699.4,2275.1 700.6,2271.7 702.2,2265.0 703.5,2267.8 704.8,2275.6 706.2,2264.5 707.6,2261.4 709.0,2268.5 710.4,2259.2 711.7,2254.1 713.1,2274.7 714.5,2253.8 715.9,2262.0 717.3,2263.4 718.7,2257.7 720.2,2272.3 721.6,2272.2 723.0,2261.4 724.5,2247.5 725.8,2260.2 727.3,2245.1 728.8,2260.5 730.2,2262.1 731.6,2258.0 733.1,2264.1 734.6,2256.3 736.0,2248.2 737.5,2251.0 739.0,2261.3 740.5,2238.1 741.9,2254.4 743.3,2243.3 744.7,2267.6 746.3,2240.7 747.7,2234.9 749.1,2256.8 750.7,2256.1 752.1,2244.4 753.6,2247.9 755.0,2239.2 756.5,2247.0 758.0,2253.9 759.5,2249.8 760.9,2247.1 762.4,2243.2 763.9,2255.1 765.4,2260.0 766.9,2257.4 768.4,2238.1 769.9,2248.6 771.3,2241.4 772.8,2244.6 774.4,2249.8 775.8,2265.7 777.3,2248.9 778.8,2246.6 780.3,2242.8 781.8,2250.4 783.3,2234.6 784.8,2250.9 786.3,2252.0 787.8,2239.0 789.3,2256.7 790.7,2261.3 792.2,2239.6 793.7,2250.5 795.2,2241.3 796.7,2239.7 798.2,2250.2 799.7,2246.6 801.2,2234.9 802.7,2233.1 804.2,2245.1 805.6,2233.4 807.1,2234.2 808.6,2241.3 810.1,2239.5 811.6,2245.5 813.1,2256.7 814.6,2233.6 816.1,2252.8 817.6,2232.5 819.1,2242.4 820.6,2249.4 822.1,2258.6 823.5,2229.7 825.0,2253.5 826.5,2240.7 828.0,2242.3 829.5,2245.0 831.0,2254.4 832.5,2258.0 834.0,2243.6 835.5,2236.3 837.0,2234.9 838.5,2224.6 840.0,2228.9 841.5,2247.3 843.0,2227.4 844.5,2230.6 845.9,2235.1 847.4,2234.0 848.9,2232.6 850.4,2231.5 851.9,2234.3 853.4,2248.7 854.9,2243.3 856.4,2239.1 857.9,2233.0 859.4,2238.8 860.9,2239.7 862.4,2231.5 863.9,2229.4 865.4,2239.1 866.8,2231.9 868.3,2231.4 869.8,2236.5 871.3,2236.0 872.8,2229.3 874.3,2247.5 875.8,2238.2 877.3,2234.6 878.8,2240.8 880.3,2245.3 881.8,2235.5 883.3,2217.1 884.8,2226.4 886.2,2234.4 887.7,2235.7 889.2,2244.5 890.7,2238.0 892.2,2232.3 893.7,2240.0 895.2,2229.6 896.7,2240.8 898.2,2222.7 899.7,2244.5 901.2,2232.3 902.7,2239.3 904.1,2231.5 905.6,2223.1 907.2,2231.3 908.6,2232.9 910.1,2234.2 911.6,2233.2 913.1,2235.1 914.6,2228.1 916.1,2220.0 917.6,2228.6 919.1,2221.8 920.6,2230.0 922.1,2229.2 923.6,2231.5 925.0,2227.2 926.5,2235.2 928.0,2234.8 929.5,2235.4 931.0,2233.1 932.5,2262.7 934.0,2236.7 935.5,2230.7 937.0,2214.5 938.5,2225.3 940.0,2240.8 941.5,2214.3 943.0,2230.1 944.5,2225.0 945.9,2239.4 947.4,2231.7 948.9,2226.9 950.4,2228.7 951.9,2216.8 953.4,2242.3 954.9,2233.2 956.4,2221.7 957.9,2223.9 959.4,2231.7 960.9,2222.8 962.4,2221.6 963.9,2233.3 965.3,2226.3 966.8,2229.9 968.3,2233.4 969.8,2221.1 971.3,2237.6 972.8,2233.1 974.3,2219.2 975.8,2217.3 977.3,2227.0 978.8,2228.2 980.3,2220.8 981.8,2223.9 983.3,2224.0 984.8,2223.0 986.3,2228.0 987.8,2235.9 989.2,2238.3 990.7,2219.5 992.2,2224.6 993.7,2220.7 995.2,2224.2 996.7,2221.8 998.2,2233.9 999.7,2231.0 1001.2,2220.3 1002.7,2233.6 1004.2,2219.4 1005.7,2225.0 1007.2,2228.0 1008.7,2221.4 1010.2,2218.6 1011.7,2226.0 1013.2,2229.2 1014.7,2222.6 1016.2,2235.8 1017.7,2228.4 1019.2,2219.7 1020.7,2228.4 1022.2,2221.1 1023.7,2226.4 1025.2,2227.8 1026.7,2226.7 1028.2,2233.9 1029.7,2224.4 1031.2,2226.4 1032.7,2220.8 1034.2,2212.4 1035.7,2218.7 1037.2,2223.4 1038.7,2204.7 1040.2,2224.5 1041.7,2225.0 1043.2,2229.8 1044.7,2224.7 1046.2,2229.6 1047.7,2221.9 1049.1,2218.8 1050.6,2225.4 1052.1,2214.4 1053.6,2230.7 1055.1,2213.4 1056.6,2231.3 1058.1,2217.3 1059.6,2217.7 1061.1,2213.6 1062.6,2219.3 1064.1,2221.5 1065.6,2210.3 1067.1,2208.4 1068.6,2220.1 1070.1,2210.0 1071.6,2224.4 1073.1,2228.0 1074.6,2216.1 1076.1,2241.8 1077.6,2219.4 1079.1,2212.0 1080.6,2232.2 1082.1,2222.4 1083.6,2215.4 1085.1,2218.5 1086.5,2228.4 1088.0,2229.8 1089.5,2218.3 1091.0,2211.0 1092.5,2214.4 1094.0,2222.8 1095.5,2218.2 1097.0,2220.1 1098.5,2220.0 1100.0,2228.3 1101.5,2214.9 1103.0,2216.2 1104.4,2202.3 1106.0,2215.7 1107.4,2204.4 1108.9,2211.0 1110.4,2216.7 1111.9,2211.8 1113.4,2215.0 1114.9,2200.1 1116.4,2212.6 1117.9,2216.5 1119.4,2215.2 1120.9,2217.8 1122.4,2209.9 1123.8,2219.3 1125.3,2210.6 1126.8,2212.4 1128.3,2221.0 1129.8,2223.9 1131.3,2219.7 1132.8,2206.1 1134.3,2211.3 1135.8,2210.1 1137.3,2213.9 1138.8,2224.2 1140.3,2220.9 1141.7,2204.6 1143.2,2215.1 1144.7,2214.4 1146.2,2207.9 1147.7,2209.6 1149.2,2220.2 1150.7,2211.0 1152.2,2210.8 1153.7,2208.6 1155.2,2188.3 1156.7,2212.3 1158.2,2217.7 1159.7,2225.3 1161.2,2227.4 1162.7,2204.3 1164.1,2210.8 1165.6,2207.1 1167.1,2212.7 1168.6,2203.2 1170.1,2212.3 1171.6,2214.7 1173.1,2214.4 1174.6,2212.7 1176.1,2216.8 1177.6,2208.1 1179.1,2206.5 1180.6,2208.9 1182.1,2207.1 1183.6,2211.6 1185.1,2216.1 1186.5,2207.9 1188.0,2196.7 1189.5,2196.9 1191.0,2211.1 1192.5,2212.1 1194.0,2211.5 1195.5,2189.6 1197.0,2212.9 1198.5,2226.3 1200.0,2207.1 1201.5,2205.5 1202.9,2214.6 1204.4,2201.7 1205.9,2199.3 1207.4,2214.6 1208.9,2199.7 1210.4,2210.7 1211.9,2202.1 1213.4,2203.5 1214.8,2199.2 1216.3,2208.7 1217.8,2204.6 1219.3,2203.8 1220.8,2201.6 1222.3,2200.5 1223.8,2211.8 1225.2,2209.7 1226.8,2210.5 1228.2,2195.6 1229.7,2206.3 1231.2,2191.6 1232.7,2213.7 1234.2,2215.1 1235.6,2212.2 1237.1,2205.7 1238.6,2206.0 1240.1,2200.7 1241.6,2196.0 1243.1,2207.5 1244.5,2208.3 1246.0,2198.0 1247.5,2191.0 1249.0,2196.6 1250.5,2197.2 1252.0,2195.0 1253.5,2186.7 1254.9,2188.9 1256.4,2199.1 1257.9,2211.5 1259.4,2188.4 1260.9,2199.2 1262.3,2195.6 1263.8,2199.9 1265.3,2197.9 1266.8,2204.9 1268.3,2197.3 1269.7,2192.1 1271.2,2197.9 1272.7,2197.0 1274.2,2201.9 1275.7,2199.8 1277.2,2199.7 1278.7,2195.6 1280.1,2194.0 1281.6,2193.1 1283.1,2196.1 1284.6,2202.9 1286.1,2204.7 1287.6,2190.0 1289.1,2192.6 1290.6,2193.6 1292.1,2206.2 1293.6,2187.5 1295.1,2193.8 1296.5,2176.9 1298.0,2195.3 1299.5,2186.2 1301.0,2192.3 1302.5,2198.5 1304.0,2182.5 1305.5,2175.7 1306.9,2194.2 1308.4,2186.8 1309.9,2194.5 1311.4,2200.9 1312.9,2183.5 1314.3,2181.0 1315.8,2183.7 1317.2,2177.4 1318.6,2183.5 1320.2,2196.2 1321.6,2182.8 1323.0,2177.7 1324.4,2190.5 1325.8,2191.0 1327.3,2172.5 1328.8,2187.2 1330.2,2182.6 1331.7,2188.5 1333.0,2179.8 1334.5,2181.8 1336.0,2176.6 1337.4,2199.2 1338.8,2187.4 1340.2,2188.3 1341.7,2187.7 1343.1,2183.1 1344.5,2190.8 1345.8,2185.1 1347.3,2198.7 1348.7,2186.4 1350.1,2190.8 1351.6,2170.1 1353.0,2174.9 1354.4,2175.0 1355.7,2167.4 1357.3,2173.2 1358.4,2172.9 1359.9,2167.9 1361.3,2180.6 1362.7,2170.5 1363.9,2174.7 1365.3,2162.9 1366.8,2171.1 1368.1,2166.8 1369.5,2166.3 1370.8,2178.0 1372.1,2173.0 1373.5,2162.6 1375.0,2162.7 1376.3,2173.7 1377.6,2162.5 1379.0,2165.7 1380.4,2175.8 1381.7,2174.3 1383.2,2165.3 1384.4,2164.2 1385.7,2174.2 1387.0,2161.8 1388.3,2162.6 1389.6,2170.0 1391.0,2163.7 1392.4,2162.0 1393.8,2158.4 1394.9,2165.1 1396.4,2155.0 1397.7,2160.7 1398.9,2149.3 1400.1,2153.7 1401.6,2157.2 1402.8,2150.3 1404.3,2155.4 1405.6,2153.6 1407.1,2149.0 1408.2,2155.8 1409.5,2152.5 1410.7,2147.2 1412.1,2150.3 1413.4,2154.3 1414.5,2141.1 1416.1,2138.8 1417.4,2152.1 1418.7,2138.8 1419.9,2140.7 1421.4,2128.9 1422.6,2140.9 1423.9,2143.4 1425.2,2131.6 1426.3,2142.6 1427.6,2131.0 1429.1,2135.9 1430.0,2145.5 1431.5,2147.5 1432.9,2135.4 1434.1,2143.8 1435.2,2130.4 1436.4,2139.9 1437.6,2122.7 1438.8,2135.2 1440.2,2129.6 1441.5,2123.8 1442.5,2128.2 1444.1,2126.5 1445.2,2126.9 1446.7,2131.2 1447.7,2121.1 1448.7,2120.4 1450.3,2124.0 1451.4,2119.8 1452.4,2122.0 1453.5,2113.6 1455.0,2125.5 1456.1,2113.4 1457.5,2124.3 1458.1,2123.0 1459.7,2112.3 1460.7,2120.0 1461.8,2123.4 1463.1,2112.4 1464.1,2115.6 1465.5,2106.4 1466.0,2117.5 1467.6,2111.3 1468.6,2118.5 1469.7,2113.7 1470.3,2107.0 1472.0,2100.8 1472.4,2110.1 1473.7,2110.5 1474.9,2101.0 1475.7,2107.2 1476.3,2103.1 1477.7,2098.0 1478.5,2094.1 1479.2,2096.7 1480.7,2101.4 1481.9,2089.6 1482.4,2092.9 1483.7,2091.8 1484.4,2087.3 1485.3,2084.8 1485.7,2090.8 1487.3,2092.9 1488.1,2084.8 1488.2,2079.0 1489.7,2083.7 1490.1,2080.6 1490.8,2082.1 1492.1,2074.3 1493.3,2081.9 1493.5,2074.5 1493.7,2080.6 1495.1,2073.9 1495.1,2070.6 1495.7,2070.4 1496.3,2072.5 1497.7,2071.0 1498.1,2071.7 1498.6,2060.4 1499.3,2061.8 1499.7,2062.4 1499.7,2053.0 1500.8,2058.9 1501.3,2061.2 1501.1,2055.1 1501.5,2056.3 1502.3,2052.7 1503.0,2053.4 1504.3,2048.0 1503.9,2054.9 1505.0,2052.8 1505.3,2049.0 1505.6,2053.7 1506.2,2047.1 1506.3,2043.3 1507.1,2034.7 1506.6,2037.1 1507.5,2042.0 1508.0,2043.9 1507.9,2034.7 1508.2,2038.3 1509.4,2031.1 1509.2,2031.2 1509.7,2028.5 1509.7,2028.0 1510.2,2026.1 1510.6,2027.5 1510.7,2020.6 1511.2,2029.3 1511.6,2024.4 1511.9,2013.7 1511.6,2013.7 1511.9,2025.5 1511.3,2012.3 1512.6,2016.6 1513.0,2009.5 1513.4,2022.7 1513.3,2004.5 1512.9,2014.8 1513.1,2008.8 1513.4,2004.4 1514.3,2003.1 1514.9,1999.4 1514.4,1993.7 1516.0,2001.8 1515.5,2005.4 1515.7,1995.9 1516.7,1997.2 1515.6,1997.3 1515.1,1987.3 1515.8,1989.3 1516.5,1983.9 1517.3,1990.4 1517.2,1982.9 1517.4,1990.4 1517.8,1987.0 1518.3,1978.9 1518.5,1982.3 1518.2,1980.0 1519.1,1975.6 1519.6,1975.7 1519.8,1975.1 1519.6,1966.8 1519.8,1976.0 1519.9,1968.1 1520.0,1966.0 1521.5,1969.6 1520.6,1962.4 1520.1,1970.1 1519.9,1966.9 1521.4,1961.6 1521.8,1965.0 1520.3,1964.0 1521.9,1955.7 1522.3,1949.2 1521.1,1948.7 1520.6,1950.3 1522.5,1954.0 1521.5,1951.9 1521.3,1948.1 1523.4,1953.9 1522.8,1944.7 1522.6,1946.3 1522.5,1938.5 1522.3,1938.7 1522.5,1939.6 1522.3,1944.7 1522.4,1928.4 1524.8,1939.4 1523.0,1929.6 1523.7,1935.4 1523.5,1929.7 1523.0,1924.0 1523.8,1924.3 1524.1,1933.0 1524.3,1923.8 1525.0,1921.2 1525.9,1916.1 1524.5,1916.0 1524.6,1922.7 1524.4,1922.1 1525.3,1922.2 1523.9,1915.5 1524.5,1910.7 1525.9,1906.8 1524.8,1914.2 1525.6,1906.0 1525.3,1901.4 1526.3,1903.5 1526.3,1902.7 1524.8,1905.5 1525.0,1899.5 1526.0,1903.4 1527.2,1900.0 1526.0,1896.3 1526.6,1886.0 1526.7,1884.9 1525.8,1891.3 1525.8,1892.0 1526.5,1894.1 1528.0,1880.6 1527.8,1887.5 1527.1,1885.7 1527.2,1885.6 1527.5,1881.3 1527.5,1878.5 1527.7,1877.5 1527.8,1877.5 1528.2,1878.6 1527.3,1870.2 1527.7,1869.8 1528.6,1867.2 1528.2,1868.8 1529.0,1858.1 1528.8,1870.5 1529.2,1864.5 1529.7,1858.9 1529.8,1860.2 1529.2,1858.2 1528.7,1855.7 1530.1,1856.0 1529.8,1864.0 1529.5,1863.6 1530.1,1844.8 1530.5,1851.0 1530.4,1850.0 1531.1,1843.2 1530.6,1844.7 1531.2,1843.2 1530.0,1842.6 1531.0,1835.6 1530.1,1835.5 1530.3,1841.4 1531.1,1839.2 1532.3,1838.0 1530.8,1836.4 1531.9,1828.8 1531.7,1833.1 1531.8,1828.2 1533.0,1831.1 1531.7,1825.5 1532.4,1827.0 1531.1,1820.6 1532.6,1826.8 1532.4,1820.1 1532.8,1820.0 1534.3,1814.3 1532.0,1820.8 1533.9,1817.7 1533.5,1825.7 1533.2,1808.2 1533.6,1812.0 1533.9,1808.2 1534.2,1805.9 1534.0,1806.9 1534.6,1802.4 1534.0,1806.8 1534.8,1796.7 1534.5,1796.3 1533.5,1795.0 1535.0,1798.8 1534.6,1791.4 1535.0,1787.3 1535.7,1792.7 1534.9,1794.3 1535.8,1786.2 1536.1,1788.2 1535.9,1783.9 1535.4,1785.0 1535.7,1784.2 1535.9,1774.4 1535.4,1785.6 1535.7,1777.6 1537.2,1780.0 1535.5,1778.2 1536.2,1769.9 1536.7,1777.7 1536.9,1769.2 1536.6,1765.9 1536.7,1769.5 1535.6,1774.0 1537.2,1770.2 1537.1,1754.9 1537.3,1760.4 1536.7,1760.6 1537.1,1757.0 1538.3,1754.0 1536.9,1753.7 1537.4,1750.4 1538.2,1758.2 1536.9,1752.0 1538.8,1746.1 1539.2,1749.0 1538.0,1752.1 1538.2,1744.0 1539.1,1747.9 1538.7,1738.0 1539.7,1739.6 1538.2,1748.9 1539.6,1738.3 1539.0,1731.9 1538.5,1740.4 1540.6,1732.8 1539.7,1736.0 1539.6,1730.5 1540.7,1723.7 1539.4,1734.0 1539.9,1726.2 1540.2,1719.2 1540.3,1727.9 1539.8,1722.4 1540.2,1728.8 1541.4,1723.3 1541.9,1718.6 1541.5,1709.9 1542.7,1708.4 1543.7,1712.2 1542.3,1705.7 1543.3,1710.3 1542.2,1712.2 1543.0,1708.6 1543.1,1710.8 1543.1,1707.4 1543.1,1704.1 1543.3,1699.5 1543.8,1696.5 1544.4,1696.8 1544.4,1696.4 1543.7,1699.6 1544.7,1692.4 1546.7,1688.5 1545.2,1686.6 1546.2,1684.8 1546.2,1684.0 1547.2,1693.6 1547.2,1689.0 1547.1,1684.1 1547.5,1684.0 1547.8,1679.3 1547.9,1674.7 1549.2,1671.3 1549.6,1675.9 1549.5,1676.8 1550.9,1677.4 1551.3,1667.5 1551.8,1673.5 1552.6,1661.4 1553.3,1671.7 1554.0,1668.5 1554.6,1673.3 1554.9,1664.4 1555.7,1674.0 1556.8,1674.6 1557.4,1674.8 1557.8,1682.9 1558.8,1682.7 1559.7,1685.3 1559.2,1690.4 1559.4,1682.2 1559.7,1691.0 1561.2,1682.1 1562.1,1690.1 1561.9,1687.4 1561.7,1690.4 1562.1,1696.7 1562.6,1700.3 1564.1,1700.2 1563.9,1703.2 1564.2,1704.2 1564.2,1701.9 1565.4,1706.0 1564.4,1704.5 1566.3,1703.1 1564.9,1712.0 1566.7,1708.4 1566.1,1704.9 1565.9,1706.7 1565.6,1715.3 1567.1,1715.3 1567.7,1715.7 1565.8,1719.6 1567.9,1718.6 1567.4,1719.8 1567.4,1718.7 1567.4,1725.9 1567.8,1730.8 1568.3,1724.2 1569.1,1726.1 1569.0,1732.4 1569.1,1734.1 1568.7,1736.0 1567.9,1732.8 1569.3,1736.9 1570.8,1735.7 1570.3,1740.4 1570.7,1736.4 1570.6,1743.3 1571.0,1738.6 1570.9,1752.4 1570.8,1741.3 1571.8,1748.6 1571.4,1754.3 1571.8,1750.6 1572.1,1754.8 1572.4,1750.3 1572.4,1759.0 1573.0,1761.7 1572.6,1762.9 1574.1,1758.9 1573.3,1766.8 1574.0,1764.6 1573.9,1765.0 1574.8,1763.9 1573.9,1770.4 1574.3,1771.0 1575.5,1768.7 1575.5,1769.3 1575.8,1773.7 1576.2,1769.9 1576.3,1780.0 1576.5,1781.2 1575.6,1783.5 1576.8,1779.8 1576.6,1793.0 1577.6,1785.7 1577.3,1791.0 1578.3,1789.9 1577.3,1792.5 1577.7,1787.4 1578.4,1796.6 1578.8,1791.5 1578.2,1789.1 1579.4,1795.5 1578.7,1802.9 1579.4,1801.9 1579.6,1801.7 1580.3,1798.0 1580.1,1807.6 1580.9,1806.1 1580.6,1803.4 1582.0,1810.2 1581.1,1807.2 1581.9,1807.0 1582.7,1812.7 1582.5,1814.7 1584.4,1810.8 1583.5,1823.1 1583.8,1815.7 1583.8,1821.1 1584.6,1818.8 1584.6,1819.9 1585.5,1822.5 1584.6,1822.1 1586.5,1826.0 1586.0,1829.4 1586.9,1824.9 1586.4,1833.4 1588.0,1835.4 1586.7,1833.2 1588.4,1838.0 1587.4,1839.0 1588.4,1842.2 1588.6,1840.8 1590.2,1839.9 1589.6,1840.4 1590.0,1843.5 1590.4,1845.3 1591.0,1850.1 1592.4,1845.7 1592.6,1847.8 1593.7,1849.8 1592.5,1859.0 1593.1,1875.8 1594.6,1851.5 1594.8,1851.3 1595.4,1851.8 1595.5,1859.8 1596.5,1862.0 1597.2,1863.5 1596.9,1862.4 1598.4,1865.7 1599.7,1868.4 1600.3,1881.5 1600.7,1869.1 1601.6,1873.6 1602.7,1869.2 1603.8,1873.7 1604.7,1875.4 1605.7,1889.0 1606.7,1871.5 1607.2,1875.9 1608.4,1873.8 1609.2,1881.7 1610.2,1881.2 1611.0,1875.4 1612.6,1884.1 1613.5,1885.4 1615.2,1885.5 1615.8,1884.3 1617.7,1892.2 1618.9,1889.3 1619.9,1890.1 1621.1,1890.5 1622.4,1886.3 1623.6,1889.1 1624.8,1890.0 1626.1,1885.2 1627.3,1893.3 1628.6,1880.5 1629.9,1891.0 1631.5,1882.4 1632.6,1880.0 1633.7,1883.2 1635.0,1880.8 1635.4,1885.4 1636.1,1874.7 1637.1,1873.2 1639.2,1878.5 1639.4,1885.8 1640.0,1869.7 1641.6,1880.3 1641.7,1884.1 1642.8,1869.5 1643.8,1876.7 1644.4,1869.1 1644.2,1865.9 1646.5,1865.2 1646.5,1863.9 1646.6,1859.6 1648.3,1862.4 1649.1,1858.6 1649.1,1868.5 1649.3,1864.7 1649.9,1856.8 1651.1,1855.4 1650.8,1858.6 1651.8,1864.8 1653.6,1859.0 1654.0,1853.6 1654.8,1856.8 1654.4,1840.1 1655.8,1838.9 1656.9,1846.7 1657.5,1839.8 1657.2,1842.4 1659.1,1839.9 1659.5,1840.4 1659.9,1839.7 1660.8,1835.3 1661.6,1833.7 1662.0,1838.2 1662.4,1832.4 1663.0,1830.1 1663.7,1828.6 1664.3,1825.1 1665.4,1822.5 1665.9,1832.5 1666.5,1818.8 1667.2,1824.0 1667.0,1821.7 1668.1,1819.7 1669.1,1821.1 1669.0,1829.8 1669.7,1824.5 1671.5,1813.9 1671.1,1806.6 1672.2,1813.5 1673.0,1810.4 1673.5,1805.8 1674.4,1811.8 1674.9,1805.5 1675.8,1803.5 1676.1,1812.3 1676.4,1807.4 1677.5,1800.5 1678.2,1807.0 1677.9,1800.0 1679.3,1801.6 1679.9,1793.7 1681.4,1793.0 1680.9,1792.0 1681.3,1787.9 1682.7,1788.5 1683.1,1783.0 1684.0,1781.3 1683.6,1787.7 1684.5,1787.5 1685.8,1782.8 1686.0,1776.9 1686.5,1779.2 1687.6,1772.9 1687.1,1771.9 1686.9,1773.2 1688.7,1776.8 1690.1,1782.9 1690.4,1775.1 1690.8,1768.6 1691.2,1764.8 1693.0,1770.7 1693.3,1771.2 1693.9,1763.7 1695.0,1769.0 1695.4,1768.6 1696.1,1761.4 1697.3,1760.4 1698.5,1755.0 1698.9,1750.5 1700.2,1755.7 1700.3,1755.7 1700.9,1750.8 1702.5,1749.8 1704.0,1756.0 1704.2,1749.1 1704.9,1762.3 1706.3,1750.2 1707.4,1752.5 1708.3,1743.7 1709.0,1742.4 1710.3,1739.9 1711.2,1736.5 1712.8,1749.1 1713.7,1755.2 1715.0,1736.1 1715.8,1740.1 1717.0,1739.3 1718.1,1733.1 1719.6,1736.9 1720.8,1729.8 1722.5,1734.8 1723.7,1738.0 1725.4,1731.4 1726.6,1739.9 1728.0,1735.8 1729.5,1721.4 1730.8,1732.4 1732.1,1729.0 1733.4,1727.8 1734.7,1721.3 1736.0,1735.7 1737.2,1724.6 1738.4,1736.3 1739.6,1735.9 1740.8,1740.3 1742.1,1731.0 1743.7,1741.5 1744.8,1730.9 1745.8,1746.3 1747.0,1740.5 1748.2,1739.4 1749.2,1741.7 1750.6,1746.9 1751.4,1738.9 1752.5,1745.2 1753.3,1742.8 1754.6,1747.3 1755.6,1744.2 1756.4,1749.8 1757.8,1755.4 1758.3,1747.1 1759.0,1752.7 1759.9,1759.6 1760.6,1757.2 1761.8,1762.3 1762.9,1751.3 1763.8,1754.8 1764.1,1760.7 1764.8,1767.0 1766.1,1760.4 1766.7,1769.0 1767.1,1761.3 1768.7,1774.0 1769.3,1763.6 1770.0,1776.8 1770.3,1768.4 1771.2,1770.5 1772.2,1769.6 1772.6,1774.0 1773.5,1786.3 1774.1,1780.0 1773.9,1777.8 1775.8,1778.2 1776.8,1785.2 1776.7,1777.0 1777.7,1794.2 1777.9,1788.0 1778.2,1785.7 1778.7,1789.4 1780.5,1789.1 1780.6,1793.3 1780.7,1792.5 1781.5,1797.3 1782.0,1793.1 1783.3,1797.9 1783.6,1798.0 1784.5,1795.9 1784.5,1796.3 1786.1,1806.6 1786.0,1793.8 1786.9,1794.0 1787.2,1809.2 1787.7,1811.5 1788.4,1812.7 1789.6,1817.0 1790.0,1814.2 1790.2,1816.8 1791.6,1814.9 1791.5,1818.4 1792.6,1824.9 1793.0,1820.7 1793.4,1816.3 1793.6,1816.3 1794.3,1826.4 1795.0,1819.0 1795.4,1823.0 1796.1,1824.0 1796.8,1837.6 1796.0,1828.8 1797.6,1829.7 1798.4,1835.9 1798.9,1835.0 1798.9,1827.5 1800.4,1834.8 1799.1,1828.5 1801.0,1839.8 1800.7,1843.4 1800.7,1841.5 1801.6,1850.8 1803.4,1835.4 1803.5,1852.2 1803.6,1846.6 1803.4,1849.8 1804.5,1848.3 1804.8,1852.0 1804.7,1855.0 1805.6,1849.8 1806.6,1854.0 1806.5,1854.0 1807.8,1855.1 1807.8,1862.2 1808.2,1861.4 1807.8,1865.9 1808.1,1864.5 1809.8,1867.3 1809.8,1876.9 1810.2,1873.5 1810.2,1867.1 1811.6,1869.2 1811.8,1875.2 1812.6,1878.4 1812.6,1873.9 1813.2,1872.9 1812.7,1878.6 1813.1,1886.6 1814.9,1883.8 1815.0,1881.9 1816.6,1884.6 1815.6,1883.5 1816.4,1890.5 1817.4,1883.1 1817.8,1889.4 1818.3,1894.3 1818.8,1891.8 1818.7,1898.1 1819.3,1900.0 1820.6,1904.7 1820.5,1898.8 1821.5,1895.9 1822.4,1896.1 1821.9,1902.9 1823.1,1896.9 1824.1,1910.5 1824.4,1903.2 1824.8,1904.5 1826.1,1907.5 1825.6,1912.4 1826.7,1910.3 1827.4,1915.2 1828.3,1913.7 1828.8,1919.1 1829.5,1924.2 1830.4,1916.2 1830.7,1921.0 1831.4,1915.4 1831.7,1923.3 1831.8,1932.1 1832.1,1930.6 1833.9,1936.3 1834.3,1930.3 1834.8,1926.5 1835.7,1936.6 1836.3,1942.7 1836.3,1934.8 1837.4,1933.0 1838.2,1931.8 1838.4,1940.1 1840.2,1946.3 1840.2,1936.6 1841.1,1941.2 1841.1,1941.5 1842.6,1949.3 1843.0,1945.6 1843.4,1954.4 1843.6,1946.2 1843.7,1950.5 1844.9,1952.4 1845.5,1952.7 1846.0,1955.8 1846.7,1956.5 1848.1,1961.1 1848.2,1958.4 1848.8,1960.5 1849.4,1959.5 1850.4,1967.3 1851.0,1967.5 1852.0,1958.5 1851.9,1970.9 1853.6,1974.9 1853.5,1964.8 1855.1,1969.7 1855.8,1976.2 1856.4,1975.9 1855.9,1974.4 1858.1,1983.9 1857.5,1977.2 1858.8,1981.5 1859.9,1987.9 1860.4,1980.4 1861.6,1986.8 1861.6,1980.5 1862.4,1984.0 1862.5,1988.6 1864.6,1986.8 1864.5,1988.9 1864.9,1990.5 1866.3,1989.7 1867.1,1996.6 1867.4,2003.1 1868.0,1994.5 1868.8,1988.7 1870.0,1996.4 1870.3,1997.6 1871.4,2005.2 1872.5,2005.0 1872.8,1997.7 1874.1,2006.6 1874.7,1998.8 1875.9,2010.7 1876.5,2016.3 1877.1,2003.7 1878.9,2013.7 1879.0,2009.5 1880.2,2009.7 1881.6,2015.2 1882.9,2017.8 1883.4,2013.8 1884.6,2014.0 1886.2,2016.1 1887.0,2023.0 1888.2,2033.6 1889.3,2027.3 1890.5,2009.1 1891.9,2024.6 1893.4,2011.1 1894.1,2032.8 1895.6,2029.9 1896.7,2033.4 1898.2,2034.5 1899.5,2029.3 1900.8,2027.9 1902.2,2038.2 1903.6,2028.2 1905.2,2034.4 1906.7,2025.7 1908.1,2026.6 1909.6,2035.5 1911.1,2029.9 1912.6,2029.1 1914.1,2035.9 1915.7,2017.0 1917.1,2023.8 1918.6,2031.0 1920.0,2041.5 1921.4,2037.7 1922.9,2035.3 1924.4,2027.7 1925.8,2034.0 1927.1,2028.8 1928.6,2020.0 1930.1,2022.5 1931.5,2041.5 1932.9,2028.6 1934.4,2027.3 1935.5,2032.1 1937.0,2042.6 1938.2,2025.8 1939.4,2024.1 1940.7,2018.4 1941.9,2036.9 1943.4,2028.1 1944.3,2022.9 1945.7,2021.7 1947.2,2014.9 1948.1,2026.4 1949.0,2032.7 1949.9,2013.3 1951.2,2016.8 1952.2,2025.9 1953.0,2013.3 1954.7,2005.6 1955.1,2000.4 1956.7,2014.2 1958.1,2008.1 1959.2,2013.7 1960.5,2001.9 1961.4,2012.2 1962.8,2005.2 1963.7,1995.2 1965.3,2006.5 1966.4,2003.5 1967.2,1994.3 1968.5,2003.9 1969.7,1996.2 1970.7,1993.0 1971.8,1993.7 1973.4,1992.5 1974.1,1996.5 1975.5,1992.0 1976.5,1989.2 1977.7,1989.8 1979.1,1992.8 1979.8,1992.6 1981.0,1986.0 1982.3,1988.2 1983.6,1982.3 1985.2,1974.9 1986.1,1984.1 1988.0,1991.7 1988.0,1982.6 1987.4,1982.6 1987.5,1979.0 1988.2,1981.2 1988.0,1987.0 1987.8,1981.9 1987.4,1984.2 1987.4,1984.1 1987.0,1994.9 1987.2,1994.3 1987.2,1994.7 1985.9,1998.8 1986.7,1996.2 1986.8,1996.9 1985.8,1999.5 1986.5,2002.3 1985.5,2005.8 1984.9,1998.0 1984.8,1998.3 1984.0,2010.0 1983.3,2008.3 1984.4,2012.4 1983.5,2014.9 1983.7,2006.4 1981.7,2016.6 1983.5,2016.1 1981.4,2017.2 1981.5,2019.0 1981.3,2034.1 1980.5,2024.9 1980.9,2022.1 1979.8,2031.3 1979.7,2031.3 1979.1,2036.2 1978.3,2030.5 1978.8,2036.4 1977.1,2030.3 1977.0,2039.7 1975.5,2035.1 1975.4,2039.5 1974.5,2036.9 1973.6,2038.2 1972.4,2042.5 1972.7,2042.3 1970.6,2039.7 1970.1,2055.0 1969.7,2047.9 1968.7,2044.5 1967.3,2042.2 1967.3,2051.7 1966.5,2055.3 1964.5,2045.1 1965.5,2052.7 1963.3,2057.5 1963.3,2054.6 1962.3,2056.5 1962.1,2064.4 1960.9,2053.0 1960.3,2052.1 1959.0,2058.4 1957.7,2061.1 1956.6,2070.6 1956.6,2072.7 1954.4,2063.2 1954.7,2069.1 1952.8,2066.9 1952.3,2069.2 1951.7,2079.1 1950.7,2069.7 1949.5,2080.6 1948.6,2076.0 1947.9,2082.9 1946.9,2075.0 1945.6,2071.0 1945.0,2091.6 1943.8,2098.3 1942.6,2094.4 1942.2,2086.3 1940.8,2088.0 1939.1,2089.5 1938.3,2089.9 1937.3,2102.8 1936.6,2095.3 1935.0,2102.1 1934.4,2095.0 1932.9,2101.9 1932.0,2091.5 1931.0,2092.8 1930.4,2108.1 1928.9,2104.3 1927.8,2109.2 1927.0,2098.9 1925.3,2102.9 1924.3,2098.2 1923.8,2099.4 1922.3,2095.3 1921.0,2112.7 1920.0,2101.0 1918.7,2100.6 1917.6,2105.4 1916.7,2105.7 1915.6,2107.3 1914.9,2106.2 1913.4,2119.2 1912.2,2112.4 1911.3,2114.9 1909.7,2113.5 1909.4,2110.0 1907.9,2116.0 1906.7,2114.8 1905.6,2120.4 1904.3,2119.8 1903.1,2115.4 1902.0,2123.3 1900.8,2118.4 1899.8,2127.2 1898.4,2124.0 1897.4,2122.8 1896.2,2123.6 1895.0,2121.4 1893.5,2126.8 1892.6,2124.8 1891.7,2126.5 1890.1,2140.1 1889.3,2133.7 1887.8,2125.9 1886.9,2134.9 1885.4,2129.8 1884.4,2126.9 1883.3,2130.3 1882.0,2142.8 1881.2,2127.8 1880.1,2133.6 1878.9,2134.0 1877.3,2137.2 1876.5,2147.1 1875.2,2141.9 1873.8,2150.0 1872.8,2141.1 1871.5,2151.6 1870.3,2144.9 1869.1,2151.9 1868.2,2146.6 1866.9,2156.8 1865.4,2161.0 1864.5,2147.3 1863.1,2149.0 1861.7,2157.0 1860.5,2155.6 1859.8,2146.3 1858.1,2153.3 1856.9,2159.8 1855.7,2168.2 1854.6,2154.0 1853.1,2152.8 1851.7,2161.6 1850.6,2158.8 1849.1,2157.0 1847.8,2159.4 1846.5,2157.1 1845.4,2166.0 1843.9,2150.8 1842.6,2162.2 1841.3,2167.1 1839.8,2166.0 1838.4,2148.6 1837.1,2163.2 1835.8,2158.6 1834.1,2177.3 1832.9,2176.8 1831.5,2170.0 1830.1,2166.3 1828.7,2174.1 1827.3,2174.1 1825.8,2158.4 1824.3,2180.2 1822.9,2171.5 1821.5,2162.3 1820.2,2177.9 1818.7,2163.1 1817.3,2175.1 1816.0,2181.8 1814.6,2183.0 1813.2,2177.3 1811.8,2170.5 1810.3,2181.7 1808.9,2182.3 1807.6,2187.0 1806.0,2169.1 1804.9,2177.9 1803.5,2179.3 1802.0,2176.7 1800.7,2177.2 1799.3,2180.3 1797.9,2173.5 1796.4,2180.3 1795.0,2184.5 1793.6,2171.5 1792.2,2183.5 1791.0,2180.7 1789.6,2186.1 1788.1,2193.5 1786.7,2182.1 1785.2,2178.8 1783.9,2195.2 1782.4,2187.4 1781.1,2176.4 1779.7,2192.3 1778.3,2190.8 1777.0,2181.0 1775.5,2189.8 1774.1,2193.8 1772.7,2183.2 1771.4,2192.7 1770.1,2190.8 1768.6,2194.9 1767.4,2200.3 1765.8,2193.2 1764.6,2192.5 1762.9,2201.0 1761.7,2198.3 1760.4,2208.8 1759.1,2194.2 1757.5,2189.7 1756.2,2207.8 1754.8,2198.5 1753.2,2196.9 1751.9,2200.8 1750.6,2211.2 1749.1,2191.8 1747.7,2184.1 1746.3,2194.4 1744.9,2194.6 1743.4,2207.6 1742.1,2199.6 1740.5,2204.0 1739.2,2201.8 1737.7,2195.3 1736.3,2210.8 1734.8,2206.6 1733.4,2214.3 1731.9,2204.6 1730.5,2197.5 1729.1,2209.5 1727.7,2215.6 1726.2,2208.3 1724.7,2200.3 1723.3,2206.3 1721.8,2216.7 1720.4,2217.9 1718.9,2203.4 1717.5,2206.4 1716.1,2196.1 1714.6,2210.5 1713.3,2211.7 1711.8,2234.3 1710.3,2212.2 1708.9,2223.2 1707.6,2214.5 1705.9,2210.0 1704.6,2219.2 1703.1,2224.6 1701.7,2207.5 1700.2,2218.7 1698.9,2222.8 1697.4,2209.0 1695.9,2218.4 1694.5,2217.7 1693.1,2221.5 1691.7,2231.7 1690.3,2214.7 1688.8,2214.8 1687.4,2224.5 1685.9,2221.9 1684.5,2220.9 1683.0,2207.8 1681.6,2222.3 1680.2,2222.0 1678.7,2221.0 1677.2,2218.9 1675.9,2220.2 1674.3,2220.4 1673.0,2232.4 1671.5,2227.5 1670.0,2229.7 1668.6,2227.4 1667.2,2230.1 1665.9,2222.0 1664.3,2236.0 1662.8,2231.0 1661.5,2235.0 1660.0,2228.5 1658.6,2231.4 1657.1,2233.5 1655.6,2239.0 1654.3,2224.3 1652.9,2232.3 1651.4,2240.3 1650.0,2235.7 1648.5,2226.0 1647.0,2235.2 1645.6,2238.9 1644.2,2236.0 1642.8,2229.9 1641.3,2226.2 1640.0,2241.9 1638.5,2237.3 1637.1,2254.7 1635.6,2239.7 1634.1,2241.2 1632.7,2232.8 1631.1,2241.0 1629.8,2248.9 1628.3,2239.5 1626.8,2237.1 1625.4,2228.0 1623.9,2239.1 1622.5,2223.6 1621.1,2243.6 1619.6,2246.0 1618.3,2233.5 1616.8,2237.6 1615.4,2239.7 1614.0,2229.5 1612.5,2233.8 1611.2,2239.1 1609.7,2235.4 1608.4,2247.7 1606.9,2248.0 1605.6,2244.2 1604.3,2249.2 1602.8,2235.8 1601.4,2246.6 1600.2,2248.0 1598.8,2248.4 1597.2,2246.1 1595.8,2249.0 1594.9,2255.5 1593.0,2248.5 1592.1,2240.9 1590.9,2250.3 1589.6,2250.4 1588.2,2246.0 1587.0,2257.2 1586.3,2261.4 1584.4,2261.8 1583.6,2259.9 1582.7,2259.9 1581.9,2251.3 1580.6,2255.1 1579.1,2266.3 1578.9,2253.2 1576.9,2260.3 1576.3,2272.3 1575.2,2259.5 1574.2,2268.3 1573.4,2274.3 1572.6,2263.5 1571.0,2259.4 1569.9,2265.2 1569.6,2274.6 1567.7,2271.7 1567.0,2282.4 1566.0,2283.7 1565.0,2271.5 1564.2,2281.5 1562.7,2279.9 1562.4,2283.2 1561.0,2279.0 1560.1,2278.6 1558.5,2282.3 1558.2,2290.3 1557.2,2286.7 1556.1,2289.7 1555.1,2291.5 1554.3,2291.4 1553.5,2289.4 1551.9,2285.0 1551.4,2293.9 1550.6,2297.8 1549.8,2297.0 1548.0,2294.6 1547.3,2304.7 1546.6,2296.3 1546.0,2304.9 1545.4,2308.1 1544.5,2307.4 1543.7,2308.8 1543.2,2307.6 1542.0,2305.1 1541.4,2301.6 1540.3,2311.4 1539.9,2313.4 1538.7,2305.7 1537.9,2323.4 1537.0,2318.3 1536.7,2319.1 1535.2,2319.4 1534.7,2319.6 1533.9,2324.1 1533.5,2324.2 1532.7,2318.7 1532.4,2324.3 1530.9,2328.7 1530.4,2325.9 1529.8,2334.7 1528.6,2333.1 1528.0,2333.8 1527.6,2334.9 1526.7,2338.6 1525.8,2322.9 1524.8,2328.7 1525.2,2335.4 1524.5,2333.5 1523.5,2336.8 1522.7,2336.4 1521.0,2332.1 1520.5,2345.8 1519.9,2349.4 1520.0,2346.2 1518.7,2342.3 1518.3,2345.1 1516.5,2356.4 1516.2,2349.8 1516.1,2358.7 1515.2,2357.1 1514.9,2361.4 1513.1,2359.5 1513.0,2359.0 1511.4,2358.9 1511.0,2357.3 1510.6,2360.3 1508.9,2364.2 1509.0,2361.0 1508.0,2370.2 1507.8,2366.6 1505.7,2371.0 1505.1,2373.1 1503.9,2362.2 1503.5,2375.5 1502.5,2373.4 1500.2,2380.8 1499.5,2376.1 1498.9,2377.2 1498.3,2372.7 1496.8,2369.7 1495.6,2382.0 1494.6,2382.9 1493.7,2381.7 1492.0,2394.0 1491.2,2385.2 1490.3,2386.8 1489.0,2399.6 1488.0,2386.3 1486.8,2382.9 1485.7,2408.1 1484.5,2395.2 1483.3,2401.0 1482.2,2384.6 1481.0,2389.7 1479.8,2393.7 1478.1,2380.4 1477.2,2381.1 1475.8,2378.6 1474.9,2386.5 1473.2,2377.5 1472.5,2374.9 1471.2,2372.2 1470.4,2374.7 1469.1,2381.7 1468.8,2365.3 1467.1,2376.0 1466.8,2375.2 1465.7,2369.7 1464.6,2366.1 1463.8,2365.2 1462.9,2374.3 1462.8,2371.6 1461.2,2367.7 1460.5,2365.7 1459.5,2357.8 1457.8,2350.9 1456.7,2357.0 1455.7,2360.4 1454.4,2362.3 1453.7,2363.8 1451.9,2347.7 1450.9,2348.0 1449.6,2360.1 1448.1,2353.5 1446.7,2352.2 1445.4,2344.4 1443.8,2354.8 1442.4,2348.1 1440.9,2345.1 1439.5,2344.0 1438.1,2345.3 1436.7,2357.8 1435.3,2346.1 1433.9,2341.0 1432.4,2348.0 1431.0,2352.7 1429.5,2339.1 1428.0,2350.7 1426.5,2329.3 1425.0,2352.2 1423.5,2350.7 1422.0,2336.0 1420.5,2345.3 1419.0,2349.6 1417.5,2354.6 1416.0,2350.7 1414.4,2344.1 1412.9,2351.8 1411.4,2346.2 1409.9,2345.3 1408.4,2358.0 1406.8,2373.7 1405.3,2350.3 1403.8,2336.1 1402.3,2339.1 1400.8,2335.7 1399.3,2352.7 1397.8,2348.0 1396.3,2349.9 1394.8,2351.5 1393.3,2341.9 1391.8,2334.3 1390.3,2341.4 1388.8,2349.5 1387.3,2348.7 1385.8,2346.6 1384.3,2353.6 1382.8,2341.3 1381.3,2358.3 1379.8,2339.8 1378.3,2343.1 1376.8,2333.5 1375.3,2347.7 1373.8,2357.9 1372.3,2354.3 1370.8,2351.7 1369.3,2359.0 1367.8,2351.0 1366.3,2347.2 1364.8,2341.3 1363.4,2338.1 1361.9,2352.2 1360.4,2338.4 1358.9,2342.1 1357.4,2343.5 1355.9,2343.3 1354.4,2350.1 1352.9,2341.0 1351.4,2340.5 1349.9,2348.7 1348.4,2340.9 1346.9,2342.7 1345.5,2349.3 1344.0,2343.4 1342.5,2339.2 1341.0,2351.6 1339.5,2339.6 1338.0,2347.2 1336.5,2344.0 1335.0,2347.8 1333.5,2350.6 1332.0,2349.2 1330.5,2340.9 1329.0,2346.0 1327.5,2341.1 1326.1,2355.7 1324.6,2345.9 1323.1,2352.6 1321.6,2329.1 1320.1,2349.2 1318.6,2345.2 1317.1,2348.3 1315.6,2337.3 1314.1,2339.8 1312.6,2342.6 1311.1,2345.1 1309.6,2343.9 1308.1,2350.8 1306.6,2350.3 1305.2,2357.8 1303.7,2339.2 1302.2,2350.5 1300.7,2353.0 1299.2,2346.5 1297.7,2341.8 1296.2,2347.1 1294.7,2350.0 1293.3,2337.2 1291.8,2354.3 1290.3,2340.7 1288.8,2354.8 1287.3,2353.4 1285.8,2340.4 1284.4,2346.5 1282.9,2348.1 1281.4,2345.8 1279.9,2342.9 1278.5,2344.0 1277.0,2354.3 1275.5,2347.9 1274.0,2339.7 1272.5,2346.9 1271.0,2347.1 1269.5,2353.2 1268.0,2358.1 1266.5,2337.2 1265.0,2357.5 1263.5,2350.1 1262.1,2354.5 1260.6,2357.8 1259.1,2350.2 1257.6,2350.9 1256.1,2360.5 1254.6,2359.1 1253.1,2357.3 1251.6,2359.8 1250.1,2352.1 1248.6,2349.4 1247.1,2354.2 1245.6,2354.1 1244.1,2365.6 1242.6,2344.6 1241.1,2338.3 1239.6,2352.6 1238.0,2355.3 1236.4,2346.8 1234.8,2366.4 1233.1,2358.4 1231.4,2346.8 1229.8,2354.0 1228.1,2353.0 1226.4,2361.6 1224.8,2355.8 1223.1,2370.4 1221.5,2358.0 1219.9,2350.3 1218.4,2358.7 1216.9,2360.6 1215.5,2368.4 1214.1,2358.7 1212.7,2347.5 1211.4,2345.5 1210.3,2370.5 1209.2,2354.8 1208.3,2354.0 1207.2,2360.4 1206.5,2363.3 1205.5,2366.4 1204.5,2368.9 1204.2,2365.7 1203.2,2360.1 1202.0,2370.6 1202.2,2362.0 1201.2,2371.2 1201.1,2376.7 1201.2,2376.7 1201.5,2367.2 1200.5,2377.4 1200.4,2375.9 1200.1,2369.7 1199.8,2378.7 1199.3,2380.2 1200.7,2379.0 1199.3,2382.1 1199.0,2389.7 1198.9,2389.1 1198.4,2391.8 1197.9,2386.4 1198.8,2395.9 1198.8,2402.5 1198.6,2397.7 1198.8,2395.6 1197.8,2395.7 1196.4,2400.2 1197.5,2397.0 1197.0,2405.1 1196.9,2403.2 1197.1,2406.2 1196.3,2406.0 1196.9,2407.2 1197.1,2405.5 1197.4,2411.8 1196.5,2405.9 1195.3,2412.4 1195.0,2414.4 1195.3,2421.2 1196.6,2422.4 1195.8,2418.8 1195.7,2424.2 1194.7,2420.3 1195.2,2421.1 1195.1,2423.7 1194.6,2428.4 1194.3,2427.5 1194.1,2423.4 1193.6,2433.9 1194.7,2433.6 1194.4,2435.8 1194.0,2436.7 1193.5,2434.9 1193.9,2441.2 1194.1,2440.4 1193.8,2442.5 1193.9,2442.4 1194.3,2450.2 1192.4,2447.2 1193.2,2453.2 1192.9,2452.2 1193.2,2446.1 1192.7,2454.2 1192.9,2456.9 1192.6,2454.6 1191.5,2452.5 1192.4,2462.1 1192.6,2459.9 1192.5,2457.8 1191.9,2466.1 1191.2,2467.1 1190.9,2473.8 1191.1,2467.4 1191.3,2470.7 1191.1,2470.6 1191.5,2475.6 1190.5,2473.3 1190.6,2472.6 1190.9,2475.4 1191.2,2476.4 1189.8,2484.2 1191.2,2484.5 1190.0,2486.6 1188.9,2480.5 1190.0,2499.9 1189.5,2486.9 1188.8,2485.0 1189.1,2495.8 1189.8,2490.8 1188.9,2495.9 1188.7,2499.6 1187.2,2490.7 1188.7,2491.3 1187.8,2502.1 1187.3,2496.2 1188.2,2504.9 1188.3,2498.0 1186.9,2501.0 1186.9,2512.1 1187.3,2512.5 1187.7,2510.6 1187.5,2513.1 1187.1,2507.8 1187.1,2512.4 1186.0,2507.9 1186.8,2522.9 1184.8,2518.8 1185.9,2512.9 1186.0,2518.6 1185.8,2528.9 1185.7,2526.5 1185.6,2528.2 1185.6,2528.0 1184.3,2526.0 1185.8,2523.4 1184.8,2533.2 1184.5,2533.6 1184.6,2537.7 1183.7,2536.1 1184.0,2536.2 1183.2,2535.9 1183.3,2537.7 1182.5,2543.5 1182.5,2551.2 1182.8,2542.6 1182.2,2549.5 1181.3,2552.9 1182.6,2546.7 1182.3,2552.8 1180.8,2553.6 1181.2,2555.7 1180.4,2558.1 1180.5,2558.1 1180.6,2559.5 1179.6,2553.0 1179.7,2563.0 1180.0,2567.9 1180.4,2567.8 1179.1,2572.8 1179.8,2576.3 1178.5,2573.0 1178.4,2565.8 1178.3,2577.5 1177.9,2578.7 1177.5,2573.9 1177.1,2573.7 1176.4,2577.8 1176.7,2584.7 1176.1,2581.4 1176.7,2585.6 1175.2,2582.5 1176.3,2581.9 1175.0,2585.4 1175.1,2588.9 1174.5,2587.4 1174.6,2588.2 1172.8,2590.2 1173.3,2597.7 1173.2,2607.3 1172.4,2604.0 1171.3,2600.7 1170.4,2586.8 1168.9,2607.4 1167.1,2596.3 1165.9,2591.5 1164.7,2589.7 1163.9,2597.8 1163.1,2590.0 1162.1,2598.9 1160.6,2599.7 1161.1,2598.1 1159.8,2589.4 1159.4,2583.6 1159.1,2585.2 1158.5,2592.1 1158.4,2589.1 1156.8,2590.6 1155.8,2577.6 1156.2,2584.5 1156.2,2586.8 1154.9,2580.5 1155.4,2576.3 1154.8,2575.6 1154.2,2571.4 1153.9,2565.4 1153.9,2576.8 1152.3,2564.1 1151.4,2570.0 1152.1,2563.9 1151.6,2560.2 1150.0,2568.7 1149.7,2558.6 1149.5,2550.4 1148.9,2562.1 1148.9,2563.3 1147.5,2562.2 1147.4,2557.6 1146.8,2559.4 1146.2,2549.8 1145.8,2553.6 1144.8,2549.9 1144.3,2541.6 1143.9,2548.0 1142.7,2546.8 1142.2,2540.2 1141.9,2534.1 1141.3,2539.3 1140.3,2539.3 1141.0,2535.0 1140.5,2537.8 1138.6,2537.7 1138.9,2538.6 1137.7,2535.7 1137.2,2536.9 1137.0,2525.6 1136.8,2534.1 1136.2,2527.2 1135.0,2518.9 1134.9,2527.2 1134.9,2523.4 1132.5,2521.5 1133.6,2529.0 1132.4,2528.2 1131.2,2525.6 1131.2,2521.4 1131.4,2515.2 1130.4,2514.7 1130.3,2500.9 1129.3,2510.1 1128.2,2505.8 1127.5,2516.1 1127.5,2498.0 1128.0,2504.8 1127.0,2502.7 1125.8,2513.8 1125.5,2496.6 1124.4,2500.2 1123.2,2494.8 1122.5,2497.2 1121.9,2492.7 1122.0,2497.2 1121.4,2488.7 1119.9,2500.0 1119.7,2493.7 1119.2,2494.4 1117.5,2491.9 1117.0,2490.8 1115.7,2487.8 1115.7,2482.8 1114.5,2484.7 1114.3,2476.3 1113.9,2485.2 1112.9,2478.0 1112.5,2474.3 1110.7,2473.7 1110.7,2468.8 1109.3,2480.0 1108.5,2468.2 1107.7,2472.9 1105.9,2473.7 1106.0,2473.8 1104.7,2473.7 1104.4,2462.8 1103.1,2461.4 1102.9,2466.4 1102.1,2467.1 1100.9,2456.5 1099.8,2464.9 1099.0,2465.1 1097.7,2462.0 1097.1,2456.0 1096.6,2461.1 1094.2,2458.3 1093.7,2441.0 1093.4,2462.4 1091.7,2451.3 1091.2,2462.1 1090.3,2447.4 1089.5,2446.5 1088.0,2436.4 1086.8,2451.4 1086.0,2445.8 1085.0,2446.0 1083.4,2438.6 1082.7,2438.2 1081.4,2437.1 1080.3,2431.7 1078.8,2436.4 1077.5,2442.0 1076.5,2440.9 1075.5,2429.8 1074.2,2435.6 1072.9,2435.8 1071.6,2427.3 1070.1,2441.4 1069.0,2437.0 1067.4,2425.1 1066.2,2441.2 1064.9,2422.4 1063.5,2436.4 1062.3,2435.0 1060.9,2418.2 1059.5,2433.4 1057.9,2436.9 1056.8,2419.6 1055.2,2425.4 1053.8,2424.1 1052.3,2420.1 1050.7,2426.3 1049.4,2417.0 1047.9,2424.0 1046.4,2423.2 1044.9,2411.9 1043.4,2424.9 1041.9,2418.9 1040.4,2418.7 1038.9,2428.2 1037.4,2419.7 1036.0,2416.1 1034.5,2422.6 1033.0,2424.3 1031.5,2425.3 1030.0,2416.0 1028.5,2421.4 1027.0,2423.7 1025.5,2408.3 1024.0,2436.9 1022.5,2422.4 1021.0,2435.2 1019.5,2423.4 1018.0,2407.9 1016.5,2420.8 1015.0,2427.3 1013.5,2416.2 1012.0,2420.3 1010.5,2422.0 1009.0,2423.2 1007.5,2424.3 1006.0,2436.1 1004.4,2423.2 1002.9,2419.3 1001.4,2423.5 1000.0,2418.1 998.5,2424.3 997.0,2425.6 995.5,2423.7 994.0,2427.5 992.5,2424.7 991.0,2424.1 989.5,2432.3 988.0,2415.1 986.5,2422.1 985.0,2426.5 983.5,2426.6 982.0,2436.6 980.5,2438.8 979.0,2431.6 977.5,2420.6 976.0,2430.7 974.5,2419.2 973.0,2442.7 971.5,2421.2 970.1,2415.0 968.6,2417.3 967.1,2431.5 965.6,2430.4 964.1,2414.5 962.6,2425.4 961.1,2426.3 959.6,2430.2 958.1,2427.7 956.6,2429.7 955.1,2424.2 953.7,2434.9 952.2,2432.0 950.7,2416.6 949.2,2417.8 947.7,2429.3 946.2,2431.6 944.7,2424.7 943.2,2421.3 941.7,2431.6 940.2,2421.6 938.8,2428.4 937.3,2425.6 935.8,2429.5 934.3,2416.5 932.8,2427.1 931.3,2436.2 929.8,2430.1 928.3,2423.1 926.8,2448.9 925.3,2427.2 923.8,2420.3 922.3,2421.5 920.8,2425.8 919.3,2430.9 917.8,2414.4 916.3,2429.8 914.8,2441.0 913.3,2427.5 911.8,2438.5 910.3,2440.5 908.8,2432.5 907.3,2432.8 905.8,2452.6 904.3,2427.9 902.8,2432.2 901.4,2441.5 899.9,2421.2 898.4,2431.9 897.0,2432.0 895.5,2446.0 894.0,2439.1 892.6,2434.2 891.2,2440.2 889.7,2425.9 888.2,2437.0 886.8,2427.5 885.6,2434.6 884.0,2430.4 882.8,2453.5 881.3,2451.7 879.9,2447.5 878.4,2438.3 877.0,2427.8 875.7,2450.9 874.1,2441.3 872.7,2435.9 871.2,2439.4 869.8,2449.5 868.4,2454.5 866.9,2442.5 865.5,2440.3 864.0,2442.5 862.5,2441.9 861.1,2431.4 859.6,2433.7 858.1,2434.7 856.6,2440.1 855.1,2447.2 853.6,2434.8 852.1,2445.3 850.6,2450.3 849.1,2430.1 847.6,2441.4 846.1,2438.0 844.6,2447.0 843.1,2444.8 841.6,2439.2 840.1,2454.5 838.5,2438.7 837.0,2442.6 835.5,2449.3 834.0,2454.4 832.5,2438.6 831.0,2458.0 829.5,2449.9 828.0,2437.1 826.5,2430.5 825.0,2455.4 823.5,2440.2 822.0,2440.6 820.6,2443.4 819.1,2436.1 817.6,2448.3 816.1,2429.7 814.6,2438.4 813.1,2431.2 811.6,2433.8 810.1,2444.5 808.6,2434.0 807.1,2444.9 805.6,2434.3 804.1,2445.5 802.7,2426.0 801.2,2434.1 799.7,2447.1 798.2,2439.6 796.7,2435.9 795.2,2441.5 793.7,2436.0 792.2,2436.0 790.7,2437.2 789.2,2423.7 787.7,2436.5 786.2,2448.9 784.7,2439.7 783.2,2428.5 781.7,2445.4 780.2,2422.4 778.7,2427.5 777.2,2443.4 775.7,2439.5 774.2,2437.8 772.7,2442.0 771.2,2441.7 769.7,2432.7 768.2,2431.0 766.7,2428.7 765.3,2436.1 763.8,2442.3 762.3,2441.4 760.9,2427.2 759.4,2434.6 757.9,2444.7 756.5,2415.1 755.0,2435.1 753.6,2439.3 752.2,2438.3 750.7,2417.5 749.3,2437.1 747.9,2433.7 746.4,2428.1 745.0,2436.1 743.6,2436.0 742.1,2428.7 740.8,2425.8 739.2,2429.5 737.8,2441.6 736.3,2429.3 735.0,2422.7 733.6,2428.6 732.1,2422.2 730.7,2429.8 729.2,2455.9 727.8,2428.8 726.5,2426.6 724.9,2428.1 723.5,2419.2 722.1,2421.0 720.8,2418.7 719.3,2426.1 717.8,2423.6 716.4,2422.8 715.0,2438.3 713.5,2426.4 712.0,2430.7 710.6,2422.3 709.2,2407.1 707.8,2425.4 706.3,2407.6 705.0,2418.7 703.4,2403.4 702.1,2414.8 700.6,2417.8 699.2,2437.3 697.7,2414.8 696.2,2423.9 694.8,2414.8 693.4,2419.5 691.9,2409.9 690.4,2418.1 688.9,2410.3 687.5,2411.2 686.0,2413.8 684.5,2415.9 683.0,2424.8 681.6,2425.5 680.0,2408.5 678.5,2404.2 677.0,2416.9 675.6,2418.9 674.1,2412.2 672.5,2417.0 671.1,2417.3 669.5,2407.4 668.0,2402.1 666.5,2423.0 665.0,2421.9 663.5,2405.6 662.0,2414.1 660.5,2409.6 659.1,2411.4 657.6,2406.7 656.1,2401.3 654.6,2405.5 653.1,2421.1 651.6,2412.6 650.1,2405.0 648.6,2424.4 647.1,2406.4 645.6,2414.2 644.1,2400.3 642.6,2414.7 641.1,2418.7 639.6,2406.6 638.1,2412.6 636.6,2403.6 635.1,2417.1 633.6,2420.6 632.1,2416.2 630.7,2414.5 629.2,2420.6 627.7,2418.1 626.2,2424.8 624.7,2420.5 623.2,2426.0 621.7,2405.8 620.3,2415.8 618.7,2403.6 617.2,2414.3 615.6,2420.8 614.1,2422.0 612.5,2413.7 611.0,2418.9 609.4,2414.4 607.9,2417.8 606.4,2428.7 604.8,2425.6 603.3,2422.0 601.8,2426.2 600.3,2423.1 598.9,2410.5 597.4,2420.2 595.9,2424.3 594.6,2417.8 593.2,2430.5 591.8,2419.1 590.7,2432.8 589.4,2420.1 588.2,2433.4 587.0,2428.7 585.6,2421.3 584.1,2428.7 584.1,2431.4 582.0,2422.4 581.5,2431.4 580.2,2433.9 578.9,2426.0 578.5,2434.2" fill="none" stroke="#ff0000" stroke-width="8.5" stroke-linejoin="round" stroke-linecap="round"/>
<rect x="521.40" y="1543.30" width="1544.60" height="1166.60" fill="none" stroke="#000" stroke-width="5.80"/>
<line x1="521.40" y1="1540.40" x2="521.40" y2="2712.80" stroke="#000" stroke-width="6.40" stroke-linecap="butt"/>
<line x1="2066.00" y1="1540.40" x2="2066.00" y2="2712.80" stroke="#000" stroke-width="6.40" stroke-linecap="butt"/>
<line x1="576.20" y1="2709.90" x2="576.20" y2="2731.40" stroke="#000" stroke-width="5.90" stroke-linecap="round"/>
<text transform="translate(521.26,2810.50) scale(1.0500,1)" font-size="80.50">1.5</text>
<line x1="907.05" y1="2709.90" x2="907.05" y2="2731.40" stroke="#000" stroke-width="5.90" stroke-linecap="round"/>
<text transform="translate(852.11,2810.50) scale(1.0500,1)" font-size="80.50">1.8</text>
<line x1="1237.90" y1="2709.90" x2="1237.90" y2="2731.40" stroke="#000" stroke-width="5.90" stroke-linecap="round"/>
<text transform="translate(1185.92,2810.50) scale(1.0500,1)" font-size="80.50">2.1</text>
<line x1="1568.75" y1="2709.90" x2="1568.75" y2="2731.40" stroke="#000" stroke-width="5.90" stroke-linecap="round"/>
<text transform="translate(1514.87,2810.50) scale(1.0500,1)" font-size="80.50">2.4</text>
<line x1="1899.60" y1="2709.90" x2="1899.60" y2="2731.40" stroke="#000" stroke-width="5.90" stroke-linecap="round"/>
<text transform="translate(1846.14,2810.50) scale(1.0500,1)" font-size="80.50">2.7</text>
<line x1="496.90" y1="1581.20" x2="521.40" y2="1581.20" stroke="#000" stroke-width="5.40" stroke-linecap="round"/>
<text transform="translate(151.11,1605.10) scale(1.0780,1)" font-size="81.20">0.000070</text>
<line x1="496.90" y1="1853.60" x2="521.40" y2="1853.60" stroke="#000" stroke-width="5.40" stroke-linecap="round"/>
<text transform="translate(151.11,1877.50) scale(1.0780,1)" font-size="81.20">0.000035</text>
<line x1="496.90" y1="2126.00" x2="521.40" y2="2126.00" stroke="#000" stroke-width="5.40" stroke-linecap="round"/>
<text transform="translate(151.11,2149.90) scale(1.0780,1)" font-size="81.20">0.000000</text>
<line x1="496.90" y1="2398.40" x2="521.40" y2="2398.40" stroke="#000" stroke-width="5.40" stroke-linecap="round"/>
<text transform="translate(121.96,2422.30) scale(1.0780,1)" font-size="81.20">-0.000035</text>
<line x1="496.90" y1="2670.80" x2="521.40" y2="2670.80" stroke="#000" stroke-width="5.40" stroke-linecap="round"/>
<text transform="translate(121.96,2694.70) scale(1.0780,1)" font-size="81.20">-0.000070</text>
<text transform="translate(91.70,2346.22) scale(1.0700,1) rotate(-90)" font-size="81.80">Current/ mA</text>
<text transform="translate(1118.04,2910.00) scale(1.1150,1)" font-size="78.50">Voltage/ V</text>
<text transform="translate(1216.40,3005.50) scale(1.0850,1)" font-size="90.50">(b)</text>
<text transform="translate(1466.01,2641.00) scale(1.0900,1)" font-size="80.10">After 400 cycles</text>
<line x1="1680.50" y1="1581.50" x2="1808.50" y2="1581.50" stroke="#000" stroke-width="8.20" stroke-linecap="round"/>
<line x1="1680.50" y1="1647.20" x2="1808.50" y2="1647.20" stroke="#ff0000" stroke-width="8.20" stroke-linecap="round"/>
<text transform="translate(1825.02,1599.60) scale(1.1150,1)" font-size="51.50">1st Cycle</text>
<text transform="translate(1822.60,1665.40) scale(1.1150,1)" font-size="51.50">2nd Cycle</text>
<clipPath id="clipC"><rect x="347.3" y="3048.0" width="1718.7" height="1238.7"/></clipPath><g clip-path="url(#clipC)">
<polyline points="390.0,4255.0 392.1,4248.2 395.1,4242.0 398.8,4237.2 404.7,4231.8 414.1,4226.0 425.9,4220.5 438.0,4215.8 450.2,4211.2 462.4,4206.7 473.6,4202.2 485.7,4197.3 508.1,4188.8 529.9,4181.3 551.9,4174.5 574.2,4168.7 596.3,4162.6 618.4,4155.9 640.4,4149.1 662.4,4142.3 683.6,4136.4 705.9,4130.7 727.5,4126.5 750.3,4122.9 772.2,4121.2 794.2,4120.1 816.3,4120.2 838.2,4121.4 859.9,4125.3 882.4,4130.8 903.6,4136.6 925.5,4143.7 948.3,4151.2 969.1,4158.5 987.9,4165.4 1005.6,4172.6 1021.3,4179.1 1037.3,4184.8 1050.7,4188.9 1063.4,4192.1 1076.2,4193.8 1087.3,4194.6 1097.3,4194.4 1108.3,4193.6 1121.1,4192.2 1135.9,4189.1 1152.5,4185.6 1172.2,4181.9 1195.0,4178.6 1224.7,4173.5 1266.5,4164.4 1325.6,4152.4 1418.5,4139.7 1579.2,4124.5 1861.8,4109.4" fill="none" stroke="#000" stroke-width="8.0" stroke-linejoin="round" stroke-linecap="round"/>
<rect x="375.0" y="4240.8" width="30.0" height="28.5" fill="#000"/>
<rect x="377.1" y="4233.9" width="30.0" height="28.5" fill="#000"/>
<rect x="380.1" y="4227.8" width="30.0" height="28.5" fill="#000"/>
<rect x="383.8" y="4222.9" width="30.0" height="28.5" fill="#000"/>
<rect x="389.7" y="4217.6" width="30.0" height="28.5" fill="#000"/>
<rect x="399.1" y="4211.7" width="30.0" height="28.5" fill="#000"/>
<rect x="410.9" y="4206.2" width="30.0" height="28.5" fill="#000"/>
<rect x="423.0" y="4201.5" width="30.0" height="28.5" fill="#000"/>
<rect x="435.2" y="4197.0" width="30.0" height="28.5" fill="#000"/>
<rect x="447.4" y="4192.4" width="30.0" height="28.5" fill="#000"/>
<rect x="458.6" y="4188.0" width="30.0" height="28.5" fill="#000"/>
<rect x="470.7" y="4183.1" width="30.0" height="28.5" fill="#000"/>
<rect x="493.1" y="4174.5" width="30.0" height="28.5" fill="#000"/>
<rect x="514.9" y="4167.0" width="30.0" height="28.5" fill="#000"/>
<rect x="536.9" y="4160.3" width="30.0" height="28.5" fill="#000"/>
<rect x="559.2" y="4154.5" width="30.0" height="28.5" fill="#000"/>
<rect x="581.3" y="4148.3" width="30.0" height="28.5" fill="#000"/>
<rect x="603.4" y="4141.6" width="30.0" height="28.5" fill="#000"/>
<rect x="625.4" y="4134.9" width="30.0" height="28.5" fill="#000"/>
<rect x="647.4" y="4128.1" width="30.0" height="28.5" fill="#000"/>
<rect x="668.6" y="4122.1" width="30.0" height="28.5" fill="#000"/>
<rect x="690.9" y="4116.5" width="30.0" height="28.5" fill="#000"/>
<rect x="712.5" y="4112.2" width="30.0" height="28.5" fill="#000"/>
<rect x="735.3" y="4108.7" width="30.0" height="28.5" fill="#000"/>
<rect x="757.2" y="4106.9" width="30.0" height="28.5" fill="#000"/>
<rect x="779.2" y="4105.9" width="30.0" height="28.5" fill="#000"/>
<rect x="801.3" y="4106.0" width="30.0" height="28.5" fill="#000"/>
<rect x="823.2" y="4107.2" width="30.0" height="28.5" fill="#000"/>
<rect x="844.9" y="4111.1" width="30.0" height="28.5" fill="#000"/>
<rect x="867.4" y="4116.6" width="30.0" height="28.5" fill="#000"/>
<rect x="888.6" y="4122.4" width="30.0" height="28.5" fill="#000"/>
<rect x="910.5" y="4129.4" width="30.0" height="28.5" fill="#000"/>
<rect x="933.3" y="4137.0" width="30.0" height="28.5" fill="#000"/>
<rect x="954.1" y="4144.3" width="30.0" height="28.5" fill="#000"/>
<rect x="972.9" y="4151.2" width="30.0" height="28.5" fill="#000"/>
<rect x="990.6" y="4158.3" width="30.0" height="28.5" fill="#000"/>
<rect x="1006.3" y="4164.8" width="30.0" height="28.5" fill="#000"/>
<rect x="1022.3" y="4170.5" width="30.0" height="28.5" fill="#000"/>
<rect x="1035.7" y="4174.7" width="30.0" height="28.5" fill="#000"/>
<rect x="1048.4" y="4177.9" width="30.0" height="28.5" fill="#000"/>
<rect x="1061.2" y="4179.6" width="30.0" height="28.5" fill="#000"/>
<rect x="1072.3" y="4180.3" width="30.0" height="28.5" fill="#000"/>
<rect x="1082.3" y="4180.2" width="30.0" height="28.5" fill="#000"/>
<rect x="1093.3" y="4179.4" width="30.0" height="28.5" fill="#000"/>
<rect x="1106.1" y="4177.9" width="30.0" height="28.5" fill="#000"/>
<rect x="1120.9" y="4174.8" width="30.0" height="28.5" fill="#000"/>
<rect x="1137.5" y="4171.4" width="30.0" height="28.5" fill="#000"/>
<rect x="1157.2" y="4167.7" width="30.0" height="28.5" fill="#000"/>
<rect x="1180.0" y="4164.3" width="30.0" height="28.5" fill="#000"/>
<rect x="1209.7" y="4159.2" width="30.0" height="28.5" fill="#000"/>
<rect x="1251.5" y="4150.1" width="30.0" height="28.5" fill="#000"/>
<rect x="1310.6" y="4138.1" width="30.0" height="28.5" fill="#000"/>
<rect x="1403.5" y="4125.4" width="30.0" height="28.5" fill="#000"/>
<rect x="1564.2" y="4110.2" width="30.0" height="28.5" fill="#000"/>
<rect x="1846.8" y="4095.1" width="30.0" height="28.5" fill="#000"/>
<polyline points="357.0,4257.0 363.1,4253.5 369.4,4250.2 375.7,4247.1 382.1,4244.0 388.7,4240.9 395.3,4238.6 402.1,4237.7 409.1,4237.3 416.3,4237.0 423.4,4236.7 430.4,4236.2 437.2,4235.2 444.0,4233.0 450.6,4229.9 456.8,4226.3 462.4,4222.6 467.5,4217.9 472.4,4212.6 477.2,4207.2 482.1,4202.0 487.1,4197.1 492.1,4192.0 497.1,4187.0 502.0,4182.0 519.0,4162.8 538.5,4147.8 557.9,4130.6 579.4,4117.7 606.4,4100.5 636.5,4085.4 669.6,4071.0 705.3,4060.5 743.6,4052.0 783.6,4044.6 821.3,4039.9 860.0,4035.7 896.0,4032.0 930.6,4026.4 964.7,4017.7 1000.3,4002.2 1037.0,3981.6 1075.6,3951.6 1129.3,3909.3 1189.0,3857.6 1262.0,3793.6 1351.8,3717.0 1463.0,3623.3 1601.9,3508.7 1775.5,3370.0 1998.9,3195.5" fill="none" stroke="#ff0000" stroke-width="10.0" stroke-linejoin="round" stroke-linecap="round"/>
<ellipse cx="357.6" cy="4257.5" rx="17" ry="15.7" fill="#ff0000"/>
<ellipse cx="363.7" cy="4254.0" rx="17" ry="15.7" fill="#ff0000"/>
<ellipse cx="370.0" cy="4250.7" rx="17" ry="15.7" fill="#ff0000"/>
<ellipse cx="376.3" cy="4247.6" rx="17" ry="15.7" fill="#ff0000"/>
<ellipse cx="382.7" cy="4244.5" rx="17" ry="15.7" fill="#ff0000"/>
<ellipse cx="389.3" cy="4241.4" rx="17" ry="15.7" fill="#ff0000"/>
<ellipse cx="395.9" cy="4239.1" rx="17" ry="15.7" fill="#ff0000"/>
<ellipse cx="402.7" cy="4238.2" rx="17" ry="15.7" fill="#ff0000"/>
<ellipse cx="409.7" cy="4237.8" rx="17" ry="15.7" fill="#ff0000"/>
<ellipse cx="416.9" cy="4237.5" rx="17" ry="15.7" fill="#ff0000"/>
<ellipse cx="424.0" cy="4237.2" rx="17" ry="15.7" fill="#ff0000"/>
<ellipse cx="431.0" cy="4236.7" rx="17" ry="15.7" fill="#ff0000"/>
<ellipse cx="437.8" cy="4235.7" rx="17" ry="15.7" fill="#ff0000"/>
<ellipse cx="444.6" cy="4233.5" rx="17" ry="15.7" fill="#ff0000"/>
<ellipse cx="451.2" cy="4230.4" rx="17" ry="15.7" fill="#ff0000"/>
<ellipse cx="457.4" cy="4226.8" rx="17" ry="15.7" fill="#ff0000"/>
<ellipse cx="463.0" cy="4223.1" rx="17" ry="15.7" fill="#ff0000"/>
<ellipse cx="468.1" cy="4218.4" rx="17" ry="15.7" fill="#ff0000"/>
<ellipse cx="473.0" cy="4213.1" rx="17" ry="15.7" fill="#ff0000"/>
<ellipse cx="477.8" cy="4207.7" rx="17" ry="15.7" fill="#ff0000"/>
<ellipse cx="482.7" cy="4202.5" rx="17" ry="15.7" fill="#ff0000"/>
<ellipse cx="487.7" cy="4197.6" rx="17" ry="15.7" fill="#ff0000"/>
<ellipse cx="492.7" cy="4192.5" rx="17" ry="15.7" fill="#ff0000"/>
<ellipse cx="497.7" cy="4187.5" rx="17" ry="15.7" fill="#ff0000"/>
<ellipse cx="502.6" cy="4182.5" rx="17" ry="15.7" fill="#ff0000"/>
<ellipse cx="519.6" cy="4163.3" rx="17" ry="15.7" fill="#ff0000"/>
<ellipse cx="539.1" cy="4148.3" rx="17" ry="15.7" fill="#ff0000"/>
<ellipse cx="558.5" cy="4131.1" rx="17" ry="15.7" fill="#ff0000"/>
<ellipse cx="580.0" cy="4118.2" rx="17" ry="15.7" fill="#ff0000"/>
<ellipse cx="607.0" cy="4101.0" rx="17" ry="15.7" fill="#ff0000"/>
<ellipse cx="637.1" cy="4085.9" rx="17" ry="15.7" fill="#ff0000"/>
<ellipse cx="670.2" cy="4071.5" rx="17" ry="15.7" fill="#ff0000"/>
<ellipse cx="705.9" cy="4061.0" rx="17" ry="15.7" fill="#ff0000"/>
<ellipse cx="744.2" cy="4052.5" rx="17" ry="15.7" fill="#ff0000"/>
<ellipse cx="784.2" cy="4045.1" rx="17" ry="15.7" fill="#ff0000"/>
<ellipse cx="821.9" cy="4040.4" rx="17" ry="15.7" fill="#ff0000"/>
<ellipse cx="860.6" cy="4036.2" rx="17" ry="15.7" fill="#ff0000"/>
<ellipse cx="896.6" cy="4032.5" rx="17" ry="15.7" fill="#ff0000"/>
<ellipse cx="931.2" cy="4026.9" rx="17" ry="15.7" fill="#ff0000"/>
<ellipse cx="965.3" cy="4018.2" rx="17" ry="15.7" fill="#ff0000"/>
<ellipse cx="1000.9" cy="4002.7" rx="17" ry="15.7" fill="#ff0000"/>
<ellipse cx="1037.6" cy="3982.1" rx="17" ry="15.7" fill="#ff0000"/>
<ellipse cx="1076.2" cy="3952.1" rx="17" ry="15.7" fill="#ff0000"/>
<ellipse cx="1129.9" cy="3909.8" rx="17" ry="15.7" fill="#ff0000"/>
<ellipse cx="1189.6" cy="3858.1" rx="17" ry="15.7" fill="#ff0000"/>
<ellipse cx="1262.6" cy="3794.1" rx="17" ry="15.7" fill="#ff0000"/>
<ellipse cx="1352.4" cy="3717.5" rx="17" ry="15.7" fill="#ff0000"/>
<ellipse cx="1463.6" cy="3623.8" rx="17" ry="15.7" fill="#ff0000"/>
<ellipse cx="1602.5" cy="3509.2" rx="17" ry="15.7" fill="#ff0000"/>
<ellipse cx="1776.1" cy="3370.5" rx="17" ry="15.7" fill="#ff0000"/>
<ellipse cx="1999.5" cy="3196.0" rx="17" ry="15.7" fill="#ff0000"/>
</g>
<rect x="347.30" y="3048.00" width="1718.70" height="1238.70" fill="none" stroke="#000" stroke-width="5.80"/>
<line x1="347.30" y1="3045.10" x2="347.30" y2="4289.60" stroke="#000" stroke-width="6.40" stroke-linecap="butt"/>
<line x1="2066.00" y1="3045.10" x2="2066.00" y2="4289.60" stroke="#000" stroke-width="6.40" stroke-linecap="butt"/>
<line x1="347.40" y1="4286.70" x2="347.40" y2="4310.20" stroke="#000" stroke-width="5.70" stroke-linecap="round"/>
<text transform="translate(326.73,4383.00) scale(1.1100,1)" font-size="74.50">0</text>
<line x1="581.60" y1="4286.70" x2="581.60" y2="4310.20" stroke="#000" stroke-width="5.70" stroke-linecap="round"/>
<text transform="translate(539.01,4383.00) scale(1.1100,1)" font-size="74.50">75</text>
<line x1="815.80" y1="4286.70" x2="815.80" y2="4310.20" stroke="#000" stroke-width="5.70" stroke-linecap="round"/>
<text transform="translate(751.71,4383.00) scale(1.1100,1)" font-size="74.50">150</text>
<line x1="1050.00" y1="4286.70" x2="1050.00" y2="4310.20" stroke="#000" stroke-width="5.70" stroke-linecap="round"/>
<text transform="translate(987.77,4383.00) scale(1.1100,1)" font-size="74.50">225</text>
<line x1="1284.20" y1="4286.70" x2="1284.20" y2="4310.20" stroke="#000" stroke-width="5.70" stroke-linecap="round"/>
<text transform="translate(1221.77,4383.00) scale(1.1100,1)" font-size="74.50">300</text>
<line x1="1518.40" y1="4286.70" x2="1518.40" y2="4310.20" stroke="#000" stroke-width="5.70" stroke-linecap="round"/>
<text transform="translate(1455.97,4383.00) scale(1.1100,1)" font-size="74.50">375</text>
<line x1="1752.60" y1="4286.70" x2="1752.60" y2="4310.20" stroke="#000" stroke-width="5.70" stroke-linecap="round"/>
<text transform="translate(1691.41,4383.00) scale(1.1100,1)" font-size="74.50">450</text>
<line x1="1986.80" y1="4286.70" x2="1986.80" y2="4310.20" stroke="#000" stroke-width="5.70" stroke-linecap="round"/>
<text transform="translate(1923.95,4383.00) scale(1.1100,1)" font-size="74.50">525</text>
<line x1="320.30" y1="4260.20" x2="347.30" y2="4260.20" stroke="#000" stroke-width="5.30" stroke-linecap="round"/>
<text transform="translate(259.64,4280.20) scale(1.1350,1)" font-size="74.00">0</text>
<line x1="320.30" y1="3990.50" x2="347.30" y2="3990.50" stroke="#000" stroke-width="5.30" stroke-linecap="round"/>
<text transform="translate(175.65,4010.50) scale(1.1350,1)" font-size="74.00">100</text>
<line x1="320.30" y1="3720.80" x2="347.30" y2="3720.80" stroke="#000" stroke-width="5.30" stroke-linecap="round"/>
<text transform="translate(175.65,3740.80) scale(1.1350,1)" font-size="74.00">200</text>
<line x1="320.30" y1="3451.10" x2="347.30" y2="3451.10" stroke="#000" stroke-width="5.30" stroke-linecap="round"/>
<text transform="translate(175.65,3471.10) scale(1.1350,1)" font-size="74.00">300</text>
<line x1="320.30" y1="3181.40" x2="347.30" y2="3181.40" stroke="#000" stroke-width="5.30" stroke-linecap="round"/>
<text transform="translate(175.65,3201.40) scale(1.1350,1)" font-size="74.00">400</text>
<rect x="395.4" y="3090.7" width="757" height="187" fill="#fff" stroke="#000" stroke-width="1.5"/>
<line x1="395.40" y1="3090.00" x2="395.40" y2="3278.40" stroke="#000" stroke-width="2.60" stroke-linecap="butt"/>
<line x1="1152.40" y1="3090.00" x2="1152.40" y2="3278.40" stroke="#000" stroke-width="2.60" stroke-linecap="butt"/>
<line x1="441.00" y1="3148.50" x2="592.00" y2="3148.50" stroke="#000" stroke-width="8.60" stroke-linecap="round"/>
<rect x="501.3" y="3134.5" width="29.5" height="27" fill="#000"/>
<line x1="441.00" y1="3239.00" x2="592.00" y2="3239.00" stroke="#ff0000" stroke-width="8.60" stroke-linecap="round"/>
<ellipse cx="516" cy="3239" rx="16.5" ry="15" fill="#ff0000"/>
<text transform="translate(609.93,3167.50) scale(1.1330,1)" font-size="73.00">Before Cycle</text>
<text transform="translate(610.78,3259.80) scale(1.1370,1)" font-size="73.00">After 400 cycle</text>
<text transform="translate(1035.38,4492.70) scale(1.0800,1)" font-size="82.70">Z</text>
<text transform="translate(1096.40,4527.10) scale(1.0750,1)" font-size="88.50">real</text>
<text transform="translate(1239.90,4492.70) scale(1.0700,1)" font-size="86.40">(Ω)</text>
<text transform="translate(1067.68,4631.10) scale(1.0900,1)" font-size="92.20">(c)</text>
<text transform="translate(106.80,3910.58) scale(1.1400,1) rotate(-90)" font-size="88.00">-Z</text>
<text transform="translate(145.50,3824.84) scale(1.2000,1) rotate(-90)" font-size="47.00">img</text>
<text transform="translate(106.80,3750.29) scale(1.0900,1) rotate(-90)" font-size="92.20">(Ω)</text>
</svg>
</body></html>
